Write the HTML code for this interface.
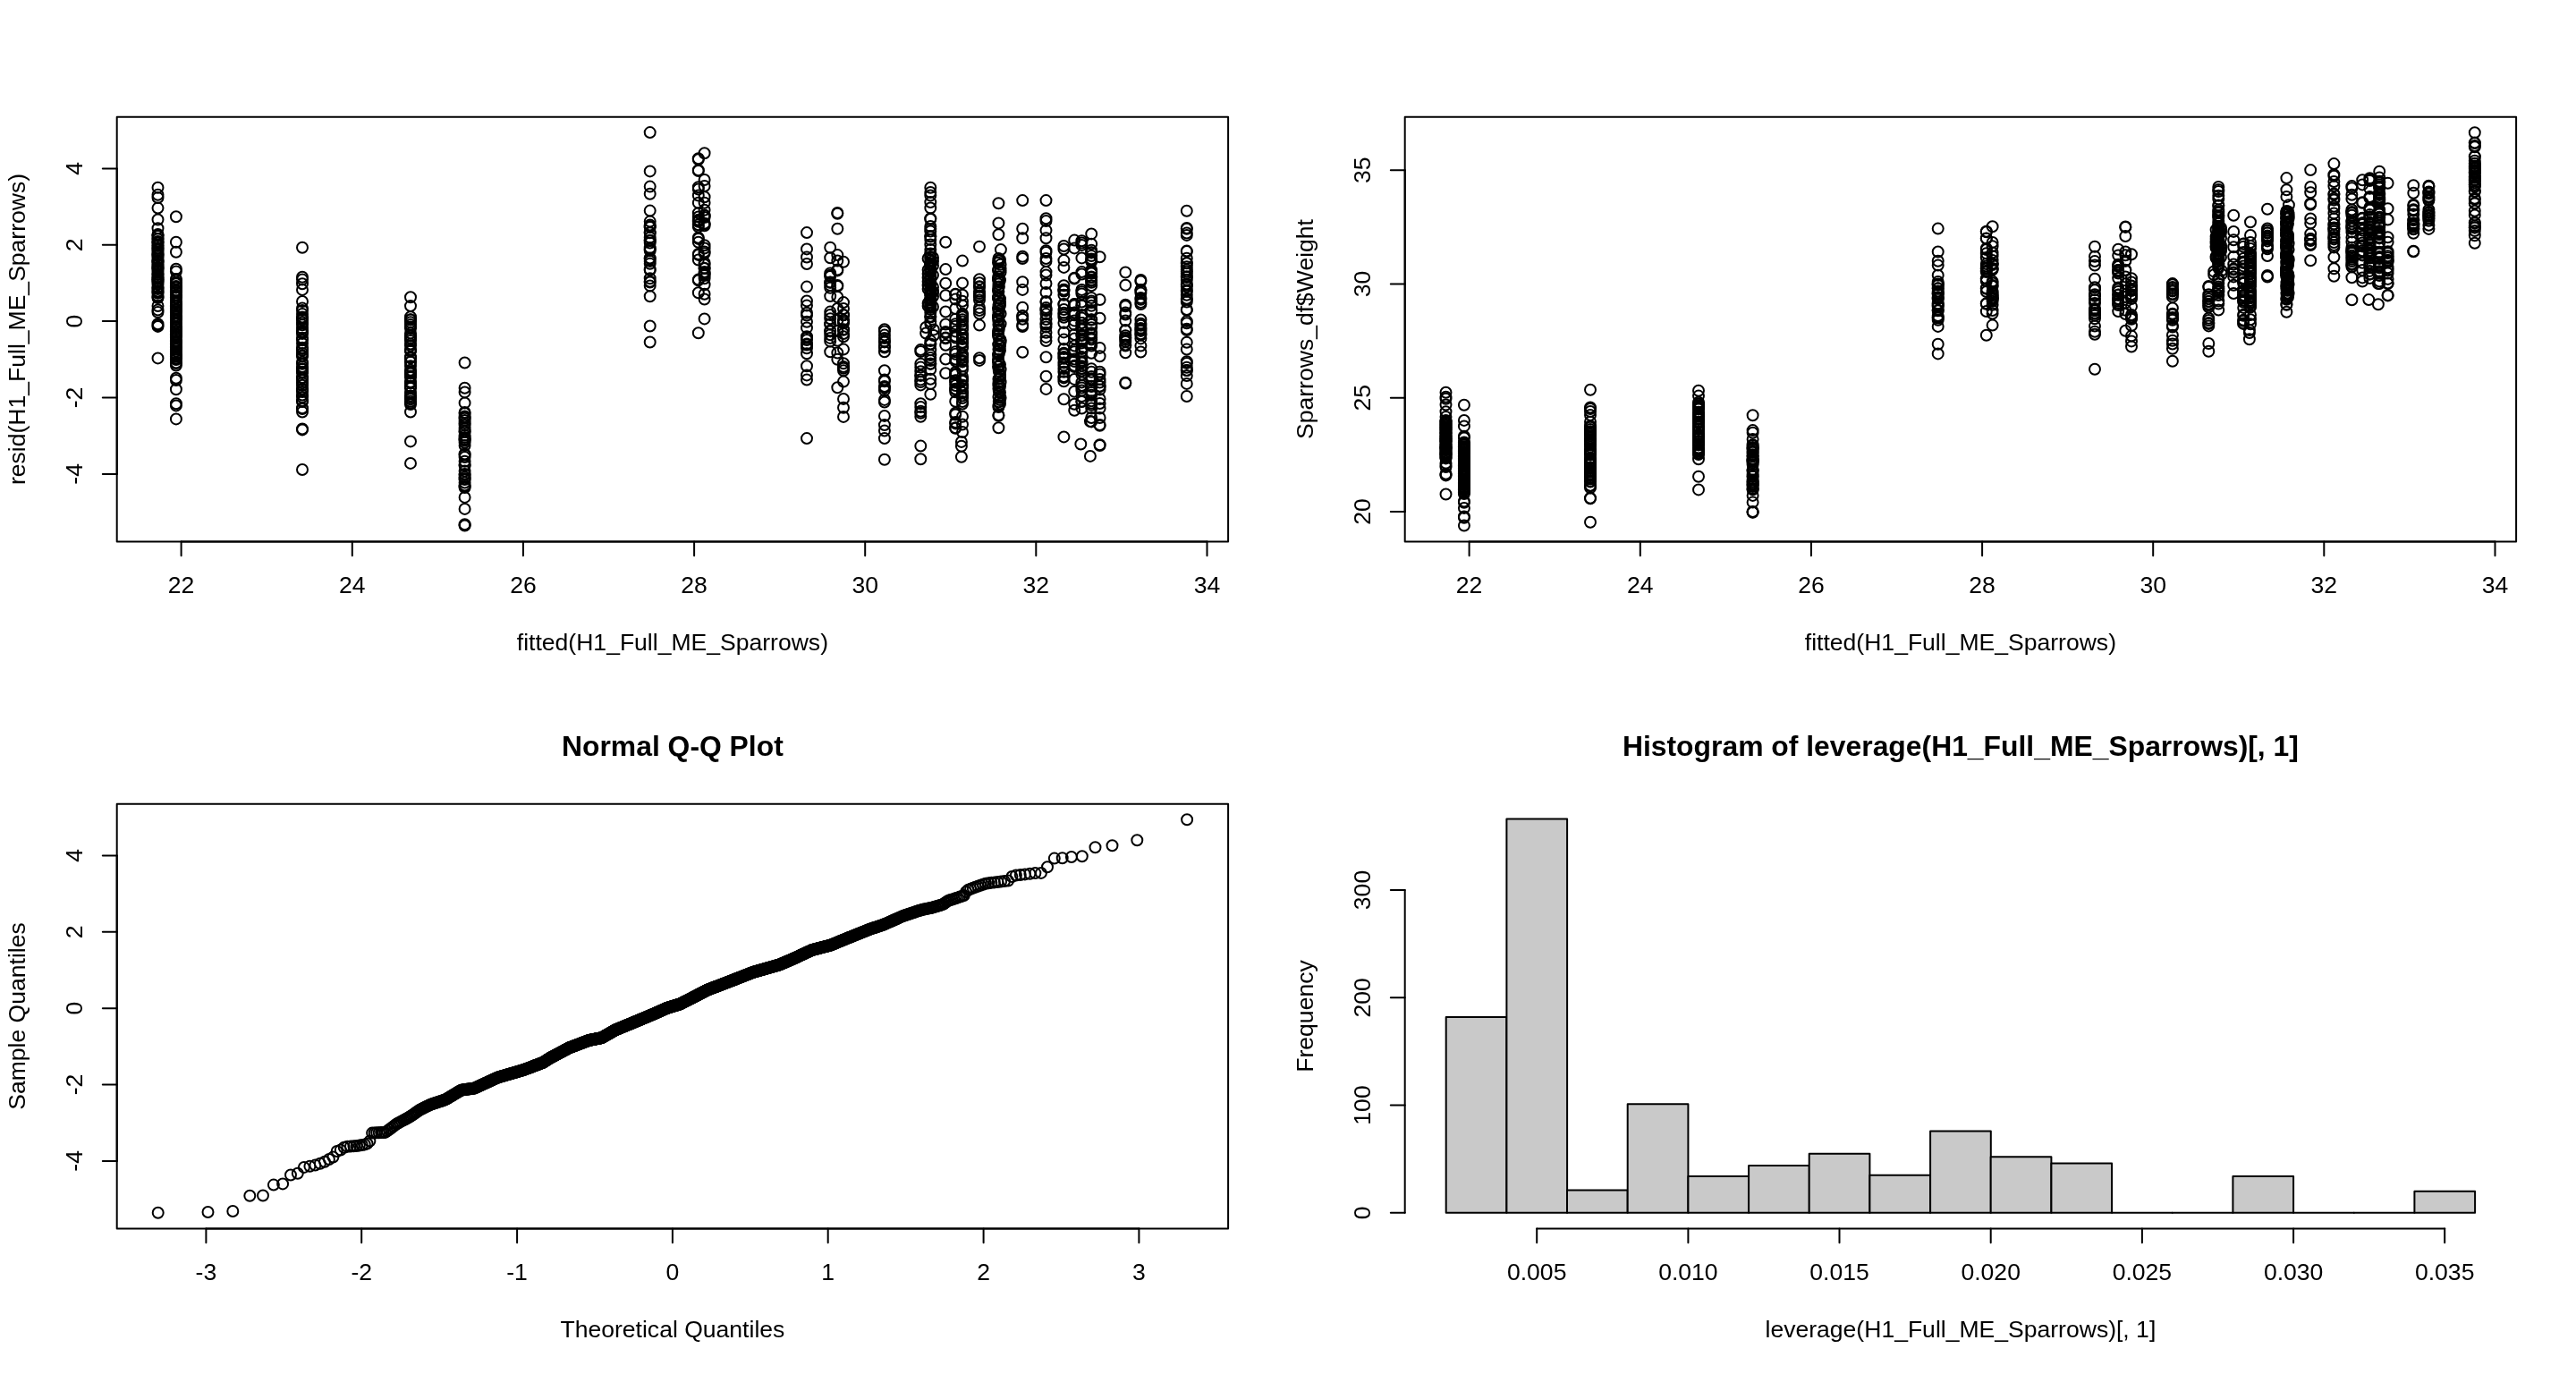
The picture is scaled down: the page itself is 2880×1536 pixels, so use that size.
<!DOCTYPE html>
<html><head><meta charset="utf-8"><title>plot</title>
<style>
html,body{margin:0;padding:0;background:#fff;}
body{width:2880px;height:1536px;overflow:hidden;}
svg{display:block;will-change:transform;}
.p{fill:none;stroke:#000;stroke-width:2.0;}
.l{fill:none;stroke:#000;stroke-width:2;stroke-linecap:round;stroke-linejoin:round;}
.b{fill:#C9C9C9;stroke:#000;stroke-width:2;stroke-linejoin:round;}
.t{font-family:"Liberation Sans",sans-serif;font-size:26.56px;fill:#000;text-anchor:middle;}
.h{font-family:"Liberation Sans",sans-serif;font-size:31.87px;font-weight:bold;fill:#000;text-anchor:middle;}
</style></head><body>

<svg width="2880" height="1536" viewBox="0 0 2880 1536">
<rect x="0" y="0" width="2880" height="1536" fill="#fff"/>
<g class="p">
<circle cx="176.5" cy="209.7" r="5.98"/><circle cx="176.5" cy="217.8" r="5.98"/><circle cx="176.5" cy="221.1" r="5.98"/><circle cx="176.5" cy="232.6" r="5.98"/><circle cx="176.5" cy="245.5" r="5.98"/><circle cx="176.5" cy="255.2" r="5.98"/><circle cx="176.5" cy="342" r="5.98"/><circle cx="176.5" cy="346.4" r="5.98"/><circle cx="176.5" cy="349.1" r="5.98"/><circle cx="176.5" cy="362.2" r="5.98"/><circle cx="176.5" cy="363.8" r="5.98"/><circle cx="176.5" cy="364.9" r="5.98"/><circle cx="176.5" cy="400.4" r="5.98"/><circle cx="176.5" cy="262" r="5.98"/><circle cx="176.5" cy="263" r="5.98"/><circle cx="176.5" cy="264.1" r="5.98"/><circle cx="176.5" cy="267" r="5.98"/><circle cx="176.5" cy="267.2" r="5.98"/><circle cx="176.5" cy="270" r="5.98"/><circle cx="176.5" cy="271.1" r="5.98"/><circle cx="176.5" cy="271.7" r="5.98"/><circle cx="176.5" cy="274.6" r="5.98"/><circle cx="176.5" cy="274.8" r="5.98"/><circle cx="176.5" cy="277.6" r="5.98"/><circle cx="176.5" cy="278.1" r="5.98"/><circle cx="176.5" cy="279.7" r="5.98"/><circle cx="176.5" cy="282.3" r="5.98"/><circle cx="176.5" cy="284.5" r="5.98"/><circle cx="176.5" cy="285.1" r="5.98"/><circle cx="176.5" cy="286.4" r="5.98"/><circle cx="176.5" cy="289.2" r="5.98"/><circle cx="176.5" cy="291.7" r="5.98"/><circle cx="176.5" cy="292.2" r="5.98"/><circle cx="176.5" cy="293.2" r="5.98"/><circle cx="176.5" cy="295.4" r="5.98"/><circle cx="176.5" cy="296.6" r="5.98"/><circle cx="176.5" cy="299.2" r="5.98"/><circle cx="176.5" cy="299.4" r="5.98"/><circle cx="176.5" cy="300.4" r="5.98"/><circle cx="176.5" cy="301.9" r="5.98"/><circle cx="176.5" cy="304" r="5.98"/><circle cx="176.5" cy="306.8" r="5.98"/><circle cx="176.5" cy="307.1" r="5.98"/><circle cx="176.5" cy="309.6" r="5.98"/><circle cx="176.5" cy="311.3" r="5.98"/><circle cx="176.5" cy="312.1" r="5.98"/><circle cx="176.5" cy="314.2" r="5.98"/><circle cx="176.5" cy="314.3" r="5.98"/><circle cx="176.5" cy="315.9" r="5.98"/><circle cx="176.5" cy="317.9" r="5.98"/><circle cx="176.5" cy="320.9" r="5.98"/><circle cx="176.5" cy="321.7" r="5.98"/><circle cx="176.5" cy="323" r="5.98"/><circle cx="176.5" cy="325.4" r="5.98"/><circle cx="176.5" cy="326.5" r="5.98"/><circle cx="176.5" cy="327.7" r="5.98"/><circle cx="176.5" cy="330.7" r="5.98"/><circle cx="176.5" cy="332" r="5.98"/><circle cx="176.5" cy="333" r="5.98"/><circle cx="196.9" cy="242.2" r="5.98"/><circle cx="196.9" cy="270.8" r="5.98"/><circle cx="196.9" cy="281.7" r="5.98"/><circle cx="196.9" cy="300.8" r="5.98"/><circle cx="196.9" cy="303.5" r="5.98"/><circle cx="196.9" cy="408.6" r="5.98"/><circle cx="196.9" cy="422.8" r="5.98"/><circle cx="196.9" cy="425" r="5.98"/><circle cx="196.9" cy="435.3" r="5.98"/><circle cx="196.9" cy="451.2" r="5.98"/><circle cx="196.9" cy="453.4" r="5.98"/><circle cx="196.9" cy="468.4" r="5.98"/><circle cx="196.9" cy="312" r="5.98"/><circle cx="196.9" cy="312.9" r="5.98"/><circle cx="196.9" cy="315.7" r="5.98"/><circle cx="196.9" cy="317.2" r="5.98"/><circle cx="196.9" cy="320.1" r="5.98"/><circle cx="196.9" cy="321.3" r="5.98"/><circle cx="196.9" cy="321.6" r="5.98"/><circle cx="196.9" cy="324.4" r="5.98"/><circle cx="196.9" cy="325.5" r="5.98"/><circle cx="196.9" cy="327.1" r="5.98"/><circle cx="196.9" cy="329.7" r="5.98"/><circle cx="196.9" cy="329.9" r="5.98"/><circle cx="196.9" cy="332.5" r="5.98"/><circle cx="196.9" cy="332.7" r="5.98"/><circle cx="196.9" cy="336.5" r="5.98"/><circle cx="196.9" cy="338.5" r="5.98"/><circle cx="196.9" cy="339.6" r="5.98"/><circle cx="196.9" cy="342.2" r="5.98"/><circle cx="196.9" cy="342.3" r="5.98"/><circle cx="196.9" cy="345.1" r="5.98"/><circle cx="196.9" cy="346.5" r="5.98"/><circle cx="196.9" cy="348.2" r="5.98"/><circle cx="196.9" cy="349.5" r="5.98"/><circle cx="196.9" cy="352.4" r="5.98"/><circle cx="196.9" cy="354.5" r="5.98"/><circle cx="196.9" cy="354.6" r="5.98"/><circle cx="196.9" cy="356.7" r="5.98"/><circle cx="196.9" cy="357" r="5.98"/><circle cx="196.9" cy="360.5" r="5.98"/><circle cx="196.9" cy="362" r="5.98"/><circle cx="196.9" cy="364.9" r="5.98"/><circle cx="196.9" cy="366" r="5.98"/><circle cx="196.9" cy="366" r="5.98"/><circle cx="196.9" cy="368" r="5.98"/><circle cx="196.9" cy="370.3" r="5.98"/><circle cx="196.9" cy="370.7" r="5.98"/><circle cx="196.9" cy="373.4" r="5.98"/><circle cx="196.9" cy="374.2" r="5.98"/><circle cx="196.9" cy="375.7" r="5.98"/><circle cx="196.9" cy="377.2" r="5.98"/><circle cx="196.9" cy="380.9" r="5.98"/><circle cx="196.9" cy="381.2" r="5.98"/><circle cx="196.9" cy="383" r="5.98"/><circle cx="196.9" cy="385.1" r="5.98"/><circle cx="196.9" cy="387.5" r="5.98"/><circle cx="196.9" cy="388.4" r="5.98"/><circle cx="196.9" cy="390.5" r="5.98"/><circle cx="196.9" cy="392.5" r="5.98"/><circle cx="196.9" cy="395.3" r="5.98"/><circle cx="196.9" cy="396.8" r="5.98"/><circle cx="196.9" cy="398.4" r="5.98"/><circle cx="196.9" cy="398.6" r="5.98"/><circle cx="196.9" cy="400.6" r="5.98"/><circle cx="196.9" cy="402.1" r="5.98"/><circle cx="196.9" cy="405.5" r="5.98"/><circle cx="196.9" cy="406" r="5.98"/><circle cx="338" cy="276.7" r="5.98"/><circle cx="338" cy="309.7" r="5.98"/><circle cx="338" cy="312.4" r="5.98"/><circle cx="338" cy="317.3" r="5.98"/><circle cx="338" cy="323.9" r="5.98"/><circle cx="338" cy="337" r="5.98"/><circle cx="338" cy="344.6" r="5.98"/><circle cx="338" cy="347" r="5.98"/><circle cx="338" cy="460.6" r="5.98"/><circle cx="338" cy="479.5" r="5.98"/><circle cx="338" cy="480.4" r="5.98"/><circle cx="338" cy="525" r="5.98"/><circle cx="338" cy="351" r="5.98"/><circle cx="338" cy="354.6" r="5.98"/><circle cx="338" cy="356.1" r="5.98"/><circle cx="338" cy="357.5" r="5.98"/><circle cx="338" cy="360.5" r="5.98"/><circle cx="338" cy="363.2" r="5.98"/><circle cx="338" cy="367.2" r="5.98"/><circle cx="338" cy="370.5" r="5.98"/><circle cx="338" cy="371.5" r="5.98"/><circle cx="338" cy="372.9" r="5.98"/><circle cx="338" cy="377.8" r="5.98"/><circle cx="338" cy="380.2" r="5.98"/><circle cx="338" cy="384" r="5.98"/><circle cx="338" cy="388.7" r="5.98"/><circle cx="338" cy="390" r="5.98"/><circle cx="338" cy="391.8" r="5.98"/><circle cx="338" cy="395.1" r="5.98"/><circle cx="338" cy="397.6" r="5.98"/><circle cx="338" cy="398.1" r="5.98"/><circle cx="338" cy="404.7" r="5.98"/><circle cx="338" cy="406.8" r="5.98"/><circle cx="338" cy="410" r="5.98"/><circle cx="338" cy="412.3" r="5.98"/><circle cx="338" cy="413" r="5.98"/><circle cx="338" cy="415.7" r="5.98"/><circle cx="338" cy="416.9" r="5.98"/><circle cx="338" cy="422.1" r="5.98"/><circle cx="338" cy="422.4" r="5.98"/><circle cx="338" cy="424.9" r="5.98"/><circle cx="338" cy="428.3" r="5.98"/><circle cx="338" cy="430.8" r="5.98"/><circle cx="338" cy="434.4" r="5.98"/><circle cx="338" cy="435.7" r="5.98"/><circle cx="338" cy="438.1" r="5.98"/><circle cx="338" cy="441.6" r="5.98"/><circle cx="338" cy="444.1" r="5.98"/><circle cx="338" cy="448.1" r="5.98"/><circle cx="338" cy="449.1" r="5.98"/><circle cx="338" cy="456.2" r="5.98"/><circle cx="338" cy="457" r="5.98"/><circle cx="459" cy="332.2" r="5.98"/><circle cx="459" cy="342.1" r="5.98"/><circle cx="459" cy="460.5" r="5.98"/><circle cx="459" cy="493.4" r="5.98"/><circle cx="459" cy="517.9" r="5.98"/><circle cx="459" cy="354.3" r="5.98"/><circle cx="459" cy="357.2" r="5.98"/><circle cx="459" cy="357.5" r="5.98"/><circle cx="459" cy="360.3" r="5.98"/><circle cx="459" cy="363.1" r="5.98"/><circle cx="459" cy="365.6" r="5.98"/><circle cx="459" cy="366.9" r="5.98"/><circle cx="459" cy="372.6" r="5.98"/><circle cx="459" cy="375.6" r="5.98"/><circle cx="459" cy="375.6" r="5.98"/><circle cx="459" cy="378.1" r="5.98"/><circle cx="459" cy="378.7" r="5.98"/><circle cx="459" cy="381.1" r="5.98"/><circle cx="459" cy="384.6" r="5.98"/><circle cx="459" cy="386.6" r="5.98"/><circle cx="459" cy="390.9" r="5.98"/><circle cx="459" cy="391.6" r="5.98"/><circle cx="459" cy="392.7" r="5.98"/><circle cx="459" cy="399.3" r="5.98"/><circle cx="459" cy="399.8" r="5.98"/><circle cx="459" cy="400.4" r="5.98"/><circle cx="459" cy="404.6" r="5.98"/><circle cx="459" cy="404.6" r="5.98"/><circle cx="459" cy="409.3" r="5.98"/><circle cx="459" cy="413.7" r="5.98"/><circle cx="459" cy="415.6" r="5.98"/><circle cx="459" cy="417.2" r="5.98"/><circle cx="459" cy="417.6" r="5.98"/><circle cx="459" cy="420.5" r="5.98"/><circle cx="459" cy="422" r="5.98"/><circle cx="459" cy="427.1" r="5.98"/><circle cx="459" cy="428.4" r="5.98"/><circle cx="459" cy="431.9" r="5.98"/><circle cx="459" cy="432.2" r="5.98"/><circle cx="459" cy="434.1" r="5.98"/><circle cx="459" cy="439.2" r="5.98"/><circle cx="459" cy="442.4" r="5.98"/><circle cx="459" cy="444.2" r="5.98"/><circle cx="459" cy="446.3" r="5.98"/><circle cx="459" cy="448.8" r="5.98"/><circle cx="459" cy="450.8" r="5.98"/><circle cx="459" cy="452.1" r="5.98"/><circle cx="519.6" cy="405.5" r="5.98"/><circle cx="519.6" cy="433.8" r="5.98"/><circle cx="519.6" cy="438.4" r="5.98"/><circle cx="519.6" cy="450.4" r="5.98"/><circle cx="519.6" cy="555.9" r="5.98"/><circle cx="519.6" cy="568.9" r="5.98"/><circle cx="519.6" cy="586.3" r="5.98"/><circle cx="519.6" cy="586.9" r="5.98"/><circle cx="519.6" cy="587.5" r="5.98"/><circle cx="519.6" cy="461" r="5.98"/><circle cx="519.6" cy="462" r="5.98"/><circle cx="519.6" cy="465.4" r="5.98"/><circle cx="519.6" cy="466.9" r="5.98"/><circle cx="519.6" cy="467.8" r="5.98"/><circle cx="519.6" cy="469.9" r="5.98"/><circle cx="519.6" cy="473.1" r="5.98"/><circle cx="519.6" cy="475.2" r="5.98"/><circle cx="519.6" cy="479.2" r="5.98"/><circle cx="519.6" cy="482.5" r="5.98"/><circle cx="519.6" cy="482.5" r="5.98"/><circle cx="519.6" cy="486.7" r="5.98"/><circle cx="519.6" cy="489.1" r="5.98"/><circle cx="519.6" cy="490.9" r="5.98"/><circle cx="519.6" cy="491.2" r="5.98"/><circle cx="519.6" cy="492.5" r="5.98"/><circle cx="519.6" cy="494.7" r="5.98"/><circle cx="519.6" cy="498" r="5.98"/><circle cx="519.6" cy="507.4" r="5.98"/><circle cx="519.6" cy="508.5" r="5.98"/><circle cx="519.6" cy="511.1" r="5.98"/><circle cx="519.6" cy="515.8" r="5.98"/><circle cx="519.6" cy="519.8" r="5.98"/><circle cx="519.6" cy="520.4" r="5.98"/><circle cx="519.6" cy="526.6" r="5.98"/><circle cx="519.6" cy="530" r="5.98"/><circle cx="519.6" cy="530.6" r="5.98"/><circle cx="519.6" cy="533.4" r="5.98"/><circle cx="519.6" cy="535.3" r="5.98"/><circle cx="519.6" cy="536" r="5.98"/><circle cx="519.6" cy="539.6" r="5.98"/><circle cx="519.6" cy="542.6" r="5.98"/><circle cx="519.6" cy="544.1" r="5.98"/><circle cx="519.6" cy="545.1" r="5.98"/><circle cx="726.7" cy="148.1" r="5.98"/><circle cx="726.7" cy="191.4" r="5.98"/><circle cx="726.7" cy="208.6" r="5.98"/><circle cx="726.7" cy="216.8" r="5.98"/><circle cx="726.7" cy="235.6" r="5.98"/><circle cx="726.7" cy="331.3" r="5.98"/><circle cx="726.7" cy="364.5" r="5.98"/><circle cx="726.7" cy="382.5" r="5.98"/><circle cx="726.7" cy="247.6" r="5.98"/><circle cx="726.7" cy="251.6" r="5.98"/><circle cx="726.7" cy="252.9" r="5.98"/><circle cx="726.7" cy="254.1" r="5.98"/><circle cx="726.7" cy="260" r="5.98"/><circle cx="726.7" cy="260.3" r="5.98"/><circle cx="726.7" cy="265.5" r="5.98"/><circle cx="726.7" cy="268.8" r="5.98"/><circle cx="726.7" cy="269.1" r="5.98"/><circle cx="726.7" cy="271.5" r="5.98"/><circle cx="726.7" cy="277.1" r="5.98"/><circle cx="726.7" cy="278.6" r="5.98"/><circle cx="726.7" cy="280.2" r="5.98"/><circle cx="726.7" cy="288.4" r="5.98"/><circle cx="726.7" cy="289.4" r="5.98"/><circle cx="726.7" cy="291.9" r="5.98"/><circle cx="726.7" cy="294.7" r="5.98"/><circle cx="726.7" cy="301.3" r="5.98"/><circle cx="726.7" cy="301.9" r="5.98"/><circle cx="726.7" cy="311.2" r="5.98"/><circle cx="726.7" cy="314.8" r="5.98"/><circle cx="726.7" cy="315.5" r="5.98"/><circle cx="726.7" cy="319.4" r="5.98"/><circle cx="780.8" cy="177.3" r="5.98"/><circle cx="780.8" cy="178.2" r="5.98"/><circle cx="780.8" cy="190.2" r="5.98"/><circle cx="780.8" cy="191" r="5.98"/><circle cx="780.8" cy="209.2" r="5.98"/><circle cx="780.8" cy="211.5" r="5.98"/><circle cx="780.8" cy="218.5" r="5.98"/><circle cx="780.8" cy="226.7" r="5.98"/><circle cx="780.8" cy="265.8" r="5.98"/><circle cx="780.8" cy="266.9" r="5.98"/><circle cx="780.8" cy="270.7" r="5.98"/><circle cx="780.8" cy="283.9" r="5.98"/><circle cx="780.8" cy="284.9" r="5.98"/><circle cx="780.8" cy="290.5" r="5.98"/><circle cx="780.8" cy="312.6" r="5.98"/><circle cx="780.8" cy="313.4" r="5.98"/><circle cx="780.8" cy="327.3" r="5.98"/><circle cx="780.8" cy="372.2" r="5.98"/><circle cx="780.8" cy="238.3" r="5.98"/><circle cx="780.8" cy="242.4" r="5.98"/><circle cx="780.8" cy="245.7" r="5.98"/><circle cx="780.8" cy="246.7" r="5.98"/><circle cx="780.8" cy="247.7" r="5.98"/><circle cx="780.8" cy="251.2" r="5.98"/><circle cx="780.8" cy="253.5" r="5.98"/><circle cx="787.6" cy="171.3" r="5.98"/><circle cx="787.6" cy="201" r="5.98"/><circle cx="787.6" cy="208" r="5.98"/><circle cx="787.6" cy="220.3" r="5.98"/><circle cx="787.6" cy="226.7" r="5.98"/><circle cx="787.6" cy="234.8" r="5.98"/><circle cx="787.6" cy="274.2" r="5.98"/><circle cx="787.6" cy="277.5" r="5.98"/><circle cx="787.6" cy="281.4" r="5.98"/><circle cx="787.6" cy="283.3" r="5.98"/><circle cx="787.6" cy="318.2" r="5.98"/><circle cx="787.6" cy="328.7" r="5.98"/><circle cx="787.6" cy="334.5" r="5.98"/><circle cx="787.6" cy="356.4" r="5.98"/><circle cx="787.6" cy="240.6" r="5.98"/><circle cx="787.6" cy="241.3" r="5.98"/><circle cx="787.6" cy="243.1" r="5.98"/><circle cx="787.6" cy="249.7" r="5.98"/><circle cx="787.6" cy="250.6" r="5.98"/><circle cx="787.6" cy="252.3" r="5.98"/><circle cx="787.6" cy="293.8" r="5.98"/><circle cx="787.6" cy="296.1" r="5.98"/><circle cx="787.6" cy="299.9" r="5.98"/><circle cx="787.6" cy="300.1" r="5.98"/><circle cx="787.6" cy="304" r="5.98"/><circle cx="787.6" cy="305.7" r="5.98"/><circle cx="787.6" cy="306" r="5.98"/><circle cx="787.6" cy="308" r="5.98"/><circle cx="787.6" cy="311.2" r="5.98"/><circle cx="902" cy="260.1" r="5.98"/><circle cx="902" cy="278.4" r="5.98"/><circle cx="902" cy="287.5" r="5.98"/><circle cx="902" cy="295" r="5.98"/><circle cx="902" cy="320.6" r="5.98"/><circle cx="902" cy="336.4" r="5.98"/><circle cx="902" cy="341.6" r="5.98"/><circle cx="902" cy="349.8" r="5.98"/><circle cx="902" cy="352.6" r="5.98"/><circle cx="902" cy="359.8" r="5.98"/><circle cx="902" cy="366.4" r="5.98"/><circle cx="902" cy="395.2" r="5.98"/><circle cx="902" cy="409.2" r="5.98"/><circle cx="902" cy="419.4" r="5.98"/><circle cx="902" cy="424.6" r="5.98"/><circle cx="902" cy="490.1" r="5.98"/><circle cx="902" cy="376.2" r="5.98"/><circle cx="902" cy="377.8" r="5.98"/><circle cx="902" cy="380.1" r="5.98"/><circle cx="902" cy="384.5" r="5.98"/><circle cx="902" cy="385.5" r="5.98"/><circle cx="902" cy="389.3" r="5.98"/><circle cx="928.2" cy="276.7" r="5.98"/><circle cx="928.2" cy="288.3" r="5.98"/><circle cx="928.2" cy="331.1" r="5.98"/><circle cx="928.2" cy="348.6" r="5.98"/><circle cx="928.2" cy="393.2" r="5.98"/><circle cx="928.2" cy="305.5" r="5.98"/><circle cx="928.2" cy="307.8" r="5.98"/><circle cx="928.2" cy="309" r="5.98"/><circle cx="928.2" cy="315.6" r="5.98"/><circle cx="928.2" cy="315.8" r="5.98"/><circle cx="928.2" cy="318.9" r="5.98"/><circle cx="928.2" cy="321.8" r="5.98"/><circle cx="928.2" cy="352" r="5.98"/><circle cx="928.2" cy="356.3" r="5.98"/><circle cx="928.2" cy="362.2" r="5.98"/><circle cx="928.2" cy="362.5" r="5.98"/><circle cx="928.2" cy="369.6" r="5.98"/><circle cx="928.2" cy="370.4" r="5.98"/><circle cx="928.2" cy="374.3" r="5.98"/><circle cx="928.2" cy="377.9" r="5.98"/><circle cx="928.2" cy="381.4" r="5.98"/><circle cx="936.3" cy="237.9" r="5.98"/><circle cx="936.3" cy="238.7" r="5.98"/><circle cx="936.3" cy="255.8" r="5.98"/><circle cx="936.3" cy="285.1" r="5.98"/><circle cx="936.3" cy="291.5" r="5.98"/><circle cx="936.3" cy="301.6" r="5.98"/><circle cx="936.3" cy="302.4" r="5.98"/><circle cx="936.3" cy="319.1" r="5.98"/><circle cx="936.3" cy="319.9" r="5.98"/><circle cx="936.3" cy="332" r="5.98"/><circle cx="936.3" cy="345" r="5.98"/><circle cx="936.3" cy="358" r="5.98"/><circle cx="936.3" cy="370" r="5.98"/><circle cx="936.3" cy="380.8" r="5.98"/><circle cx="936.3" cy="394.5" r="5.98"/><circle cx="936.3" cy="401.7" r="5.98"/><circle cx="936.3" cy="433.2" r="5.98"/><circle cx="943" cy="292.7" r="5.98"/><circle cx="943" cy="338.1" r="5.98"/><circle cx="943" cy="345" r="5.98"/><circle cx="943" cy="390.6" r="5.98"/><circle cx="943" cy="426.6" r="5.98"/><circle cx="943" cy="445.9" r="5.98"/><circle cx="943" cy="455.7" r="5.98"/><circle cx="943" cy="465.9" r="5.98"/><circle cx="943" cy="352" r="5.98"/><circle cx="943" cy="352.3" r="5.98"/><circle cx="943" cy="357.7" r="5.98"/><circle cx="943" cy="359.3" r="5.98"/><circle cx="943" cy="361.2" r="5.98"/><circle cx="943" cy="368.3" r="5.98"/><circle cx="943" cy="368.8" r="5.98"/><circle cx="943" cy="373" r="5.98"/><circle cx="943" cy="376.2" r="5.98"/><circle cx="943" cy="406.3" r="5.98"/><circle cx="943" cy="410.1" r="5.98"/><circle cx="943" cy="411.8" r="5.98"/><circle cx="943" cy="414.2" r="5.98"/><circle cx="988.9" cy="414.2" r="5.98"/><circle cx="988.9" cy="446.9" r="5.98"/><circle cx="988.9" cy="449.5" r="5.98"/><circle cx="988.9" cy="464.9" r="5.98"/><circle cx="988.9" cy="475.1" r="5.98"/><circle cx="988.9" cy="481.6" r="5.98"/><circle cx="988.9" cy="490.1" r="5.98"/><circle cx="988.9" cy="513.7" r="5.98"/><circle cx="988.9" cy="368.3" r="5.98"/><circle cx="988.9" cy="370.4" r="5.98"/><circle cx="988.9" cy="374.6" r="5.98"/><circle cx="988.9" cy="378" r="5.98"/><circle cx="988.9" cy="381.5" r="5.98"/><circle cx="988.9" cy="382.4" r="5.98"/><circle cx="988.9" cy="387.3" r="5.98"/><circle cx="988.9" cy="388.6" r="5.98"/><circle cx="988.9" cy="393.2" r="5.98"/><circle cx="988.9" cy="424.6" r="5.98"/><circle cx="988.9" cy="426.3" r="5.98"/><circle cx="988.9" cy="432" r="5.98"/><circle cx="988.9" cy="433.5" r="5.98"/><circle cx="988.9" cy="436.4" r="5.98"/><circle cx="1029.3" cy="391.1" r="5.98"/><circle cx="1029.3" cy="393" r="5.98"/><circle cx="1029.3" cy="498.6" r="5.98"/><circle cx="1029.3" cy="513.2" r="5.98"/><circle cx="1029.3" cy="406.8" r="5.98"/><circle cx="1029.3" cy="410.6" r="5.98"/><circle cx="1029.3" cy="415.2" r="5.98"/><circle cx="1029.3" cy="419.6" r="5.98"/><circle cx="1029.3" cy="419.9" r="5.98"/><circle cx="1029.3" cy="424.4" r="5.98"/><circle cx="1029.3" cy="427.1" r="5.98"/><circle cx="1029.3" cy="430.4" r="5.98"/><circle cx="1029.3" cy="451.3" r="5.98"/><circle cx="1029.3" cy="455" r="5.98"/><circle cx="1029.3" cy="459.8" r="5.98"/><circle cx="1029.3" cy="461.8" r="5.98"/><circle cx="1029.3" cy="465.7" r="5.98"/><circle cx="1040.3" cy="209.8" r="5.98"/><circle cx="1040.3" cy="215" r="5.98"/><circle cx="1040.3" cy="218.5" r="5.98"/><circle cx="1040.3" cy="226.1" r="5.98"/><circle cx="1040.3" cy="232.5" r="5.98"/><circle cx="1040.3" cy="244.3" r="5.98"/><circle cx="1040.3" cy="245.1" r="5.98"/><circle cx="1040.3" cy="423.8" r="5.98"/><circle cx="1040.3" cy="429" r="5.98"/><circle cx="1040.3" cy="440.8" r="5.98"/><circle cx="1040.3" cy="252.9" r="5.98"/><circle cx="1040.3" cy="256" r="5.98"/><circle cx="1040.3" cy="258.6" r="5.98"/><circle cx="1040.3" cy="264" r="5.98"/><circle cx="1040.3" cy="264.5" r="5.98"/><circle cx="1040.3" cy="268" r="5.98"/><circle cx="1040.3" cy="273.5" r="5.98"/><circle cx="1040.3" cy="278.9" r="5.98"/><circle cx="1040.3" cy="283.4" r="5.98"/><circle cx="1040.3" cy="284" r="5.98"/><circle cx="1040.3" cy="287" r="5.98"/><circle cx="1040.3" cy="288" r="5.98"/><circle cx="1040.3" cy="291" r="5.98"/><circle cx="1040.3" cy="294.3" r="5.98"/><circle cx="1040.3" cy="295.2" r="5.98"/><circle cx="1040.3" cy="295.8" r="5.98"/><circle cx="1040.3" cy="297" r="5.98"/><circle cx="1040.3" cy="300.1" r="5.98"/><circle cx="1040.3" cy="300.6" r="5.98"/><circle cx="1040.3" cy="303.1" r="5.98"/><circle cx="1040.3" cy="304.4" r="5.98"/><circle cx="1040.3" cy="308.5" r="5.98"/><circle cx="1040.3" cy="310.8" r="5.98"/><circle cx="1040.3" cy="312.3" r="5.98"/><circle cx="1040.3" cy="313.1" r="5.98"/><circle cx="1040.3" cy="316.2" r="5.98"/><circle cx="1040.3" cy="317.9" r="5.98"/><circle cx="1040.3" cy="318" r="5.98"/><circle cx="1040.3" cy="322.5" r="5.98"/><circle cx="1040.3" cy="323.9" r="5.98"/><circle cx="1040.3" cy="324.7" r="5.98"/><circle cx="1040.3" cy="328.4" r="5.98"/><circle cx="1040.3" cy="328.5" r="5.98"/><circle cx="1040.3" cy="330.6" r="5.98"/><circle cx="1040.3" cy="334.3" r="5.98"/><circle cx="1040.3" cy="335.1" r="5.98"/><circle cx="1040.3" cy="335.6" r="5.98"/><circle cx="1040.3" cy="338" r="5.98"/><circle cx="1040.3" cy="340.2" r="5.98"/><circle cx="1040.3" cy="342" r="5.98"/><circle cx="1040.3" cy="342" r="5.98"/><circle cx="1040.3" cy="344" r="5.98"/><circle cx="1040.3" cy="346.1" r="5.98"/><circle cx="1040.3" cy="349.6" r="5.98"/><circle cx="1040.3" cy="353.7" r="5.98"/><circle cx="1040.3" cy="354.6" r="5.98"/><circle cx="1040.3" cy="359.4" r="5.98"/><circle cx="1040.3" cy="362" r="5.98"/><circle cx="1040.3" cy="381" r="5.98"/><circle cx="1040.3" cy="384.4" r="5.98"/><circle cx="1040.3" cy="385.1" r="5.98"/><circle cx="1040.3" cy="391.2" r="5.98"/><circle cx="1040.3" cy="397.1" r="5.98"/><circle cx="1040.3" cy="400" r="5.98"/><circle cx="1040.3" cy="403" r="5.98"/><circle cx="1040.3" cy="406.4" r="5.98"/><circle cx="1040.3" cy="406.9" r="5.98"/><circle cx="1040.3" cy="413" r="5.98"/><circle cx="1035.2" cy="366" r="5.98"/><circle cx="1035.2" cy="372.5" r="5.98"/><circle cx="1043.8" cy="368.5" r="5.98"/><circle cx="1043.8" cy="375" r="5.98"/><circle cx="1037.6" cy="289" r="5.98"/><circle cx="1037.6" cy="301.7" r="5.98"/><circle cx="1037.6" cy="305.9" r="5.98"/><circle cx="1037.6" cy="310.5" r="5.98"/><circle cx="1037.6" cy="314.8" r="5.98"/><circle cx="1037.6" cy="319.2" r="5.98"/><circle cx="1037.6" cy="323" r="5.98"/><circle cx="1037.6" cy="338.9" r="5.98"/><circle cx="1037.6" cy="342" r="5.98"/><circle cx="1043" cy="288" r="5.98"/><circle cx="1043" cy="291.9" r="5.98"/><circle cx="1043" cy="296.9" r="5.98"/><circle cx="1043" cy="307.6" r="5.98"/><circle cx="1043" cy="320.9" r="5.98"/><circle cx="1043" cy="326.1" r="5.98"/><circle cx="1043" cy="326.5" r="5.98"/><circle cx="1043" cy="331.5" r="5.98"/><circle cx="1043" cy="343" r="5.98"/><circle cx="1057.2" cy="270.8" r="5.98"/><circle cx="1057.2" cy="301.1" r="5.98"/><circle cx="1057.2" cy="316.8" r="5.98"/><circle cx="1057.2" cy="330.2" r="5.98"/><circle cx="1057.2" cy="348.5" r="5.98"/><circle cx="1057.2" cy="401.5" r="5.98"/><circle cx="1057.2" cy="417.2" r="5.98"/><circle cx="1057.2" cy="362.5" r="5.98"/><circle cx="1057.2" cy="370.9" r="5.98"/><circle cx="1057.2" cy="372.4" r="5.98"/><circle cx="1057.2" cy="377.5" r="5.98"/><circle cx="1057.2" cy="378.3" r="5.98"/><circle cx="1057.2" cy="385.8" r="5.98"/><circle cx="1068.2" cy="345" r="5.98"/><circle cx="1068.2" cy="448.7" r="5.98"/><circle cx="1068.2" cy="472" r="5.98"/><circle cx="1068.2" cy="478.2" r="5.98"/><circle cx="1068.2" cy="328.7" r="5.98"/><circle cx="1068.2" cy="329.2" r="5.98"/><circle cx="1068.2" cy="334.5" r="5.98"/><circle cx="1068.2" cy="356.7" r="5.98"/><circle cx="1068.2" cy="362.2" r="5.98"/><circle cx="1068.2" cy="364.8" r="5.98"/><circle cx="1068.2" cy="370.6" r="5.98"/><circle cx="1068.2" cy="375.7" r="5.98"/><circle cx="1068.2" cy="377.6" r="5.98"/><circle cx="1068.2" cy="393.3" r="5.98"/><circle cx="1068.2" cy="395.8" r="5.98"/><circle cx="1068.2" cy="401.5" r="5.98"/><circle cx="1068.2" cy="403.6" r="5.98"/><circle cx="1068.2" cy="416.1" r="5.98"/><circle cx="1068.2" cy="418" r="5.98"/><circle cx="1068.2" cy="418.6" r="5.98"/><circle cx="1068.2" cy="419" r="5.98"/><circle cx="1068.2" cy="425.2" r="5.98"/><circle cx="1068.2" cy="425.7" r="5.98"/><circle cx="1068.2" cy="427.7" r="5.98"/><circle cx="1068.2" cy="431.1" r="5.98"/><circle cx="1068.2" cy="434.7" r="5.98"/><circle cx="1068.2" cy="435.3" r="5.98"/><circle cx="1068.2" cy="438.2" r="5.98"/><circle cx="1068.2" cy="461.8" r="5.98"/><circle cx="1068.2" cy="463.5" r="5.98"/><circle cx="1068.2" cy="473.4" r="5.98"/><circle cx="1068.2" cy="478.8" r="5.98"/><circle cx="1076" cy="291.6" r="5.98"/><circle cx="1076" cy="316.4" r="5.98"/><circle cx="1076" cy="329.8" r="5.98"/><circle cx="1076" cy="336.7" r="5.98"/><circle cx="1076" cy="341.4" r="5.98"/><circle cx="1076" cy="449" r="5.98"/><circle cx="1076" cy="451.5" r="5.98"/><circle cx="1076" cy="465.7" r="5.98"/><circle cx="1076" cy="474.5" r="5.98"/><circle cx="1076" cy="483" r="5.98"/><circle cx="1076" cy="350.8" r="5.98"/><circle cx="1076" cy="352.2" r="5.98"/><circle cx="1076" cy="354.2" r="5.98"/><circle cx="1076" cy="357.2" r="5.98"/><circle cx="1076" cy="359.4" r="5.98"/><circle cx="1076" cy="362.9" r="5.98"/><circle cx="1076" cy="366.2" r="5.98"/><circle cx="1076" cy="368.8" r="5.98"/><circle cx="1076" cy="373.9" r="5.98"/><circle cx="1076" cy="374.2" r="5.98"/><circle cx="1076" cy="378" r="5.98"/><circle cx="1076" cy="379.1" r="5.98"/><circle cx="1076" cy="382.7" r="5.98"/><circle cx="1076" cy="383.7" r="5.98"/><circle cx="1076" cy="387.6" r="5.98"/><circle cx="1076" cy="389.1" r="5.98"/><circle cx="1076" cy="395.6" r="5.98"/><circle cx="1076" cy="397.3" r="5.98"/><circle cx="1076" cy="399.8" r="5.98"/><circle cx="1076" cy="403" r="5.98"/><circle cx="1076" cy="404.4" r="5.98"/><circle cx="1076" cy="409.5" r="5.98"/><circle cx="1076" cy="413" r="5.98"/><circle cx="1076" cy="421" r="5.98"/><circle cx="1076" cy="424.3" r="5.98"/><circle cx="1076" cy="425.9" r="5.98"/><circle cx="1076" cy="430.6" r="5.98"/><circle cx="1076" cy="431.3" r="5.98"/><circle cx="1076" cy="434.3" r="5.98"/><circle cx="1076" cy="438.7" r="5.98"/><circle cx="1076" cy="439.1" r="5.98"/><circle cx="1076" cy="442.4" r="5.98"/><circle cx="1076" cy="445" r="5.98"/><circle cx="1074.9" cy="493.9" r="5.98"/><circle cx="1074.9" cy="498.8" r="5.98"/><circle cx="1074.9" cy="510.8" r="5.98"/><circle cx="1095" cy="275.8" r="5.98"/><circle cx="1095" cy="344" r="5.98"/><circle cx="1095" cy="347" r="5.98"/><circle cx="1095" cy="350.5" r="5.98"/><circle cx="1095" cy="363.6" r="5.98"/><circle cx="1095" cy="400.2" r="5.98"/><circle cx="1095" cy="402.9" r="5.98"/><circle cx="1095" cy="312.3" r="5.98"/><circle cx="1095" cy="316.3" r="5.98"/><circle cx="1095" cy="320.2" r="5.98"/><circle cx="1095" cy="320.8" r="5.98"/><circle cx="1095" cy="325.8" r="5.98"/><circle cx="1095" cy="328" r="5.98"/><circle cx="1095" cy="330.5" r="5.98"/><circle cx="1095" cy="332.2" r="5.98"/><circle cx="1095" cy="335.6" r="5.98"/><circle cx="1116.4" cy="227.3" r="5.98"/><circle cx="1116.4" cy="249.4" r="5.98"/><circle cx="1116.4" cy="262.2" r="5.98"/><circle cx="1116.4" cy="464" r="5.98"/><circle cx="1116.4" cy="464.8" r="5.98"/><circle cx="1116.4" cy="478.2" r="5.98"/><circle cx="1116.4" cy="289" r="5.98"/><circle cx="1118" cy="290.5" r="5.98"/><circle cx="1116.4" cy="291.4" r="5.98"/><circle cx="1116" cy="293.8" r="5.98"/><circle cx="1118.6" cy="295.7" r="5.98"/><circle cx="1118.6" cy="300.5" r="5.98"/><circle cx="1116.4" cy="300.6" r="5.98"/><circle cx="1116" cy="302.4" r="5.98"/><circle cx="1118.6" cy="304.2" r="5.98"/><circle cx="1116.4" cy="309.3" r="5.98"/><circle cx="1116" cy="311.5" r="5.98"/><circle cx="1116" cy="312.8" r="5.98"/><circle cx="1118" cy="313.3" r="5.98"/><circle cx="1116.8" cy="315.3" r="5.98"/><circle cx="1116.4" cy="317.6" r="5.98"/><circle cx="1116.8" cy="320.4" r="5.98"/><circle cx="1116.4" cy="321.3" r="5.98"/><circle cx="1116" cy="324.5" r="5.98"/><circle cx="1116.4" cy="325.9" r="5.98"/><circle cx="1116.4" cy="330.8" r="5.98"/><circle cx="1116" cy="332.9" r="5.98"/><circle cx="1116" cy="333.3" r="5.98"/><circle cx="1118" cy="334.2" r="5.98"/><circle cx="1118" cy="338.7" r="5.98"/><circle cx="1118" cy="339.2" r="5.98"/><circle cx="1116.4" cy="341" r="5.98"/><circle cx="1118" cy="341.6" r="5.98"/><circle cx="1116" cy="345.3" r="5.98"/><circle cx="1116.8" cy="347.7" r="5.98"/><circle cx="1116.4" cy="349.9" r="5.98"/><circle cx="1118.6" cy="350.8" r="5.98"/><circle cx="1116" cy="354.2" r="5.98"/><circle cx="1116" cy="354.3" r="5.98"/><circle cx="1116.4" cy="357.4" r="5.98"/><circle cx="1116.4" cy="358.8" r="5.98"/><circle cx="1118.6" cy="362.1" r="5.98"/><circle cx="1116.4" cy="362.8" r="5.98"/><circle cx="1116.8" cy="364.8" r="5.98"/><circle cx="1116.8" cy="368.1" r="5.98"/><circle cx="1116" cy="369.9" r="5.98"/><circle cx="1116" cy="373.4" r="5.98"/><circle cx="1116" cy="375.3" r="5.98"/><circle cx="1116.8" cy="378.3" r="5.98"/><circle cx="1118.6" cy="380" r="5.98"/><circle cx="1118.6" cy="382.3" r="5.98"/><circle cx="1116.4" cy="385.1" r="5.98"/><circle cx="1116.4" cy="385.2" r="5.98"/><circle cx="1118" cy="387.1" r="5.98"/><circle cx="1116.4" cy="390.6" r="5.98"/><circle cx="1118" cy="391.8" r="5.98"/><circle cx="1116.8" cy="395" r="5.98"/><circle cx="1116" cy="396.4" r="5.98"/><circle cx="1116.4" cy="396.7" r="5.98"/><circle cx="1116" cy="401.7" r="5.98"/><circle cx="1116.4" cy="404" r="5.98"/><circle cx="1116" cy="405.1" r="5.98"/><circle cx="1118" cy="407.6" r="5.98"/><circle cx="1116.8" cy="409.4" r="5.98"/><circle cx="1116" cy="410" r="5.98"/><circle cx="1118.6" cy="413.1" r="5.98"/><circle cx="1116.8" cy="415.1" r="5.98"/><circle cx="1118" cy="418.5" r="5.98"/><circle cx="1118" cy="420.5" r="5.98"/><circle cx="1118" cy="422.7" r="5.98"/><circle cx="1116.4" cy="423.8" r="5.98"/><circle cx="1118.6" cy="427.2" r="5.98"/><circle cx="1116.4" cy="428.4" r="5.98"/><circle cx="1116.8" cy="430.6" r="5.98"/><circle cx="1116.4" cy="430.8" r="5.98"/><circle cx="1118" cy="432.1" r="5.98"/><circle cx="1116.4" cy="434.6" r="5.98"/><circle cx="1116.8" cy="437.6" r="5.98"/><circle cx="1118" cy="438.7" r="5.98"/><circle cx="1116.4" cy="443.7" r="5.98"/><circle cx="1118.6" cy="444.7" r="5.98"/><circle cx="1118" cy="447.1" r="5.98"/><circle cx="1116.8" cy="449.2" r="5.98"/><circle cx="1118" cy="451.5" r="5.98"/><circle cx="1116.4" cy="452.9" r="5.98"/><circle cx="1116.4" cy="455" r="5.98"/><circle cx="1118.9" cy="279.1" r="5.98"/><circle cx="1143.2" cy="224.1" r="5.98"/><circle cx="1143.2" cy="255.8" r="5.98"/><circle cx="1143.2" cy="266.3" r="5.98"/><circle cx="1143.2" cy="286.7" r="5.98"/><circle cx="1143.2" cy="289" r="5.98"/><circle cx="1143.2" cy="315.2" r="5.98"/><circle cx="1143.2" cy="323.9" r="5.98"/><circle cx="1143.2" cy="343.7" r="5.98"/><circle cx="1143.2" cy="393.7" r="5.98"/><circle cx="1143.2" cy="353" r="5.98"/><circle cx="1143.2" cy="353.6" r="5.98"/><circle cx="1143.2" cy="356.7" r="5.98"/><circle cx="1143.2" cy="363.4" r="5.98"/><circle cx="1143.2" cy="365" r="5.98"/><circle cx="1169.5" cy="224.1" r="5.98"/><circle cx="1169.5" cy="244.2" r="5.98"/><circle cx="1169.5" cy="247.1" r="5.98"/><circle cx="1169.5" cy="257.6" r="5.98"/><circle cx="1169.5" cy="266.3" r="5.98"/><circle cx="1169.5" cy="280.3" r="5.98"/><circle cx="1169.5" cy="282" r="5.98"/><circle cx="1169.5" cy="289" r="5.98"/><circle cx="1169.5" cy="292" r="5.98"/><circle cx="1169.5" cy="304.1" r="5.98"/><circle cx="1169.5" cy="307.6" r="5.98"/><circle cx="1169.5" cy="317" r="5.98"/><circle cx="1169.5" cy="326.9" r="5.98"/><circle cx="1169.5" cy="337" r="5.98"/><circle cx="1169.5" cy="337.8" r="5.98"/><circle cx="1169.5" cy="347.2" r="5.98"/><circle cx="1169.5" cy="399.2" r="5.98"/><circle cx="1169.5" cy="420.7" r="5.98"/><circle cx="1169.5" cy="434.9" r="5.98"/><circle cx="1169.5" cy="344" r="5.98"/><circle cx="1169.5" cy="346.3" r="5.98"/><circle cx="1169.5" cy="351.1" r="5.98"/><circle cx="1169.5" cy="357.1" r="5.98"/><circle cx="1169.5" cy="361.5" r="5.98"/><circle cx="1169.5" cy="362.8" r="5.98"/><circle cx="1169.5" cy="365.6" r="5.98"/><circle cx="1169.5" cy="371.7" r="5.98"/><circle cx="1169.5" cy="376.9" r="5.98"/><circle cx="1169.5" cy="381" r="5.98"/><circle cx="1189.4" cy="275" r="5.98"/><circle cx="1189.4" cy="278.5" r="5.98"/><circle cx="1189.4" cy="291.1" r="5.98"/><circle cx="1189.4" cy="298.9" r="5.98"/><circle cx="1189.4" cy="340.2" r="5.98"/><circle cx="1189.4" cy="346" r="5.98"/><circle cx="1189.4" cy="371.4" r="5.98"/><circle cx="1189.4" cy="379.6" r="5.98"/><circle cx="1189.4" cy="446.2" r="5.98"/><circle cx="1189.4" cy="488.4" r="5.98"/><circle cx="1189.4" cy="319.3" r="5.98"/><circle cx="1189.4" cy="323.8" r="5.98"/><circle cx="1189.4" cy="324" r="5.98"/><circle cx="1189.4" cy="325.5" r="5.98"/><circle cx="1189.4" cy="329.8" r="5.98"/><circle cx="1189.4" cy="340" r="5.98"/><circle cx="1189.4" cy="349.7" r="5.98"/><circle cx="1189.4" cy="352.3" r="5.98"/><circle cx="1189.4" cy="354.8" r="5.98"/><circle cx="1189.4" cy="361" r="5.98"/><circle cx="1189.4" cy="390" r="5.98"/><circle cx="1189.4" cy="394.7" r="5.98"/><circle cx="1189.4" cy="396.1" r="5.98"/><circle cx="1189.4" cy="399.1" r="5.98"/><circle cx="1189.4" cy="400.8" r="5.98"/><circle cx="1189.4" cy="405.4" r="5.98"/><circle cx="1189.4" cy="408.6" r="5.98"/><circle cx="1189.4" cy="412" r="5.98"/><circle cx="1189.4" cy="415.7" r="5.98"/><circle cx="1189.4" cy="421" r="5.98"/><circle cx="1189.4" cy="422.4" r="5.98"/><circle cx="1189.4" cy="426.2" r="5.98"/><circle cx="1201.2" cy="268.6" r="5.98"/><circle cx="1201.2" cy="277.4" r="5.98"/><circle cx="1201.2" cy="310.7" r="5.98"/><circle cx="1201.2" cy="311.5" r="5.98"/><circle cx="1201.2" cy="341.4" r="5.98"/><circle cx="1201.2" cy="374" r="5.98"/><circle cx="1201.2" cy="378.5" r="5.98"/><circle cx="1201.2" cy="423.9" r="5.98"/><circle cx="1201.2" cy="437.8" r="5.98"/><circle cx="1201.2" cy="451.8" r="5.98"/><circle cx="1201.2" cy="458.8" r="5.98"/><circle cx="1201.2" cy="340" r="5.98"/><circle cx="1201.2" cy="340.3" r="5.98"/><circle cx="1201.2" cy="349.4" r="5.98"/><circle cx="1201.2" cy="349.7" r="5.98"/><circle cx="1201.2" cy="352.2" r="5.98"/><circle cx="1201.2" cy="358.4" r="5.98"/><circle cx="1201.2" cy="363" r="5.98"/><circle cx="1201.2" cy="386.6" r="5.98"/><circle cx="1201.2" cy="391.3" r="5.98"/><circle cx="1201.2" cy="393.2" r="5.98"/><circle cx="1201.2" cy="401.5" r="5.98"/><circle cx="1201.2" cy="404.1" r="5.98"/><circle cx="1201.2" cy="408.7" r="5.98"/><circle cx="1201.2" cy="410" r="5.98"/><circle cx="1209.4" cy="269.2" r="5.98"/><circle cx="1209.4" cy="271.5" r="5.98"/><circle cx="1209.4" cy="273.9" r="5.98"/><circle cx="1209.4" cy="288.4" r="5.98"/><circle cx="1209.4" cy="304.1" r="5.98"/><circle cx="1209.4" cy="306.5" r="5.98"/><circle cx="1209.4" cy="323.9" r="5.98"/><circle cx="1209.4" cy="326.3" r="5.98"/><circle cx="1209.4" cy="328.6" r="5.98"/><circle cx="1209.4" cy="337.5" r="5.98"/><circle cx="1209.4" cy="341.4" r="5.98"/><circle cx="1209.4" cy="341.8" r="5.98"/><circle cx="1209.4" cy="352.3" r="5.98"/><circle cx="1209.4" cy="352.3" r="5.98"/><circle cx="1209.4" cy="355.4" r="5.98"/><circle cx="1209.4" cy="361" r="5.98"/><circle cx="1209.4" cy="361" r="5.98"/><circle cx="1209.4" cy="364.7" r="5.98"/><circle cx="1209.4" cy="367.2" r="5.98"/><circle cx="1209.4" cy="368" r="5.98"/><circle cx="1209.4" cy="368.5" r="5.98"/><circle cx="1209.4" cy="374.4" r="5.98"/><circle cx="1209.4" cy="375.1" r="5.98"/><circle cx="1209.4" cy="379.7" r="5.98"/><circle cx="1209.4" cy="380.7" r="5.98"/><circle cx="1209.4" cy="381.5" r="5.98"/><circle cx="1209.4" cy="383.4" r="5.98"/><circle cx="1209.4" cy="389.7" r="5.98"/><circle cx="1209.4" cy="389.7" r="5.98"/><circle cx="1209.4" cy="393.1" r="5.98"/><circle cx="1209.4" cy="393.3" r="5.98"/><circle cx="1209.4" cy="399.1" r="5.98"/><circle cx="1209.4" cy="399.8" r="5.98"/><circle cx="1209.4" cy="404.2" r="5.98"/><circle cx="1209.4" cy="404.9" r="5.98"/><circle cx="1209.4" cy="405.6" r="5.98"/><circle cx="1209.4" cy="409.2" r="5.98"/><circle cx="1209.4" cy="412" r="5.98"/><circle cx="1209.4" cy="412" r="5.98"/><circle cx="1209.4" cy="414.6" r="5.98"/><circle cx="1209.4" cy="418.8" r="5.98"/><circle cx="1209.4" cy="427.4" r="5.98"/><circle cx="1209.4" cy="431.1" r="5.98"/><circle cx="1209.4" cy="433.5" r="5.98"/><circle cx="1209.4" cy="436.5" r="5.98"/><circle cx="1209.4" cy="443" r="5.98"/><circle cx="1209.4" cy="448.8" r="5.98"/><circle cx="1209.4" cy="449" r="5.98"/><circle cx="1209.4" cy="456.5" r="5.98"/><circle cx="1208.3" cy="496.5" r="5.98"/><circle cx="1220.2" cy="261.4" r="5.98"/><circle cx="1220.2" cy="272.7" r="5.98"/><circle cx="1220.2" cy="394.7" r="5.98"/><circle cx="1220.2" cy="467" r="5.98"/><circle cx="1220.2" cy="471.4" r="5.98"/><circle cx="1220.2" cy="279.7" r="5.98"/><circle cx="1220.2" cy="282.2" r="5.98"/><circle cx="1220.2" cy="282.4" r="5.98"/><circle cx="1220.2" cy="286.1" r="5.98"/><circle cx="1220.2" cy="289.5" r="5.98"/><circle cx="1220.2" cy="290.6" r="5.98"/><circle cx="1220.2" cy="292.5" r="5.98"/><circle cx="1220.2" cy="301.8" r="5.98"/><circle cx="1220.2" cy="303.8" r="5.98"/><circle cx="1220.2" cy="305.5" r="5.98"/><circle cx="1220.2" cy="309.4" r="5.98"/><circle cx="1220.2" cy="310.2" r="5.98"/><circle cx="1220.2" cy="312.9" r="5.98"/><circle cx="1220.2" cy="313.9" r="5.98"/><circle cx="1220.2" cy="315.8" r="5.98"/><circle cx="1220.2" cy="319.3" r="5.98"/><circle cx="1220.2" cy="333" r="5.98"/><circle cx="1220.2" cy="336.5" r="5.98"/><circle cx="1220.2" cy="338.2" r="5.98"/><circle cx="1220.2" cy="341.7" r="5.98"/><circle cx="1220.2" cy="347" r="5.98"/><circle cx="1220.2" cy="347.5" r="5.98"/><circle cx="1220.2" cy="349" r="5.98"/><circle cx="1220.2" cy="357.3" r="5.98"/><circle cx="1220.2" cy="357.5" r="5.98"/><circle cx="1220.2" cy="362.8" r="5.98"/><circle cx="1220.2" cy="362.8" r="5.98"/><circle cx="1220.2" cy="366.3" r="5.98"/><circle cx="1220.2" cy="372.3" r="5.98"/><circle cx="1220.2" cy="374" r="5.98"/><circle cx="1220.2" cy="377.6" r="5.98"/><circle cx="1220.2" cy="379.5" r="5.98"/><circle cx="1220.2" cy="384.6" r="5.98"/><circle cx="1220.2" cy="386.6" r="5.98"/><circle cx="1220.2" cy="412.2" r="5.98"/><circle cx="1220.2" cy="415.8" r="5.98"/><circle cx="1220.2" cy="420.9" r="5.98"/><circle cx="1220.2" cy="423.2" r="5.98"/><circle cx="1220.2" cy="424.7" r="5.98"/><circle cx="1220.2" cy="431.8" r="5.98"/><circle cx="1220.2" cy="431.9" r="5.98"/><circle cx="1220.2" cy="437" r="5.98"/><circle cx="1220.2" cy="439" r="5.98"/><circle cx="1220.2" cy="441.7" r="5.98"/><circle cx="1220.2" cy="448.3" r="5.98"/><circle cx="1220.2" cy="450.7" r="5.98"/><circle cx="1220.2" cy="452.7" r="5.98"/><circle cx="1220.2" cy="456.5" r="5.98"/><circle cx="1218.9" cy="509.9" r="5.98"/><circle cx="1218.9" cy="471.1" r="5.98"/><circle cx="1229.6" cy="287.2" r="5.98"/><circle cx="1229.6" cy="335" r="5.98"/><circle cx="1229.6" cy="355.7" r="5.98"/><circle cx="1229.6" cy="388.9" r="5.98"/><circle cx="1229.6" cy="398.2" r="5.98"/><circle cx="1229.6" cy="446" r="5.98"/><circle cx="1229.6" cy="451" r="5.98"/><circle cx="1229.6" cy="456.5" r="5.98"/><circle cx="1229.6" cy="467" r="5.98"/><circle cx="1229.6" cy="474.9" r="5.98"/><circle cx="1229.6" cy="475.7" r="5.98"/><circle cx="1229.6" cy="497.3" r="5.98"/><circle cx="1229.6" cy="498.1" r="5.98"/><circle cx="1229.6" cy="415.7" r="5.98"/><circle cx="1229.6" cy="418.5" r="5.98"/><circle cx="1229.6" cy="424" r="5.98"/><circle cx="1229.6" cy="427.5" r="5.98"/><circle cx="1229.6" cy="431.8" r="5.98"/><circle cx="1229.6" cy="432.1" r="5.98"/><circle cx="1229.6" cy="435.5" r="5.98"/><circle cx="1258.3" cy="304.5" r="5.98"/><circle cx="1258.3" cy="318.7" r="5.98"/><circle cx="1258.3" cy="340.8" r="5.98"/><circle cx="1258.3" cy="349.6" r="5.98"/><circle cx="1258.3" cy="342.3" r="5.98"/><circle cx="1258.3" cy="351.6" r="5.98"/><circle cx="1258.3" cy="358.6" r="5.98"/><circle cx="1258.3" cy="394.2" r="5.98"/><circle cx="1258.3" cy="427.8" r="5.98"/><circle cx="1258.3" cy="428.6" r="5.98"/><circle cx="1258.3" cy="369.1" r="5.98"/><circle cx="1258.3" cy="369.5" r="5.98"/><circle cx="1258.3" cy="375.3" r="5.98"/><circle cx="1258.3" cy="377.4" r="5.98"/><circle cx="1258.3" cy="378" r="5.98"/><circle cx="1258.3" cy="379.9" r="5.98"/><circle cx="1258.3" cy="382" r="5.98"/><circle cx="1258.3" cy="385.6" r="5.98"/><circle cx="1258.3" cy="386.6" r="5.98"/><circle cx="1275.4" cy="312.9" r="5.98"/><circle cx="1275.4" cy="314.6" r="5.98"/><circle cx="1275.4" cy="340" r="5.98"/><circle cx="1275.4" cy="386.6" r="5.98"/><circle cx="1275.4" cy="393.6" r="5.98"/><circle cx="1275.4" cy="323.9" r="5.98"/><circle cx="1275.4" cy="325.2" r="5.98"/><circle cx="1275.4" cy="327.6" r="5.98"/><circle cx="1275.4" cy="333" r="5.98"/><circle cx="1275.4" cy="334.8" r="5.98"/><circle cx="1275.4" cy="337.9" r="5.98"/><circle cx="1275.4" cy="357.5" r="5.98"/><circle cx="1275.4" cy="361.7" r="5.98"/><circle cx="1275.4" cy="363.7" r="5.98"/><circle cx="1275.4" cy="367.1" r="5.98"/><circle cx="1275.4" cy="368.5" r="5.98"/><circle cx="1275.4" cy="369.9" r="5.98"/><circle cx="1275.4" cy="373.3" r="5.98"/><circle cx="1275.4" cy="374.5" r="5.98"/><circle cx="1275.4" cy="378.4" r="5.98"/><circle cx="1326.8" cy="235.8" r="5.98"/><circle cx="1326.8" cy="346" r="5.98"/><circle cx="1326.8" cy="346.8" r="5.98"/><circle cx="1326.8" cy="382.7" r="5.98"/><circle cx="1326.8" cy="390.6" r="5.98"/><circle cx="1326.8" cy="428.9" r="5.98"/><circle cx="1326.8" cy="443" r="5.98"/><circle cx="1326.8" cy="255" r="5.98"/><circle cx="1326.8" cy="255.8" r="5.98"/><circle cx="1326.8" cy="260.6" r="5.98"/><circle cx="1326.8" cy="262.9" r="5.98"/><circle cx="1326.8" cy="280.6" r="5.98"/><circle cx="1326.8" cy="281" r="5.98"/><circle cx="1326.8" cy="288.8" r="5.98"/><circle cx="1326.8" cy="293.9" r="5.98"/><circle cx="1326.8" cy="294.3" r="5.98"/><circle cx="1326.8" cy="298.2" r="5.98"/><circle cx="1326.8" cy="301.4" r="5.98"/><circle cx="1326.8" cy="303.6" r="5.98"/><circle cx="1326.8" cy="305.7" r="5.98"/><circle cx="1326.8" cy="309.3" r="5.98"/><circle cx="1326.8" cy="310" r="5.98"/><circle cx="1326.8" cy="312.9" r="5.98"/><circle cx="1326.8" cy="317.6" r="5.98"/><circle cx="1326.8" cy="318.7" r="5.98"/><circle cx="1326.8" cy="320.6" r="5.98"/><circle cx="1326.8" cy="324.5" r="5.98"/><circle cx="1326.8" cy="325.8" r="5.98"/><circle cx="1326.8" cy="329.8" r="5.98"/><circle cx="1326.8" cy="333.8" r="5.98"/><circle cx="1326.8" cy="334.7" r="5.98"/><circle cx="1326.8" cy="337.5" r="5.98"/><circle cx="1326.8" cy="359.1" r="5.98"/><circle cx="1326.8" cy="361.2" r="5.98"/><circle cx="1326.8" cy="367.8" r="5.98"/><circle cx="1326.8" cy="369" r="5.98"/><circle cx="1326.8" cy="404.3" r="5.98"/><circle cx="1326.8" cy="405.9" r="5.98"/><circle cx="1326.8" cy="410.7" r="5.98"/><circle cx="1326.8" cy="414" r="5.98"/><circle cx="1326.8" cy="414.1" r="5.98"/><circle cx="1326.8" cy="420" r="5.98"/>
</g>
<rect class="l" x="130.7" y="130.7" width="1242.4" height="474.7"/>
<path class="l" d="M202.6 605.4L1349.5 605.4"/>
<path class="l" d="M202.6 605.4L202.6 621.3"/>
<text class="t" x="202.6" y="662.7">22</text>
<path class="l" d="M393.8 605.4L393.8 621.3"/>
<text class="t" x="393.8" y="662.7">24</text>
<path class="l" d="M584.9 605.4L584.9 621.3"/>
<text class="t" x="584.9" y="662.7">26</text>
<path class="l" d="M776.1 605.4L776.1 621.3"/>
<text class="t" x="776.1" y="662.7">28</text>
<path class="l" d="M967.2 605.4L967.2 621.3"/>
<text class="t" x="967.2" y="662.7">30</text>
<path class="l" d="M1158.3 605.4L1158.3 621.3"/>
<text class="t" x="1158.3" y="662.7">32</text>
<path class="l" d="M1349.5 605.4L1349.5 621.3"/>
<text class="t" x="1349.5" y="662.7">34</text>
<path class="l" d="M130.7 529.9L130.7 188.4"/>
<path class="l" d="M130.7 529.9L114.8 529.9"/>
<text class="t" transform="translate(92 529.9) rotate(-90)">-4</text>
<path class="l" d="M130.7 444.5L114.8 444.5"/>
<text class="t" transform="translate(92 444.5) rotate(-90)">-2</text>
<path class="l" d="M130.7 359.1L114.8 359.1"/>
<text class="t" transform="translate(92 359.1) rotate(-90)">0</text>
<path class="l" d="M130.7 273.8L114.8 273.8"/>
<text class="t" transform="translate(92 273.8) rotate(-90)">2</text>
<path class="l" d="M130.7 188.4L114.8 188.4"/>
<text class="t" transform="translate(92 188.4) rotate(-90)">4</text>
<text class="t" x="751.9" y="726.6">fitted(H1_Full_ME_Sparrows)</text>
<text class="t" transform="translate(28.4 368) rotate(-90)">resid(H1_Full_ME_Sparrows)</text>
<g class="p">
<circle cx="1616.5" cy="438.8" r="5.98"/><circle cx="1616.5" cy="443.7" r="5.98"/><circle cx="1616.5" cy="445.7" r="5.98"/><circle cx="1616.5" cy="452.5" r="5.98"/><circle cx="1616.5" cy="460.2" r="5.98"/><circle cx="1616.5" cy="466" r="5.98"/><circle cx="1616.5" cy="517.7" r="5.98"/><circle cx="1616.5" cy="520.4" r="5.98"/><circle cx="1616.5" cy="522" r="5.98"/><circle cx="1616.5" cy="529.8" r="5.98"/><circle cx="1616.5" cy="530.7" r="5.98"/><circle cx="1616.5" cy="531.4" r="5.98"/><circle cx="1616.5" cy="552.5" r="5.98"/><circle cx="1616.5" cy="470" r="5.98"/><circle cx="1616.5" cy="470.7" r="5.98"/><circle cx="1616.5" cy="471.3" r="5.98"/><circle cx="1616.5" cy="473" r="5.98"/><circle cx="1616.5" cy="473.1" r="5.98"/><circle cx="1616.5" cy="474.8" r="5.98"/><circle cx="1616.5" cy="475.4" r="5.98"/><circle cx="1616.5" cy="475.8" r="5.98"/><circle cx="1616.5" cy="477.6" r="5.98"/><circle cx="1616.5" cy="477.7" r="5.98"/><circle cx="1616.5" cy="479.3" r="5.98"/><circle cx="1616.5" cy="479.6" r="5.98"/><circle cx="1616.5" cy="480.6" r="5.98"/><circle cx="1616.5" cy="482.1" r="5.98"/><circle cx="1616.5" cy="483.5" r="5.98"/><circle cx="1616.5" cy="483.8" r="5.98"/><circle cx="1616.5" cy="484.6" r="5.98"/><circle cx="1616.5" cy="486.3" r="5.98"/><circle cx="1616.5" cy="487.8" r="5.98"/><circle cx="1616.5" cy="488.1" r="5.98"/><circle cx="1616.5" cy="488.7" r="5.98"/><circle cx="1616.5" cy="489.9" r="5.98"/><circle cx="1616.5" cy="490.6" r="5.98"/><circle cx="1616.5" cy="492.2" r="5.98"/><circle cx="1616.5" cy="492.3" r="5.98"/><circle cx="1616.5" cy="492.9" r="5.98"/><circle cx="1616.5" cy="493.8" r="5.98"/><circle cx="1616.5" cy="495.1" r="5.98"/><circle cx="1616.5" cy="496.7" r="5.98"/><circle cx="1616.5" cy="496.9" r="5.98"/><circle cx="1616.5" cy="498.4" r="5.98"/><circle cx="1616.5" cy="499.4" r="5.98"/><circle cx="1616.5" cy="499.9" r="5.98"/><circle cx="1616.5" cy="501.2" r="5.98"/><circle cx="1616.5" cy="501.2" r="5.98"/><circle cx="1616.5" cy="502.2" r="5.98"/><circle cx="1616.5" cy="503.4" r="5.98"/><circle cx="1616.5" cy="505.2" r="5.98"/><circle cx="1616.5" cy="505.7" r="5.98"/><circle cx="1616.5" cy="506.4" r="5.98"/><circle cx="1616.5" cy="507.8" r="5.98"/><circle cx="1616.5" cy="508.5" r="5.98"/><circle cx="1616.5" cy="509.2" r="5.98"/><circle cx="1616.5" cy="511" r="5.98"/><circle cx="1616.5" cy="511.8" r="5.98"/><circle cx="1616.5" cy="512.4" r="5.98"/><circle cx="1636.9" cy="452.8" r="5.98"/><circle cx="1636.9" cy="469.9" r="5.98"/><circle cx="1636.9" cy="476.4" r="5.98"/><circle cx="1636.9" cy="487.7" r="5.98"/><circle cx="1636.9" cy="489.4" r="5.98"/><circle cx="1636.9" cy="552" r="5.98"/><circle cx="1636.9" cy="560.5" r="5.98"/><circle cx="1636.9" cy="561.8" r="5.98"/><circle cx="1636.9" cy="567.9" r="5.98"/><circle cx="1636.9" cy="577.4" r="5.98"/><circle cx="1636.9" cy="578.7" r="5.98"/><circle cx="1636.9" cy="587.6" r="5.98"/><circle cx="1636.9" cy="494.4" r="5.98"/><circle cx="1636.9" cy="494.9" r="5.98"/><circle cx="1636.9" cy="496.6" r="5.98"/><circle cx="1636.9" cy="497.5" r="5.98"/><circle cx="1636.9" cy="499.2" r="5.98"/><circle cx="1636.9" cy="500" r="5.98"/><circle cx="1636.9" cy="500.1" r="5.98"/><circle cx="1636.9" cy="501.8" r="5.98"/><circle cx="1636.9" cy="502.5" r="5.98"/><circle cx="1636.9" cy="503.4" r="5.98"/><circle cx="1636.9" cy="505" r="5.98"/><circle cx="1636.9" cy="505.1" r="5.98"/><circle cx="1636.9" cy="506.6" r="5.98"/><circle cx="1636.9" cy="506.8" r="5.98"/><circle cx="1636.9" cy="509" r="5.98"/><circle cx="1636.9" cy="510.2" r="5.98"/><circle cx="1636.9" cy="510.9" r="5.98"/><circle cx="1636.9" cy="512.4" r="5.98"/><circle cx="1636.9" cy="512.5" r="5.98"/><circle cx="1636.9" cy="514.2" r="5.98"/><circle cx="1636.9" cy="515" r="5.98"/><circle cx="1636.9" cy="516" r="5.98"/><circle cx="1636.9" cy="516.7" r="5.98"/><circle cx="1636.9" cy="518.5" r="5.98"/><circle cx="1636.9" cy="519.7" r="5.98"/><circle cx="1636.9" cy="519.8" r="5.98"/><circle cx="1636.9" cy="521.1" r="5.98"/><circle cx="1636.9" cy="521.2" r="5.98"/><circle cx="1636.9" cy="523.3" r="5.98"/><circle cx="1636.9" cy="524.2" r="5.98"/><circle cx="1636.9" cy="525.9" r="5.98"/><circle cx="1636.9" cy="526.6" r="5.98"/><circle cx="1636.9" cy="526.6" r="5.98"/><circle cx="1636.9" cy="527.8" r="5.98"/><circle cx="1636.9" cy="529.2" r="5.98"/><circle cx="1636.9" cy="529.4" r="5.98"/><circle cx="1636.9" cy="531" r="5.98"/><circle cx="1636.9" cy="531.5" r="5.98"/><circle cx="1636.9" cy="532.4" r="5.98"/><circle cx="1636.9" cy="533.3" r="5.98"/><circle cx="1636.9" cy="535.5" r="5.98"/><circle cx="1636.9" cy="535.7" r="5.98"/><circle cx="1636.9" cy="536.7" r="5.98"/><circle cx="1636.9" cy="538" r="5.98"/><circle cx="1636.9" cy="539.5" r="5.98"/><circle cx="1636.9" cy="540" r="5.98"/><circle cx="1636.9" cy="541.2" r="5.98"/><circle cx="1636.9" cy="542.4" r="5.98"/><circle cx="1636.9" cy="544.1" r="5.98"/><circle cx="1636.9" cy="545" r="5.98"/><circle cx="1636.9" cy="545.9" r="5.98"/><circle cx="1636.9" cy="546.1" r="5.98"/><circle cx="1636.9" cy="547.2" r="5.98"/><circle cx="1636.9" cy="548.1" r="5.98"/><circle cx="1636.9" cy="550.2" r="5.98"/><circle cx="1636.9" cy="550.5" r="5.98"/><circle cx="1778" cy="435.8" r="5.98"/><circle cx="1778" cy="455.5" r="5.98"/><circle cx="1778" cy="457.1" r="5.98"/><circle cx="1778" cy="460" r="5.98"/><circle cx="1778" cy="463.9" r="5.98"/><circle cx="1778" cy="471.8" r="5.98"/><circle cx="1778" cy="476.3" r="5.98"/><circle cx="1778" cy="477.7" r="5.98"/><circle cx="1778" cy="545.4" r="5.98"/><circle cx="1778" cy="556.7" r="5.98"/><circle cx="1778" cy="557.2" r="5.98"/><circle cx="1778" cy="583.8" r="5.98"/><circle cx="1778" cy="480.1" r="5.98"/><circle cx="1778" cy="482.3" r="5.98"/><circle cx="1778" cy="483.1" r="5.98"/><circle cx="1778" cy="484" r="5.98"/><circle cx="1778" cy="485.8" r="5.98"/><circle cx="1778" cy="487.4" r="5.98"/><circle cx="1778" cy="489.8" r="5.98"/><circle cx="1778" cy="491.7" r="5.98"/><circle cx="1778" cy="492.3" r="5.98"/><circle cx="1778" cy="493.2" r="5.98"/><circle cx="1778" cy="496" r="5.98"/><circle cx="1778" cy="497.5" r="5.98"/><circle cx="1778" cy="499.7" r="5.98"/><circle cx="1778" cy="502.6" r="5.98"/><circle cx="1778" cy="503.4" r="5.98"/><circle cx="1778" cy="504.4" r="5.98"/><circle cx="1778" cy="506.4" r="5.98"/><circle cx="1778" cy="507.9" r="5.98"/><circle cx="1778" cy="508.2" r="5.98"/><circle cx="1778" cy="512.1" r="5.98"/><circle cx="1778" cy="513.4" r="5.98"/><circle cx="1778" cy="515.3" r="5.98"/><circle cx="1778" cy="516.7" r="5.98"/><circle cx="1778" cy="517" r="5.98"/><circle cx="1778" cy="518.7" r="5.98"/><circle cx="1778" cy="519.4" r="5.98"/><circle cx="1778" cy="522.5" r="5.98"/><circle cx="1778" cy="522.6" r="5.98"/><circle cx="1778" cy="524.1" r="5.98"/><circle cx="1778" cy="526.2" r="5.98"/><circle cx="1778" cy="527.7" r="5.98"/><circle cx="1778" cy="529.8" r="5.98"/><circle cx="1778" cy="530.6" r="5.98"/><circle cx="1778" cy="532" r="5.98"/><circle cx="1778" cy="534.1" r="5.98"/><circle cx="1778" cy="535.6" r="5.98"/><circle cx="1778" cy="538" r="5.98"/><circle cx="1778" cy="538.6" r="5.98"/><circle cx="1778" cy="542.8" r="5.98"/><circle cx="1778" cy="543.3" r="5.98"/><circle cx="1899" cy="436.7" r="5.98"/><circle cx="1899" cy="442.6" r="5.98"/><circle cx="1899" cy="513.2" r="5.98"/><circle cx="1899" cy="532.8" r="5.98"/><circle cx="1899" cy="547.4" r="5.98"/><circle cx="1899" cy="449.8" r="5.98"/><circle cx="1899" cy="451.6" r="5.98"/><circle cx="1899" cy="451.7" r="5.98"/><circle cx="1899" cy="453.4" r="5.98"/><circle cx="1899" cy="455.1" r="5.98"/><circle cx="1899" cy="456.6" r="5.98"/><circle cx="1899" cy="457.4" r="5.98"/><circle cx="1899" cy="460.7" r="5.98"/><circle cx="1899" cy="462.6" r="5.98"/><circle cx="1899" cy="462.6" r="5.98"/><circle cx="1899" cy="464" r="5.98"/><circle cx="1899" cy="464.4" r="5.98"/><circle cx="1899" cy="465.8" r="5.98"/><circle cx="1899" cy="467.9" r="5.98"/><circle cx="1899" cy="469.1" r="5.98"/><circle cx="1899" cy="471.7" r="5.98"/><circle cx="1899" cy="472.1" r="5.98"/><circle cx="1899" cy="472.7" r="5.98"/><circle cx="1899" cy="476.7" r="5.98"/><circle cx="1899" cy="476.9" r="5.98"/><circle cx="1899" cy="477.3" r="5.98"/><circle cx="1899" cy="479.8" r="5.98"/><circle cx="1899" cy="479.9" r="5.98"/><circle cx="1899" cy="482.6" r="5.98"/><circle cx="1899" cy="485.3" r="5.98"/><circle cx="1899" cy="486.4" r="5.98"/><circle cx="1899" cy="487.3" r="5.98"/><circle cx="1899" cy="487.6" r="5.98"/><circle cx="1899" cy="489.3" r="5.98"/><circle cx="1899" cy="490.2" r="5.98"/><circle cx="1899" cy="493.2" r="5.98"/><circle cx="1899" cy="494" r="5.98"/><circle cx="1899" cy="496.1" r="5.98"/><circle cx="1899" cy="496.3" r="5.98"/><circle cx="1899" cy="497.4" r="5.98"/><circle cx="1899" cy="500.5" r="5.98"/><circle cx="1899" cy="502.3" r="5.98"/><circle cx="1899" cy="503.4" r="5.98"/><circle cx="1899" cy="504.7" r="5.98"/><circle cx="1899" cy="506.2" r="5.98"/><circle cx="1899" cy="507.4" r="5.98"/><circle cx="1899" cy="508.1" r="5.98"/><circle cx="1959.6" cy="464.2" r="5.98"/><circle cx="1959.6" cy="481.1" r="5.98"/><circle cx="1959.6" cy="483.8" r="5.98"/><circle cx="1959.6" cy="491" r="5.98"/><circle cx="1959.6" cy="553.9" r="5.98"/><circle cx="1959.6" cy="561.6" r="5.98"/><circle cx="1959.6" cy="572" r="5.98"/><circle cx="1959.6" cy="572.4" r="5.98"/><circle cx="1959.6" cy="572.7" r="5.98"/><circle cx="1959.6" cy="497.3" r="5.98"/><circle cx="1959.6" cy="497.9" r="5.98"/><circle cx="1959.6" cy="500" r="5.98"/><circle cx="1959.6" cy="500.9" r="5.98"/><circle cx="1959.6" cy="501.3" r="5.98"/><circle cx="1959.6" cy="502.6" r="5.98"/><circle cx="1959.6" cy="504.6" r="5.98"/><circle cx="1959.6" cy="505.8" r="5.98"/><circle cx="1959.6" cy="508.2" r="5.98"/><circle cx="1959.6" cy="510.1" r="5.98"/><circle cx="1959.6" cy="510.2" r="5.98"/><circle cx="1959.6" cy="512.7" r="5.98"/><circle cx="1959.6" cy="514.1" r="5.98"/><circle cx="1959.6" cy="515.1" r="5.98"/><circle cx="1959.6" cy="515.3" r="5.98"/><circle cx="1959.6" cy="516.1" r="5.98"/><circle cx="1959.6" cy="517.4" r="5.98"/><circle cx="1959.6" cy="519.4" r="5.98"/><circle cx="1959.6" cy="525" r="5.98"/><circle cx="1959.6" cy="525.6" r="5.98"/><circle cx="1959.6" cy="527.2" r="5.98"/><circle cx="1959.6" cy="530" r="5.98"/><circle cx="1959.6" cy="532.4" r="5.98"/><circle cx="1959.6" cy="532.7" r="5.98"/><circle cx="1959.6" cy="536.4" r="5.98"/><circle cx="1959.6" cy="538.4" r="5.98"/><circle cx="1959.6" cy="538.8" r="5.98"/><circle cx="1959.6" cy="540.5" r="5.98"/><circle cx="1959.6" cy="541.6" r="5.98"/><circle cx="1959.6" cy="542" r="5.98"/><circle cx="1959.6" cy="544.1" r="5.98"/><circle cx="1959.6" cy="546" r="5.98"/><circle cx="1959.6" cy="546.9" r="5.98"/><circle cx="1959.6" cy="547.4" r="5.98"/><circle cx="2166.7" cy="255.6" r="5.98"/><circle cx="2166.7" cy="281.5" r="5.98"/><circle cx="2166.7" cy="291.7" r="5.98"/><circle cx="2166.7" cy="296.6" r="5.98"/><circle cx="2166.7" cy="307.8" r="5.98"/><circle cx="2166.7" cy="364.9" r="5.98"/><circle cx="2166.7" cy="384.7" r="5.98"/><circle cx="2166.7" cy="395.4" r="5.98"/><circle cx="2166.7" cy="315" r="5.98"/><circle cx="2166.7" cy="317.4" r="5.98"/><circle cx="2166.7" cy="318.1" r="5.98"/><circle cx="2166.7" cy="318.8" r="5.98"/><circle cx="2166.7" cy="322.3" r="5.98"/><circle cx="2166.7" cy="322.6" r="5.98"/><circle cx="2166.7" cy="325.6" r="5.98"/><circle cx="2166.7" cy="327.6" r="5.98"/><circle cx="2166.7" cy="327.8" r="5.98"/><circle cx="2166.7" cy="329.2" r="5.98"/><circle cx="2166.7" cy="332.5" r="5.98"/><circle cx="2166.7" cy="333.5" r="5.98"/><circle cx="2166.7" cy="334.4" r="5.98"/><circle cx="2166.7" cy="339.3" r="5.98"/><circle cx="2166.7" cy="339.9" r="5.98"/><circle cx="2166.7" cy="341.4" r="5.98"/><circle cx="2166.7" cy="343.1" r="5.98"/><circle cx="2166.7" cy="347" r="5.98"/><circle cx="2166.7" cy="347.3" r="5.98"/><circle cx="2166.7" cy="352.9" r="5.98"/><circle cx="2166.7" cy="355" r="5.98"/><circle cx="2166.7" cy="355.5" r="5.98"/><circle cx="2166.7" cy="357.8" r="5.98"/><circle cx="2220.8" cy="258.7" r="5.98"/><circle cx="2220.8" cy="259.2" r="5.98"/><circle cx="2220.8" cy="266.4" r="5.98"/><circle cx="2220.8" cy="266.8" r="5.98"/><circle cx="2220.8" cy="277.7" r="5.98"/><circle cx="2220.8" cy="279" r="5.98"/><circle cx="2220.8" cy="283.2" r="5.98"/><circle cx="2220.8" cy="288.1" r="5.98"/><circle cx="2220.8" cy="311.4" r="5.98"/><circle cx="2220.8" cy="312.1" r="5.98"/><circle cx="2220.8" cy="314.3" r="5.98"/><circle cx="2220.8" cy="322.2" r="5.98"/><circle cx="2220.8" cy="322.8" r="5.98"/><circle cx="2220.8" cy="326.1" r="5.98"/><circle cx="2220.8" cy="339.3" r="5.98"/><circle cx="2220.8" cy="339.8" r="5.98"/><circle cx="2220.8" cy="348.1" r="5.98"/><circle cx="2220.8" cy="374.8" r="5.98"/><circle cx="2220.8" cy="295" r="5.98"/><circle cx="2220.8" cy="297.5" r="5.98"/><circle cx="2220.8" cy="299.4" r="5.98"/><circle cx="2220.8" cy="300" r="5.98"/><circle cx="2220.8" cy="300.6" r="5.98"/><circle cx="2220.8" cy="302.7" r="5.98"/><circle cx="2220.8" cy="304.1" r="5.98"/><circle cx="2227.6" cy="253.3" r="5.98"/><circle cx="2227.6" cy="271" r="5.98"/><circle cx="2227.6" cy="275.2" r="5.98"/><circle cx="2227.6" cy="282.5" r="5.98"/><circle cx="2227.6" cy="286.3" r="5.98"/><circle cx="2227.6" cy="291.1" r="5.98"/><circle cx="2227.6" cy="314.6" r="5.98"/><circle cx="2227.6" cy="316.6" r="5.98"/><circle cx="2227.6" cy="318.9" r="5.98"/><circle cx="2227.6" cy="320" r="5.98"/><circle cx="2227.6" cy="340.8" r="5.98"/><circle cx="2227.6" cy="347.1" r="5.98"/><circle cx="2227.6" cy="350.6" r="5.98"/><circle cx="2227.6" cy="363.6" r="5.98"/><circle cx="2227.6" cy="294.6" r="5.98"/><circle cx="2227.6" cy="295" r="5.98"/><circle cx="2227.6" cy="296.1" r="5.98"/><circle cx="2227.6" cy="300" r="5.98"/><circle cx="2227.6" cy="300.6" r="5.98"/><circle cx="2227.6" cy="301.6" r="5.98"/><circle cx="2227.6" cy="326.3" r="5.98"/><circle cx="2227.6" cy="327.7" r="5.98"/><circle cx="2227.6" cy="330" r="5.98"/><circle cx="2227.6" cy="330" r="5.98"/><circle cx="2227.6" cy="332.4" r="5.98"/><circle cx="2227.6" cy="333.4" r="5.98"/><circle cx="2227.6" cy="333.6" r="5.98"/><circle cx="2227.6" cy="334.8" r="5.98"/><circle cx="2227.6" cy="336.7" r="5.98"/><circle cx="2342" cy="275.7" r="5.98"/><circle cx="2342" cy="286.7" r="5.98"/><circle cx="2342" cy="292.1" r="5.98"/><circle cx="2342" cy="296.6" r="5.98"/><circle cx="2342" cy="311.8" r="5.98"/><circle cx="2342" cy="321.2" r="5.98"/><circle cx="2342" cy="324.3" r="5.98"/><circle cx="2342" cy="329.2" r="5.98"/><circle cx="2342" cy="330.9" r="5.98"/><circle cx="2342" cy="335.2" r="5.98"/><circle cx="2342" cy="339.1" r="5.98"/><circle cx="2342" cy="356.3" r="5.98"/><circle cx="2342" cy="364.6" r="5.98"/><circle cx="2342" cy="370.7" r="5.98"/><circle cx="2342" cy="373.8" r="5.98"/><circle cx="2342" cy="412.8" r="5.98"/><circle cx="2342" cy="345" r="5.98"/><circle cx="2342" cy="345.9" r="5.98"/><circle cx="2342" cy="347.3" r="5.98"/><circle cx="2342" cy="349.9" r="5.98"/><circle cx="2342" cy="350.5" r="5.98"/><circle cx="2342" cy="352.8" r="5.98"/><circle cx="2368.2" cy="278.7" r="5.98"/><circle cx="2368.2" cy="285.6" r="5.98"/><circle cx="2368.2" cy="311.1" r="5.98"/><circle cx="2368.2" cy="321.5" r="5.98"/><circle cx="2368.2" cy="348.1" r="5.98"/><circle cx="2368.2" cy="295.8" r="5.98"/><circle cx="2368.2" cy="297.2" r="5.98"/><circle cx="2368.2" cy="297.9" r="5.98"/><circle cx="2368.2" cy="301.9" r="5.98"/><circle cx="2368.2" cy="302" r="5.98"/><circle cx="2368.2" cy="303.8" r="5.98"/><circle cx="2368.2" cy="305.5" r="5.98"/><circle cx="2368.2" cy="323.6" r="5.98"/><circle cx="2368.2" cy="326.1" r="5.98"/><circle cx="2368.2" cy="329.6" r="5.98"/><circle cx="2368.2" cy="329.8" r="5.98"/><circle cx="2368.2" cy="334.1" r="5.98"/><circle cx="2368.2" cy="334.5" r="5.98"/><circle cx="2368.2" cy="336.8" r="5.98"/><circle cx="2368.2" cy="339" r="5.98"/><circle cx="2368.2" cy="341.1" r="5.98"/><circle cx="2376.3" cy="253.4" r="5.98"/><circle cx="2376.3" cy="253.9" r="5.98"/><circle cx="2376.3" cy="264.1" r="5.98"/><circle cx="2376.3" cy="281.5" r="5.98"/><circle cx="2376.3" cy="285.3" r="5.98"/><circle cx="2376.3" cy="291.4" r="5.98"/><circle cx="2376.3" cy="291.8" r="5.98"/><circle cx="2376.3" cy="301.8" r="5.98"/><circle cx="2376.3" cy="302.3" r="5.98"/><circle cx="2376.3" cy="309.5" r="5.98"/><circle cx="2376.3" cy="317.2" r="5.98"/><circle cx="2376.3" cy="325" r="5.98"/><circle cx="2376.3" cy="332.1" r="5.98"/><circle cx="2376.3" cy="338.6" r="5.98"/><circle cx="2376.3" cy="346.7" r="5.98"/><circle cx="2376.3" cy="351" r="5.98"/><circle cx="2376.3" cy="369.8" r="5.98"/><circle cx="2383" cy="284.3" r="5.98"/><circle cx="2383" cy="311.3" r="5.98"/><circle cx="2383" cy="315.4" r="5.98"/><circle cx="2383" cy="342.6" r="5.98"/><circle cx="2383" cy="364.1" r="5.98"/><circle cx="2383" cy="375.6" r="5.98"/><circle cx="2383" cy="381.4" r="5.98"/><circle cx="2383" cy="387.5" r="5.98"/><circle cx="2383" cy="319.6" r="5.98"/><circle cx="2383" cy="319.8" r="5.98"/><circle cx="2383" cy="323" r="5.98"/><circle cx="2383" cy="323.9" r="5.98"/><circle cx="2383" cy="325.1" r="5.98"/><circle cx="2383" cy="329.3" r="5.98"/><circle cx="2383" cy="329.7" r="5.98"/><circle cx="2383" cy="332.1" r="5.98"/><circle cx="2383" cy="334" r="5.98"/><circle cx="2383" cy="352" r="5.98"/><circle cx="2383" cy="354.2" r="5.98"/><circle cx="2383" cy="355.3" r="5.98"/><circle cx="2383" cy="356.7" r="5.98"/><circle cx="2428.9" cy="344.5" r="5.98"/><circle cx="2428.9" cy="364" r="5.98"/><circle cx="2428.9" cy="365.5" r="5.98"/><circle cx="2428.9" cy="374.7" r="5.98"/><circle cx="2428.9" cy="380.8" r="5.98"/><circle cx="2428.9" cy="384.6" r="5.98"/><circle cx="2428.9" cy="389.7" r="5.98"/><circle cx="2428.9" cy="403.8" r="5.98"/><circle cx="2428.9" cy="317.1" r="5.98"/><circle cx="2428.9" cy="318.3" r="5.98"/><circle cx="2428.9" cy="320.9" r="5.98"/><circle cx="2428.9" cy="322.9" r="5.98"/><circle cx="2428.9" cy="325" r="5.98"/><circle cx="2428.9" cy="325.5" r="5.98"/><circle cx="2428.9" cy="328.5" r="5.98"/><circle cx="2428.9" cy="329.2" r="5.98"/><circle cx="2428.9" cy="331.9" r="5.98"/><circle cx="2428.9" cy="350.7" r="5.98"/><circle cx="2428.9" cy="351.7" r="5.98"/><circle cx="2428.9" cy="355.1" r="5.98"/><circle cx="2428.9" cy="356" r="5.98"/><circle cx="2428.9" cy="357.7" r="5.98"/><circle cx="2469.3" cy="319.9" r="5.98"/><circle cx="2469.3" cy="321.1" r="5.98"/><circle cx="2469.3" cy="384" r="5.98"/><circle cx="2469.3" cy="392.7" r="5.98"/><circle cx="2469.3" cy="329.3" r="5.98"/><circle cx="2469.3" cy="331.5" r="5.98"/><circle cx="2469.3" cy="334.3" r="5.98"/><circle cx="2469.3" cy="336.9" r="5.98"/><circle cx="2469.3" cy="337.1" r="5.98"/><circle cx="2469.3" cy="339.8" r="5.98"/><circle cx="2469.3" cy="341.4" r="5.98"/><circle cx="2469.3" cy="343.4" r="5.98"/><circle cx="2469.3" cy="355.8" r="5.98"/><circle cx="2469.3" cy="358" r="5.98"/><circle cx="2469.3" cy="360.9" r="5.98"/><circle cx="2469.3" cy="362.1" r="5.98"/><circle cx="2469.3" cy="364.4" r="5.98"/><circle cx="2480.3" cy="208.9" r="5.98"/><circle cx="2480.3" cy="212" r="5.98"/><circle cx="2480.3" cy="214.1" r="5.98"/><circle cx="2480.3" cy="218.7" r="5.98"/><circle cx="2480.3" cy="222.5" r="5.98"/><circle cx="2480.3" cy="229.5" r="5.98"/><circle cx="2480.3" cy="230" r="5.98"/><circle cx="2480.3" cy="336.5" r="5.98"/><circle cx="2480.3" cy="339.6" r="5.98"/><circle cx="2480.3" cy="346.6" r="5.98"/><circle cx="2480.3" cy="234.6" r="5.98"/><circle cx="2480.3" cy="236.5" r="5.98"/><circle cx="2480.3" cy="238" r="5.98"/><circle cx="2480.3" cy="241.3" r="5.98"/><circle cx="2480.3" cy="241.5" r="5.98"/><circle cx="2480.3" cy="243.6" r="5.98"/><circle cx="2480.3" cy="246.9" r="5.98"/><circle cx="2480.3" cy="250.1" r="5.98"/><circle cx="2480.3" cy="252.8" r="5.98"/><circle cx="2480.3" cy="253.2" r="5.98"/><circle cx="2480.3" cy="255" r="5.98"/><circle cx="2480.3" cy="255.6" r="5.98"/><circle cx="2480.3" cy="257.3" r="5.98"/><circle cx="2480.3" cy="259.3" r="5.98"/><circle cx="2480.3" cy="259.8" r="5.98"/><circle cx="2480.3" cy="260.2" r="5.98"/><circle cx="2480.3" cy="260.9" r="5.98"/><circle cx="2480.3" cy="262.7" r="5.98"/><circle cx="2480.3" cy="263.1" r="5.98"/><circle cx="2480.3" cy="264.6" r="5.98"/><circle cx="2480.3" cy="265.3" r="5.98"/><circle cx="2480.3" cy="267.8" r="5.98"/><circle cx="2480.3" cy="269.1" r="5.98"/><circle cx="2480.3" cy="270" r="5.98"/><circle cx="2480.3" cy="270.5" r="5.98"/><circle cx="2480.3" cy="272.4" r="5.98"/><circle cx="2480.3" cy="273.4" r="5.98"/><circle cx="2480.3" cy="273.4" r="5.98"/><circle cx="2480.3" cy="276.1" r="5.98"/><circle cx="2480.3" cy="277" r="5.98"/><circle cx="2480.3" cy="277.4" r="5.98"/><circle cx="2480.3" cy="279.6" r="5.98"/><circle cx="2480.3" cy="279.7" r="5.98"/><circle cx="2480.3" cy="280.9" r="5.98"/><circle cx="2480.3" cy="283.1" r="5.98"/><circle cx="2480.3" cy="283.6" r="5.98"/><circle cx="2480.3" cy="283.9" r="5.98"/><circle cx="2480.3" cy="285.3" r="5.98"/><circle cx="2480.3" cy="286.6" r="5.98"/><circle cx="2480.3" cy="287.7" r="5.98"/><circle cx="2480.3" cy="287.7" r="5.98"/><circle cx="2480.3" cy="288.9" r="5.98"/><circle cx="2480.3" cy="290.2" r="5.98"/><circle cx="2480.3" cy="292.3" r="5.98"/><circle cx="2480.3" cy="294.7" r="5.98"/><circle cx="2480.3" cy="295.3" r="5.98"/><circle cx="2480.3" cy="298.1" r="5.98"/><circle cx="2480.3" cy="299.7" r="5.98"/><circle cx="2480.3" cy="311" r="5.98"/><circle cx="2480.3" cy="313" r="5.98"/><circle cx="2480.3" cy="313.4" r="5.98"/><circle cx="2480.3" cy="317.1" r="5.98"/><circle cx="2480.3" cy="320.6" r="5.98"/><circle cx="2480.3" cy="322.3" r="5.98"/><circle cx="2480.3" cy="324.1" r="5.98"/><circle cx="2480.3" cy="326.1" r="5.98"/><circle cx="2480.3" cy="326.4" r="5.98"/><circle cx="2480.3" cy="330.1" r="5.98"/><circle cx="2475.2" cy="303.4" r="5.98"/><circle cx="2475.2" cy="307.3" r="5.98"/><circle cx="2483.8" cy="302.6" r="5.98"/><circle cx="2483.8" cy="306.5" r="5.98"/><circle cx="2477.6" cy="256.9" r="5.98"/><circle cx="2477.6" cy="264.5" r="5.98"/><circle cx="2477.6" cy="266.9" r="5.98"/><circle cx="2477.6" cy="269.7" r="5.98"/><circle cx="2477.6" cy="272.3" r="5.98"/><circle cx="2477.6" cy="274.9" r="5.98"/><circle cx="2477.6" cy="277.1" r="5.98"/><circle cx="2477.6" cy="286.6" r="5.98"/><circle cx="2477.6" cy="288.5" r="5.98"/><circle cx="2483" cy="254.8" r="5.98"/><circle cx="2483" cy="257.1" r="5.98"/><circle cx="2483" cy="260.1" r="5.98"/><circle cx="2483" cy="266.5" r="5.98"/><circle cx="2483" cy="274.4" r="5.98"/><circle cx="2483" cy="277.5" r="5.98"/><circle cx="2483" cy="277.8" r="5.98"/><circle cx="2483" cy="280.8" r="5.98"/><circle cx="2483" cy="287.6" r="5.98"/><circle cx="2497.2" cy="240.8" r="5.98"/><circle cx="2497.2" cy="258.9" r="5.98"/><circle cx="2497.2" cy="268.2" r="5.98"/><circle cx="2497.2" cy="276.2" r="5.98"/><circle cx="2497.2" cy="287.1" r="5.98"/><circle cx="2497.2" cy="318.7" r="5.98"/><circle cx="2497.2" cy="328.1" r="5.98"/><circle cx="2497.2" cy="295.5" r="5.98"/><circle cx="2497.2" cy="300.5" r="5.98"/><circle cx="2497.2" cy="301.4" r="5.98"/><circle cx="2497.2" cy="304.4" r="5.98"/><circle cx="2497.2" cy="304.9" r="5.98"/><circle cx="2497.2" cy="309.4" r="5.98"/><circle cx="2508.2" cy="282.1" r="5.98"/><circle cx="2508.2" cy="343.9" r="5.98"/><circle cx="2508.2" cy="357.8" r="5.98"/><circle cx="2508.2" cy="361.5" r="5.98"/><circle cx="2508.2" cy="272.4" r="5.98"/><circle cx="2508.2" cy="272.7" r="5.98"/><circle cx="2508.2" cy="275.8" r="5.98"/><circle cx="2508.2" cy="289.1" r="5.98"/><circle cx="2508.2" cy="292.4" r="5.98"/><circle cx="2508.2" cy="293.9" r="5.98"/><circle cx="2508.2" cy="297.4" r="5.98"/><circle cx="2508.2" cy="300.4" r="5.98"/><circle cx="2508.2" cy="301.6" r="5.98"/><circle cx="2508.2" cy="310.9" r="5.98"/><circle cx="2508.2" cy="312.4" r="5.98"/><circle cx="2508.2" cy="315.8" r="5.98"/><circle cx="2508.2" cy="317" r="5.98"/><circle cx="2508.2" cy="324.5" r="5.98"/><circle cx="2508.2" cy="325.6" r="5.98"/><circle cx="2508.2" cy="326" r="5.98"/><circle cx="2508.2" cy="326.2" r="5.98"/><circle cx="2508.2" cy="329.9" r="5.98"/><circle cx="2508.2" cy="330.2" r="5.98"/><circle cx="2508.2" cy="331.4" r="5.98"/><circle cx="2508.2" cy="333.4" r="5.98"/><circle cx="2508.2" cy="335.6" r="5.98"/><circle cx="2508.2" cy="335.9" r="5.98"/><circle cx="2508.2" cy="337.7" r="5.98"/><circle cx="2508.2" cy="351.7" r="5.98"/><circle cx="2508.2" cy="352.7" r="5.98"/><circle cx="2508.2" cy="358.7" r="5.98"/><circle cx="2508.2" cy="361.9" r="5.98"/><circle cx="2516" cy="248.2" r="5.98"/><circle cx="2516" cy="263" r="5.98"/><circle cx="2516" cy="271" r="5.98"/><circle cx="2516" cy="275.1" r="5.98"/><circle cx="2516" cy="277.9" r="5.98"/><circle cx="2516" cy="342" r="5.98"/><circle cx="2516" cy="343.5" r="5.98"/><circle cx="2516" cy="352" r="5.98"/><circle cx="2516" cy="357.2" r="5.98"/><circle cx="2516" cy="362.3" r="5.98"/><circle cx="2516" cy="283.5" r="5.98"/><circle cx="2516" cy="284.3" r="5.98"/><circle cx="2516" cy="285.5" r="5.98"/><circle cx="2516" cy="287.3" r="5.98"/><circle cx="2516" cy="288.6" r="5.98"/><circle cx="2516" cy="290.7" r="5.98"/><circle cx="2516" cy="292.6" r="5.98"/><circle cx="2516" cy="294.2" r="5.98"/><circle cx="2516" cy="297.3" r="5.98"/><circle cx="2516" cy="297.4" r="5.98"/><circle cx="2516" cy="299.7" r="5.98"/><circle cx="2516" cy="300.3" r="5.98"/><circle cx="2516" cy="302.5" r="5.98"/><circle cx="2516" cy="303.1" r="5.98"/><circle cx="2516" cy="305.4" r="5.98"/><circle cx="2516" cy="306.3" r="5.98"/><circle cx="2516" cy="310.2" r="5.98"/><circle cx="2516" cy="311.2" r="5.98"/><circle cx="2516" cy="312.7" r="5.98"/><circle cx="2516" cy="314.6" r="5.98"/><circle cx="2516" cy="315.4" r="5.98"/><circle cx="2516" cy="318.5" r="5.98"/><circle cx="2516" cy="320.6" r="5.98"/><circle cx="2516" cy="325.3" r="5.98"/><circle cx="2516" cy="327.3" r="5.98"/><circle cx="2516" cy="328.2" r="5.98"/><circle cx="2516" cy="331.1" r="5.98"/><circle cx="2516" cy="331.5" r="5.98"/><circle cx="2516" cy="333.3" r="5.98"/><circle cx="2516" cy="335.9" r="5.98"/><circle cx="2516" cy="336.1" r="5.98"/><circle cx="2516" cy="338.1" r="5.98"/><circle cx="2516" cy="339.6" r="5.98"/><circle cx="2514.9" cy="369.1" r="5.98"/><circle cx="2514.9" cy="372" r="5.98"/><circle cx="2514.9" cy="379.2" r="5.98"/><circle cx="2535" cy="233.7" r="5.98"/><circle cx="2535" cy="274.4" r="5.98"/><circle cx="2535" cy="276.2" r="5.98"/><circle cx="2535" cy="278.2" r="5.98"/><circle cx="2535" cy="286.1" r="5.98"/><circle cx="2535" cy="307.9" r="5.98"/><circle cx="2535" cy="309.5" r="5.98"/><circle cx="2535" cy="255.5" r="5.98"/><circle cx="2535" cy="257.8" r="5.98"/><circle cx="2535" cy="260.2" r="5.98"/><circle cx="2535" cy="260.5" r="5.98"/><circle cx="2535" cy="263.5" r="5.98"/><circle cx="2535" cy="264.8" r="5.98"/><circle cx="2535" cy="266.3" r="5.98"/><circle cx="2535" cy="267.3" r="5.98"/><circle cx="2535" cy="269.4" r="5.98"/><circle cx="2556.4" cy="199.1" r="5.98"/><circle cx="2556.4" cy="212.3" r="5.98"/><circle cx="2556.4" cy="219.9" r="5.98"/><circle cx="2556.4" cy="340.2" r="5.98"/><circle cx="2556.4" cy="340.7" r="5.98"/><circle cx="2556.4" cy="348.7" r="5.98"/><circle cx="2556.4" cy="235.9" r="5.98"/><circle cx="2558" cy="236.4" r="5.98"/><circle cx="2556.4" cy="237.3" r="5.98"/><circle cx="2556" cy="238.9" r="5.98"/><circle cx="2558.6" cy="239.3" r="5.98"/><circle cx="2558.6" cy="242.1" r="5.98"/><circle cx="2556.4" cy="242.8" r="5.98"/><circle cx="2556" cy="244" r="5.98"/><circle cx="2558.6" cy="244.3" r="5.98"/><circle cx="2556.4" cy="248" r="5.98"/><circle cx="2556" cy="249.4" r="5.98"/><circle cx="2556" cy="250.2" r="5.98"/><circle cx="2558" cy="250" r="5.98"/><circle cx="2556.8" cy="251.5" r="5.98"/><circle cx="2556.4" cy="252.9" r="5.98"/><circle cx="2556.8" cy="254.5" r="5.98"/><circle cx="2556.4" cy="255.1" r="5.98"/><circle cx="2556" cy="257.2" r="5.98"/><circle cx="2556.4" cy="257.9" r="5.98"/><circle cx="2556.4" cy="260.8" r="5.98"/><circle cx="2556" cy="262.2" r="5.98"/><circle cx="2556" cy="262.4" r="5.98"/><circle cx="2558" cy="262.4" r="5.98"/><circle cx="2558" cy="265.1" r="5.98"/><circle cx="2558" cy="265.4" r="5.98"/><circle cx="2556.4" cy="266.9" r="5.98"/><circle cx="2558" cy="266.8" r="5.98"/><circle cx="2556" cy="269.5" r="5.98"/><circle cx="2556.8" cy="270.8" r="5.98"/><circle cx="2556.4" cy="272.2" r="5.98"/><circle cx="2558.6" cy="272.2" r="5.98"/><circle cx="2556" cy="274.8" r="5.98"/><circle cx="2556" cy="274.9" r="5.98"/><circle cx="2556.4" cy="276.7" r="5.98"/><circle cx="2556.4" cy="277.5" r="5.98"/><circle cx="2558.6" cy="278.9" r="5.98"/><circle cx="2556.4" cy="279.9" r="5.98"/><circle cx="2556.8" cy="281" r="5.98"/><circle cx="2556.8" cy="282.9" r="5.98"/><circle cx="2556" cy="284.2" r="5.98"/><circle cx="2556" cy="286.3" r="5.98"/><circle cx="2556" cy="287.4" r="5.98"/><circle cx="2556.8" cy="289" r="5.98"/><circle cx="2558.6" cy="289.5" r="5.98"/><circle cx="2558.6" cy="290.9" r="5.98"/><circle cx="2556.4" cy="293.2" r="5.98"/><circle cx="2556.4" cy="293.2" r="5.98"/><circle cx="2558" cy="293.9" r="5.98"/><circle cx="2556.4" cy="296.4" r="5.98"/><circle cx="2558" cy="296.7" r="5.98"/><circle cx="2556.8" cy="298.9" r="5.98"/><circle cx="2556" cy="300" r="5.98"/><circle cx="2556.4" cy="300.1" r="5.98"/><circle cx="2556" cy="303.2" r="5.98"/><circle cx="2556.4" cy="304.5" r="5.98"/><circle cx="2556" cy="305.2" r="5.98"/><circle cx="2558" cy="306.2" r="5.98"/><circle cx="2556.8" cy="307.6" r="5.98"/><circle cx="2556" cy="308.1" r="5.98"/><circle cx="2558.6" cy="309.3" r="5.98"/><circle cx="2556.8" cy="310.9" r="5.98"/><circle cx="2558" cy="312.7" r="5.98"/><circle cx="2558" cy="313.8" r="5.98"/><circle cx="2558" cy="315.2" r="5.98"/><circle cx="2556.4" cy="316.3" r="5.98"/><circle cx="2558.6" cy="317.7" r="5.98"/><circle cx="2556.4" cy="319" r="5.98"/><circle cx="2556.8" cy="320.2" r="5.98"/><circle cx="2556.4" cy="320.4" r="5.98"/><circle cx="2558" cy="320.8" r="5.98"/><circle cx="2556.4" cy="322.7" r="5.98"/><circle cx="2556.8" cy="324.4" r="5.98"/><circle cx="2558" cy="324.7" r="5.98"/><circle cx="2556.4" cy="328.1" r="5.98"/><circle cx="2558.6" cy="328.1" r="5.98"/><circle cx="2558" cy="329.7" r="5.98"/><circle cx="2556.8" cy="331.3" r="5.98"/><circle cx="2558" cy="332.3" r="5.98"/><circle cx="2556.4" cy="333.6" r="5.98"/><circle cx="2556.4" cy="334.8" r="5.98"/><circle cx="2558.9" cy="229.3" r="5.98"/><circle cx="2583.2" cy="190.1" r="5.98"/><circle cx="2583.2" cy="209" r="5.98"/><circle cx="2583.2" cy="215.2" r="5.98"/><circle cx="2583.2" cy="227.4" r="5.98"/><circle cx="2583.2" cy="228.8" r="5.98"/><circle cx="2583.2" cy="244.4" r="5.98"/><circle cx="2583.2" cy="249.6" r="5.98"/><circle cx="2583.2" cy="261.4" r="5.98"/><circle cx="2583.2" cy="291.2" r="5.98"/><circle cx="2583.2" cy="266.9" r="5.98"/><circle cx="2583.2" cy="267.2" r="5.98"/><circle cx="2583.2" cy="269.1" r="5.98"/><circle cx="2583.2" cy="273.1" r="5.98"/><circle cx="2583.2" cy="274.1" r="5.98"/><circle cx="2609.4" cy="183.1" r="5.98"/><circle cx="2609.4" cy="195.1" r="5.98"/><circle cx="2609.4" cy="196.8" r="5.98"/><circle cx="2609.4" cy="203" r="5.98"/><circle cx="2609.4" cy="208.2" r="5.98"/><circle cx="2609.4" cy="216.6" r="5.98"/><circle cx="2609.4" cy="217.6" r="5.98"/><circle cx="2609.4" cy="221.8" r="5.98"/><circle cx="2609.4" cy="223.6" r="5.98"/><circle cx="2609.4" cy="230.8" r="5.98"/><circle cx="2609.4" cy="232.9" r="5.98"/><circle cx="2609.4" cy="238.5" r="5.98"/><circle cx="2609.4" cy="244.4" r="5.98"/><circle cx="2609.4" cy="250.4" r="5.98"/><circle cx="2609.4" cy="250.9" r="5.98"/><circle cx="2609.4" cy="256.5" r="5.98"/><circle cx="2609.4" cy="287.5" r="5.98"/><circle cx="2609.4" cy="300.3" r="5.98"/><circle cx="2609.4" cy="308.7" r="5.98"/><circle cx="2609.4" cy="254.5" r="5.98"/><circle cx="2609.4" cy="255.9" r="5.98"/><circle cx="2609.4" cy="258.8" r="5.98"/><circle cx="2609.4" cy="262.4" r="5.98"/><circle cx="2609.4" cy="265" r="5.98"/><circle cx="2609.4" cy="265.8" r="5.98"/><circle cx="2609.4" cy="267.4" r="5.98"/><circle cx="2609.4" cy="271.1" r="5.98"/><circle cx="2609.4" cy="274.1" r="5.98"/><circle cx="2609.4" cy="276.6" r="5.98"/><circle cx="2629.4" cy="208.1" r="5.98"/><circle cx="2629.4" cy="210.2" r="5.98"/><circle cx="2629.4" cy="217.7" r="5.98"/><circle cx="2629.4" cy="222.4" r="5.98"/><circle cx="2629.4" cy="247" r="5.98"/><circle cx="2629.4" cy="250.4" r="5.98"/><circle cx="2629.4" cy="265.6" r="5.98"/><circle cx="2629.4" cy="270.5" r="5.98"/><circle cx="2629.4" cy="310.2" r="5.98"/><circle cx="2629.4" cy="335.3" r="5.98"/><circle cx="2629.4" cy="234.5" r="5.98"/><circle cx="2629.4" cy="237.2" r="5.98"/><circle cx="2629.4" cy="237.3" r="5.98"/><circle cx="2629.4" cy="238.2" r="5.98"/><circle cx="2629.4" cy="240.8" r="5.98"/><circle cx="2629.4" cy="246.9" r="5.98"/><circle cx="2629.4" cy="252.7" r="5.98"/><circle cx="2629.4" cy="254.2" r="5.98"/><circle cx="2629.4" cy="255.7" r="5.98"/><circle cx="2629.4" cy="259.4" r="5.98"/><circle cx="2629.4" cy="276.7" r="5.98"/><circle cx="2629.4" cy="279.5" r="5.98"/><circle cx="2629.4" cy="280.3" r="5.98"/><circle cx="2629.4" cy="282.1" r="5.98"/><circle cx="2629.4" cy="283.1" r="5.98"/><circle cx="2629.4" cy="285.8" r="5.98"/><circle cx="2629.4" cy="287.8" r="5.98"/><circle cx="2629.4" cy="289.8" r="5.98"/><circle cx="2629.4" cy="292" r="5.98"/><circle cx="2629.4" cy="295.1" r="5.98"/><circle cx="2629.4" cy="296" r="5.98"/><circle cx="2629.4" cy="298.2" r="5.98"/><circle cx="2641.2" cy="201.2" r="5.98"/><circle cx="2641.2" cy="206.4" r="5.98"/><circle cx="2641.2" cy="226.2" r="5.98"/><circle cx="2641.2" cy="226.7" r="5.98"/><circle cx="2641.2" cy="244.5" r="5.98"/><circle cx="2641.2" cy="264" r="5.98"/><circle cx="2641.2" cy="266.7" r="5.98"/><circle cx="2641.2" cy="293.7" r="5.98"/><circle cx="2641.2" cy="302" r="5.98"/><circle cx="2641.2" cy="310.4" r="5.98"/><circle cx="2641.2" cy="314.5" r="5.98"/><circle cx="2641.2" cy="243.7" r="5.98"/><circle cx="2641.2" cy="243.9" r="5.98"/><circle cx="2641.2" cy="249.3" r="5.98"/><circle cx="2641.2" cy="249.5" r="5.98"/><circle cx="2641.2" cy="251" r="5.98"/><circle cx="2641.2" cy="254.7" r="5.98"/><circle cx="2641.2" cy="257.4" r="5.98"/><circle cx="2641.2" cy="271.5" r="5.98"/><circle cx="2641.2" cy="274.3" r="5.98"/><circle cx="2641.2" cy="275.4" r="5.98"/><circle cx="2641.2" cy="280.3" r="5.98"/><circle cx="2641.2" cy="281.9" r="5.98"/><circle cx="2641.2" cy="284.7" r="5.98"/><circle cx="2641.2" cy="285.4" r="5.98"/><circle cx="2649.4" cy="199.3" r="5.98"/><circle cx="2649.4" cy="200.7" r="5.98"/><circle cx="2649.4" cy="202.1" r="5.98"/><circle cx="2649.4" cy="210.8" r="5.98"/><circle cx="2649.4" cy="220.1" r="5.98"/><circle cx="2649.4" cy="221.6" r="5.98"/><circle cx="2649.4" cy="231.9" r="5.98"/><circle cx="2649.4" cy="233.4" r="5.98"/><circle cx="2649.4" cy="234.8" r="5.98"/><circle cx="2649.4" cy="240.1" r="5.98"/><circle cx="2649.4" cy="242.4" r="5.98"/><circle cx="2649.4" cy="242.6" r="5.98"/><circle cx="2649.4" cy="248.8" r="5.98"/><circle cx="2649.4" cy="248.9" r="5.98"/><circle cx="2649.4" cy="250.7" r="5.98"/><circle cx="2649.4" cy="254" r="5.98"/><circle cx="2649.4" cy="254" r="5.98"/><circle cx="2649.4" cy="256.2" r="5.98"/><circle cx="2649.4" cy="257.7" r="5.98"/><circle cx="2649.4" cy="258.2" r="5.98"/><circle cx="2649.4" cy="258.5" r="5.98"/><circle cx="2649.4" cy="262" r="5.98"/><circle cx="2649.4" cy="262.5" r="5.98"/><circle cx="2649.4" cy="265.2" r="5.98"/><circle cx="2649.4" cy="265.8" r="5.98"/><circle cx="2649.4" cy="266.3" r="5.98"/><circle cx="2649.4" cy="267.4" r="5.98"/><circle cx="2649.4" cy="271.2" r="5.98"/><circle cx="2649.4" cy="271.2" r="5.98"/><circle cx="2649.4" cy="273.2" r="5.98"/><circle cx="2649.4" cy="273.3" r="5.98"/><circle cx="2649.4" cy="276.8" r="5.98"/><circle cx="2649.4" cy="277.2" r="5.98"/><circle cx="2649.4" cy="279.8" r="5.98"/><circle cx="2649.4" cy="280.2" r="5.98"/><circle cx="2649.4" cy="280.6" r="5.98"/><circle cx="2649.4" cy="282.8" r="5.98"/><circle cx="2649.4" cy="284.4" r="5.98"/><circle cx="2649.4" cy="284.4" r="5.98"/><circle cx="2649.4" cy="286" r="5.98"/><circle cx="2649.4" cy="288.5" r="5.98"/><circle cx="2649.4" cy="293.6" r="5.98"/><circle cx="2649.4" cy="295.8" r="5.98"/><circle cx="2649.4" cy="297.2" r="5.98"/><circle cx="2649.4" cy="299" r="5.98"/><circle cx="2649.4" cy="302.9" r="5.98"/><circle cx="2649.4" cy="306.4" r="5.98"/><circle cx="2649.4" cy="306.5" r="5.98"/><circle cx="2649.4" cy="311" r="5.98"/><circle cx="2648.3" cy="335.1" r="5.98"/><circle cx="2660.2" cy="191.8" r="5.98"/><circle cx="2660.2" cy="198.5" r="5.98"/><circle cx="2660.2" cy="271.3" r="5.98"/><circle cx="2660.2" cy="314.4" r="5.98"/><circle cx="2660.2" cy="317" r="5.98"/><circle cx="2660.2" cy="202.7" r="5.98"/><circle cx="2660.2" cy="204.2" r="5.98"/><circle cx="2660.2" cy="204.3" r="5.98"/><circle cx="2660.2" cy="206.5" r="5.98"/><circle cx="2660.2" cy="208.5" r="5.98"/><circle cx="2660.2" cy="209.2" r="5.98"/><circle cx="2660.2" cy="210.3" r="5.98"/><circle cx="2660.2" cy="215.9" r="5.98"/><circle cx="2660.2" cy="217.1" r="5.98"/><circle cx="2660.2" cy="218.1" r="5.98"/><circle cx="2660.2" cy="220.4" r="5.98"/><circle cx="2660.2" cy="220.9" r="5.98"/><circle cx="2660.2" cy="222.5" r="5.98"/><circle cx="2660.2" cy="223.1" r="5.98"/><circle cx="2660.2" cy="224.2" r="5.98"/><circle cx="2660.2" cy="226.3" r="5.98"/><circle cx="2660.2" cy="234.5" r="5.98"/><circle cx="2660.2" cy="236.6" r="5.98"/><circle cx="2660.2" cy="237.6" r="5.98"/><circle cx="2660.2" cy="239.6" r="5.98"/><circle cx="2660.2" cy="242.8" r="5.98"/><circle cx="2660.2" cy="243.1" r="5.98"/><circle cx="2660.2" cy="244" r="5.98"/><circle cx="2660.2" cy="249" r="5.98"/><circle cx="2660.2" cy="249.1" r="5.98"/><circle cx="2660.2" cy="252.2" r="5.98"/><circle cx="2660.2" cy="252.3" r="5.98"/><circle cx="2660.2" cy="254.3" r="5.98"/><circle cx="2660.2" cy="257.9" r="5.98"/><circle cx="2660.2" cy="258.9" r="5.98"/><circle cx="2660.2" cy="261.1" r="5.98"/><circle cx="2660.2" cy="262.2" r="5.98"/><circle cx="2660.2" cy="265.2" r="5.98"/><circle cx="2660.2" cy="266.4" r="5.98"/><circle cx="2660.2" cy="281.7" r="5.98"/><circle cx="2660.2" cy="283.8" r="5.98"/><circle cx="2660.2" cy="286.9" r="5.98"/><circle cx="2660.2" cy="288.2" r="5.98"/><circle cx="2660.2" cy="289.1" r="5.98"/><circle cx="2660.2" cy="293.4" r="5.98"/><circle cx="2660.2" cy="293.4" r="5.98"/><circle cx="2660.2" cy="296.5" r="5.98"/><circle cx="2660.2" cy="297.7" r="5.98"/><circle cx="2660.2" cy="299.2" r="5.98"/><circle cx="2660.2" cy="303.2" r="5.98"/><circle cx="2660.2" cy="304.6" r="5.98"/><circle cx="2660.2" cy="305.8" r="5.98"/><circle cx="2660.2" cy="308.1" r="5.98"/><circle cx="2658.9" cy="340.3" r="5.98"/><circle cx="2658.9" cy="317.1" r="5.98"/><circle cx="2669.6" cy="204.7" r="5.98"/><circle cx="2669.6" cy="233.2" r="5.98"/><circle cx="2669.6" cy="245.5" r="5.98"/><circle cx="2669.6" cy="265.3" r="5.98"/><circle cx="2669.6" cy="270.8" r="5.98"/><circle cx="2669.6" cy="299.3" r="5.98"/><circle cx="2669.6" cy="302.3" r="5.98"/><circle cx="2669.6" cy="305.6" r="5.98"/><circle cx="2669.6" cy="311.9" r="5.98"/><circle cx="2669.6" cy="316.6" r="5.98"/><circle cx="2669.6" cy="317" r="5.98"/><circle cx="2669.6" cy="329.9" r="5.98"/><circle cx="2669.6" cy="330.4" r="5.98"/><circle cx="2669.6" cy="281.3" r="5.98"/><circle cx="2669.6" cy="283" r="5.98"/><circle cx="2669.6" cy="286.2" r="5.98"/><circle cx="2669.6" cy="288.3" r="5.98"/><circle cx="2669.6" cy="290.9" r="5.98"/><circle cx="2669.6" cy="291.1" r="5.98"/><circle cx="2669.6" cy="293.1" r="5.98"/><circle cx="2698.3" cy="207.3" r="5.98"/><circle cx="2698.3" cy="215.8" r="5.98"/><circle cx="2698.3" cy="229" r="5.98"/><circle cx="2698.3" cy="234.2" r="5.98"/><circle cx="2698.3" cy="229.9" r="5.98"/><circle cx="2698.3" cy="235.4" r="5.98"/><circle cx="2698.3" cy="239.6" r="5.98"/><circle cx="2698.3" cy="260.8" r="5.98"/><circle cx="2698.3" cy="280.8" r="5.98"/><circle cx="2698.3" cy="281.3" r="5.98"/><circle cx="2698.3" cy="245.9" r="5.98"/><circle cx="2698.3" cy="246.1" r="5.98"/><circle cx="2698.3" cy="249.5" r="5.98"/><circle cx="2698.3" cy="250.8" r="5.98"/><circle cx="2698.3" cy="251.1" r="5.98"/><circle cx="2698.3" cy="252.3" r="5.98"/><circle cx="2698.3" cy="253.6" r="5.98"/><circle cx="2698.3" cy="255.7" r="5.98"/><circle cx="2698.3" cy="256.3" r="5.98"/><circle cx="2715.4" cy="207.8" r="5.98"/><circle cx="2715.4" cy="208.8" r="5.98"/><circle cx="2715.4" cy="224" r="5.98"/><circle cx="2715.4" cy="251.7" r="5.98"/><circle cx="2715.4" cy="255.9" r="5.98"/><circle cx="2715.4" cy="214.4" r="5.98"/><circle cx="2715.4" cy="215.2" r="5.98"/><circle cx="2715.4" cy="216.6" r="5.98"/><circle cx="2715.4" cy="219.8" r="5.98"/><circle cx="2715.4" cy="220.9" r="5.98"/><circle cx="2715.4" cy="222.7" r="5.98"/><circle cx="2715.4" cy="234.4" r="5.98"/><circle cx="2715.4" cy="236.9" r="5.98"/><circle cx="2715.4" cy="238.1" r="5.98"/><circle cx="2715.4" cy="240.1" r="5.98"/><circle cx="2715.4" cy="240.9" r="5.98"/><circle cx="2715.4" cy="241.8" r="5.98"/><circle cx="2715.4" cy="243.8" r="5.98"/><circle cx="2715.4" cy="244.6" r="5.98"/><circle cx="2715.4" cy="246.8" r="5.98"/><circle cx="2766.8" cy="148.2" r="5.98"/><circle cx="2766.8" cy="213.8" r="5.98"/><circle cx="2766.8" cy="214.3" r="5.98"/><circle cx="2766.8" cy="235.7" r="5.98"/><circle cx="2766.8" cy="240.4" r="5.98"/><circle cx="2766.8" cy="263.3" r="5.98"/><circle cx="2766.8" cy="271.7" r="5.98"/><circle cx="2766.8" cy="159.6" r="5.98"/><circle cx="2766.8" cy="160.1" r="5.98"/><circle cx="2766.8" cy="162.9" r="5.98"/><circle cx="2766.8" cy="164.3" r="5.98"/><circle cx="2766.8" cy="174.9" r="5.98"/><circle cx="2766.8" cy="175.1" r="5.98"/><circle cx="2766.8" cy="179.8" r="5.98"/><circle cx="2766.8" cy="182.8" r="5.98"/><circle cx="2766.8" cy="183" r="5.98"/><circle cx="2766.8" cy="185.4" r="5.98"/><circle cx="2766.8" cy="187.3" r="5.98"/><circle cx="2766.8" cy="188.6" r="5.98"/><circle cx="2766.8" cy="189.9" r="5.98"/><circle cx="2766.8" cy="192" r="5.98"/><circle cx="2766.8" cy="192.4" r="5.98"/><circle cx="2766.8" cy="194.1" r="5.98"/><circle cx="2766.8" cy="196.9" r="5.98"/><circle cx="2766.8" cy="197.6" r="5.98"/><circle cx="2766.8" cy="198.7" r="5.98"/><circle cx="2766.8" cy="201.1" r="5.98"/><circle cx="2766.8" cy="201.8" r="5.98"/><circle cx="2766.8" cy="204.2" r="5.98"/><circle cx="2766.8" cy="206.6" r="5.98"/><circle cx="2766.8" cy="207.1" r="5.98"/><circle cx="2766.8" cy="208.8" r="5.98"/><circle cx="2766.8" cy="221.7" r="5.98"/><circle cx="2766.8" cy="222.9" r="5.98"/><circle cx="2766.8" cy="226.9" r="5.98"/><circle cx="2766.8" cy="227.6" r="5.98"/><circle cx="2766.8" cy="248.6" r="5.98"/><circle cx="2766.8" cy="249.6" r="5.98"/><circle cx="2766.8" cy="252.4" r="5.98"/><circle cx="2766.8" cy="254.4" r="5.98"/><circle cx="2766.8" cy="254.4" r="5.98"/><circle cx="2766.8" cy="258" r="5.98"/>
</g>
<rect class="l" x="1570.7" y="130.7" width="1242.4" height="474.7"/>
<path class="l" d="M1642.6 605.4L2789.5 605.4"/>
<path class="l" d="M1642.6 605.4L1642.6 621.3"/>
<text class="t" x="1642.6" y="662.7">22</text>
<path class="l" d="M1833.8 605.4L1833.8 621.3"/>
<text class="t" x="1833.8" y="662.7">24</text>
<path class="l" d="M2024.9 605.4L2024.9 621.3"/>
<text class="t" x="2024.9" y="662.7">26</text>
<path class="l" d="M2216.1 605.4L2216.1 621.3"/>
<text class="t" x="2216.1" y="662.7">28</text>
<path class="l" d="M2407.2 605.4L2407.2 621.3"/>
<text class="t" x="2407.2" y="662.7">30</text>
<path class="l" d="M2598.3 605.4L2598.3 621.3"/>
<text class="t" x="2598.3" y="662.7">32</text>
<path class="l" d="M2789.5 605.4L2789.5 621.3"/>
<text class="t" x="2789.5" y="662.7">34</text>
<path class="l" d="M1570.7 571.9L1570.7 190.2"/>
<path class="l" d="M1570.7 571.9L1554.8 571.9"/>
<text class="t" transform="translate(1532 571.9) rotate(-90)">20</text>
<path class="l" d="M1570.7 444.7L1554.8 444.7"/>
<text class="t" transform="translate(1532 444.7) rotate(-90)">25</text>
<path class="l" d="M1570.7 317.4L1554.8 317.4"/>
<text class="t" transform="translate(1532 317.4) rotate(-90)">30</text>
<path class="l" d="M1570.7 190.2L1554.8 190.2"/>
<text class="t" transform="translate(1532 190.2) rotate(-90)">35</text>
<text class="t" x="2191.9" y="726.6">fitted(H1_Full_ME_Sparrows)</text>
<text class="t" transform="translate(1468.4 368) rotate(-90)">Sparrows_df$Weight</text>
<g class="p">
<circle cx="176.7" cy="1355.7" r="5.98"/><circle cx="232.5" cy="1355" r="5.98"/><circle cx="260.3" cy="1354" r="5.98"/><circle cx="279.3" cy="1336.8" r="5.98"/><circle cx="294" cy="1336.5" r="5.98"/><circle cx="305.9" cy="1324.6" r="5.98"/><circle cx="316.1" cy="1323.4" r="5.98"/><circle cx="325" cy="1313.5" r="5.98"/><circle cx="332.8" cy="1311.7" r="5.98"/><circle cx="339.9" cy="1304.9" r="5.98"/><circle cx="346.4" cy="1303.7" r="5.98"/><circle cx="352.4" cy="1302.6" r="5.98"/><circle cx="357.9" cy="1300.8" r="5.98"/><circle cx="363" cy="1298.7" r="5.98"/><circle cx="367.9" cy="1296" r="5.98"/><circle cx="372.4" cy="1293.6" r="5.98"/><circle cx="376.7" cy="1287" r="5.98"/><circle cx="380.8" cy="1285.6" r="5.98"/><circle cx="384.7" cy="1282.8" r="5.98"/><circle cx="388.4" cy="1281.8" r="5.98"/><circle cx="392" cy="1281.6" r="5.98"/><circle cx="395.4" cy="1281.3" r="5.98"/><circle cx="398.6" cy="1281.1" r="5.98"/><circle cx="401.8" cy="1280.6" r="5.98"/><circle cx="404.8" cy="1280" r="5.98"/><circle cx="407.8" cy="1279.4" r="5.98"/><circle cx="410.6" cy="1278.4" r="5.98"/><circle cx="413.4" cy="1275.6" r="5.98"/><circle cx="416.1" cy="1266.6" r="5.98"/><circle cx="418.7" cy="1266.5" r="5.98"/><circle cx="421.2" cy="1266.3" r="5.98"/><circle cx="423.7" cy="1266.2" r="5.98"/><circle cx="426.1" cy="1266.1" r="5.98"/><circle cx="428.4" cy="1266" r="5.98"/><circle cx="430.7" cy="1265.9" r="5.98"/><circle cx="432.9" cy="1264.4" r="5.98"/><circle cx="435.1" cy="1262.7" r="5.98"/><circle cx="437.2" cy="1261.2" r="5.98"/><circle cx="439.3" cy="1259.6" r="5.98"/><circle cx="441.3" cy="1258.1" r="5.98"/><circle cx="443.3" cy="1256.6" r="5.98"/><circle cx="445.2" cy="1255.5" r="5.98"/><circle cx="447.2" cy="1254.4" r="5.98"/><circle cx="449" cy="1253.4" r="5.98"/><circle cx="450.9" cy="1252.4" r="5.98"/><circle cx="452.7" cy="1251.5" r="5.98"/><circle cx="454.5" cy="1250.5" r="5.98"/><circle cx="456.2" cy="1249.6" r="5.98"/><circle cx="457.9" cy="1248.6" r="5.98"/><circle cx="459.6" cy="1247.5" r="5.98"/><circle cx="461.3" cy="1246.4" r="5.98"/><circle cx="462.9" cy="1245.2" r="5.98"/><circle cx="464.5" cy="1244.1" r="5.98"/><circle cx="466.1" cy="1243" r="5.98"/><circle cx="467.7" cy="1241.9" r="5.98"/><circle cx="469.2" cy="1240.8" r="5.98"/><circle cx="470.8" cy="1240.1" r="5.98"/><circle cx="472.3" cy="1239.3" r="5.98"/><circle cx="473.7" cy="1238.6" r="5.98"/><circle cx="475.2" cy="1237.8" r="5.98"/><circle cx="476.6" cy="1237.1" r="5.98"/><circle cx="478.1" cy="1236.4" r="5.98"/><circle cx="479.5" cy="1235.7" r="5.98"/><circle cx="480.8" cy="1235" r="5.98"/><circle cx="482.2" cy="1234.5" r="5.98"/><circle cx="483.6" cy="1234.1" r="5.98"/><circle cx="484.9" cy="1233.6" r="5.98"/><circle cx="486.2" cy="1233.2" r="5.98"/><circle cx="487.5" cy="1232.8" r="5.98"/><circle cx="488.8" cy="1232.3" r="5.98"/><circle cx="490.1" cy="1231.9" r="5.98"/><circle cx="491.3" cy="1231.5" r="5.98"/><circle cx="492.6" cy="1231.1" r="5.98"/><circle cx="493.8" cy="1230.7" r="5.98"/><circle cx="495" cy="1230.3" r="5.98"/><circle cx="496.3" cy="1229.8" r="5.98"/><circle cx="497.5" cy="1229.4" r="5.98"/><circle cx="498.6" cy="1228.9" r="5.98"/><circle cx="499.8" cy="1228.2" r="5.98"/><circle cx="501" cy="1227.5" r="5.98"/><circle cx="502.1" cy="1226.8" r="5.98"/><circle cx="503.3" cy="1226.1" r="5.98"/><circle cx="504.4" cy="1225.4" r="5.98"/><circle cx="505.5" cy="1224.8" r="5.98"/><circle cx="506.6" cy="1224.1" r="5.98"/><circle cx="507.7" cy="1223.4" r="5.98"/><circle cx="508.8" cy="1222.8" r="5.98"/><circle cx="509.9" cy="1222.1" r="5.98"/><circle cx="511" cy="1221.5" r="5.98"/><circle cx="512" cy="1220.8" r="5.98"/><circle cx="513.1" cy="1220.2" r="5.98"/><circle cx="514.1" cy="1219.6" r="5.98"/><circle cx="515.2" cy="1218.9" r="5.98"/><circle cx="516.2" cy="1218.5" r="5.98"/><circle cx="517.2" cy="1218.4" r="5.98"/><circle cx="518.2" cy="1218.3" r="5.98"/><circle cx="519.2" cy="1218.1" r="5.98"/><circle cx="520.2" cy="1218" r="5.98"/><circle cx="521.2" cy="1217.8" r="5.98"/><circle cx="522.2" cy="1217.7" r="5.98"/><circle cx="523.2" cy="1217.6" r="5.98"/><circle cx="524.1" cy="1217.4" r="5.98"/><circle cx="525.1" cy="1217.3" r="5.98"/><circle cx="526" cy="1217.2" r="5.98"/><circle cx="527" cy="1217.1" r="5.98"/><circle cx="527.9" cy="1216.9" r="5.98"/><circle cx="528.8" cy="1216.8" r="5.98"/><circle cx="529.8" cy="1216.7" r="5.98"/><circle cx="530.7" cy="1216.4" r="5.98"/><circle cx="531.6" cy="1216" r="5.98"/><circle cx="532.5" cy="1215.6" r="5.98"/><circle cx="533.4" cy="1215.2" r="5.98"/><circle cx="534.3" cy="1214.7" r="5.98"/><circle cx="535.2" cy="1214.3" r="5.98"/><circle cx="536.1" cy="1213.9" r="5.98"/><circle cx="537" cy="1213.5" r="5.98"/><circle cx="537.8" cy="1213.1" r="5.98"/><circle cx="538.7" cy="1212.7" r="5.98"/><circle cx="539.6" cy="1212.3" r="5.98"/><circle cx="540.4" cy="1211.9" r="5.98"/><circle cx="541.3" cy="1211.5" r="5.98"/><circle cx="542.1" cy="1211.1" r="5.98"/><circle cx="543" cy="1210.7" r="5.98"/><circle cx="543.8" cy="1210.4" r="5.98"/><circle cx="544.6" cy="1210" r="5.98"/><circle cx="545.5" cy="1209.6" r="5.98"/><circle cx="546.3" cy="1209.2" r="5.98"/><circle cx="547.1" cy="1208.8" r="5.98"/><circle cx="547.9" cy="1208.5" r="5.98"/><circle cx="548.7" cy="1208.1" r="5.98"/><circle cx="549.5" cy="1207.7" r="5.98"/><circle cx="550.3" cy="1207.3" r="5.98"/><circle cx="551.1" cy="1207" r="5.98"/><circle cx="551.9" cy="1206.6" r="5.98"/><circle cx="552.7" cy="1206.2" r="5.98"/><circle cx="553.5" cy="1205.9" r="5.98"/><circle cx="554.3" cy="1205.5" r="5.98"/><circle cx="555.1" cy="1205.2" r="5.98"/><circle cx="555.8" cy="1204.8" r="5.98"/><circle cx="556.6" cy="1204.5" r="5.98"/><circle cx="557.4" cy="1204.2" r="5.98"/><circle cx="558.1" cy="1204" r="5.98"/><circle cx="558.9" cy="1203.8" r="5.98"/><circle cx="559.6" cy="1203.6" r="5.98"/><circle cx="560.4" cy="1203.4" r="5.98"/><circle cx="561.1" cy="1203.1" r="5.98"/><circle cx="561.9" cy="1202.9" r="5.98"/><circle cx="562.6" cy="1202.7" r="5.98"/><circle cx="563.4" cy="1202.5" r="5.98"/><circle cx="564.1" cy="1202.3" r="5.98"/><circle cx="564.8" cy="1202.1" r="5.98"/><circle cx="565.5" cy="1201.9" r="5.98"/><circle cx="566.3" cy="1201.6" r="5.98"/><circle cx="567" cy="1201.4" r="5.98"/><circle cx="567.7" cy="1201.2" r="5.98"/><circle cx="568.4" cy="1201" r="5.98"/><circle cx="569.1" cy="1200.8" r="5.98"/><circle cx="569.8" cy="1200.6" r="5.98"/><circle cx="570.5" cy="1200.4" r="5.98"/><circle cx="571.2" cy="1200.2" r="5.98"/><circle cx="571.9" cy="1200" r="5.98"/><circle cx="572.6" cy="1199.8" r="5.98"/><circle cx="573.3" cy="1199.6" r="5.98"/><circle cx="574" cy="1199.4" r="5.98"/><circle cx="574.7" cy="1199.2" r="5.98"/><circle cx="575.4" cy="1199" r="5.98"/><circle cx="576.1" cy="1198.8" r="5.98"/><circle cx="576.8" cy="1198.6" r="5.98"/><circle cx="577.4" cy="1198.4" r="5.98"/><circle cx="578.1" cy="1198.2" r="5.98"/><circle cx="578.8" cy="1198" r="5.98"/><circle cx="579.4" cy="1197.8" r="5.98"/><circle cx="580.1" cy="1197.6" r="5.98"/><circle cx="580.8" cy="1197.4" r="5.98"/><circle cx="581.4" cy="1197.2" r="5.98"/><circle cx="582.1" cy="1197" r="5.98"/><circle cx="582.8" cy="1196.8" r="5.98"/><circle cx="583.4" cy="1196.6" r="5.98"/><circle cx="584.1" cy="1196.5" r="5.98"/><circle cx="584.7" cy="1196.3" r="5.98"/><circle cx="585.4" cy="1196.1" r="5.98"/><circle cx="586" cy="1195.8" r="5.98"/><circle cx="586.6" cy="1195.6" r="5.98"/><circle cx="587.3" cy="1195.4" r="5.98"/><circle cx="587.9" cy="1195.1" r="5.98"/><circle cx="588.6" cy="1194.9" r="5.98"/><circle cx="589.2" cy="1194.6" r="5.98"/><circle cx="589.8" cy="1194.4" r="5.98"/><circle cx="590.4" cy="1194.2" r="5.98"/><circle cx="591.1" cy="1193.9" r="5.98"/><circle cx="591.7" cy="1193.7" r="5.98"/><circle cx="592.3" cy="1193.4" r="5.98"/><circle cx="592.9" cy="1193.2" r="5.98"/><circle cx="593.6" cy="1193" r="5.98"/><circle cx="594.2" cy="1192.7" r="5.98"/><circle cx="594.8" cy="1192.5" r="5.98"/><circle cx="595.4" cy="1192.3" r="5.98"/><circle cx="596" cy="1192" r="5.98"/><circle cx="596.6" cy="1191.8" r="5.98"/><circle cx="597.2" cy="1191.6" r="5.98"/><circle cx="597.8" cy="1191.3" r="5.98"/><circle cx="598.4" cy="1191.1" r="5.98"/><circle cx="599" cy="1190.9" r="5.98"/><circle cx="599.6" cy="1190.7" r="5.98"/><circle cx="600.2" cy="1190.4" r="5.98"/><circle cx="600.8" cy="1190.2" r="5.98"/><circle cx="601.4" cy="1190" r="5.98"/><circle cx="602" cy="1189.7" r="5.98"/><circle cx="602.6" cy="1189.5" r="5.98"/><circle cx="603.2" cy="1189.3" r="5.98"/><circle cx="603.8" cy="1189.1" r="5.98"/><circle cx="604.4" cy="1188.9" r="5.98"/><circle cx="605" cy="1188.6" r="5.98"/><circle cx="605.5" cy="1188.4" r="5.98"/><circle cx="606.1" cy="1188.2" r="5.98"/><circle cx="606.7" cy="1188" r="5.98"/><circle cx="607.3" cy="1187.7" r="5.98"/><circle cx="607.9" cy="1187.4" r="5.98"/><circle cx="608.4" cy="1187" r="5.98"/><circle cx="609" cy="1186.6" r="5.98"/><circle cx="609.6" cy="1186.3" r="5.98"/><circle cx="610.1" cy="1185.9" r="5.98"/><circle cx="610.7" cy="1185.5" r="5.98"/><circle cx="611.3" cy="1185.1" r="5.98"/><circle cx="611.8" cy="1184.8" r="5.98"/><circle cx="612.4" cy="1184.4" r="5.98"/><circle cx="613" cy="1184" r="5.98"/><circle cx="613.5" cy="1183.7" r="5.98"/><circle cx="614.1" cy="1183.3" r="5.98"/><circle cx="614.6" cy="1182.9" r="5.98"/><circle cx="615.2" cy="1182.6" r="5.98"/><circle cx="615.8" cy="1182.3" r="5.98"/><circle cx="616.3" cy="1182" r="5.98"/><circle cx="616.9" cy="1181.7" r="5.98"/><circle cx="617.4" cy="1181.5" r="5.98"/><circle cx="618" cy="1181.2" r="5.98"/><circle cx="618.5" cy="1180.9" r="5.98"/><circle cx="619.1" cy="1180.6" r="5.98"/><circle cx="619.6" cy="1180.3" r="5.98"/><circle cx="620.2" cy="1180" r="5.98"/><circle cx="620.7" cy="1179.7" r="5.98"/><circle cx="621.2" cy="1179.4" r="5.98"/><circle cx="621.8" cy="1179.1" r="5.98"/><circle cx="622.3" cy="1178.8" r="5.98"/><circle cx="622.9" cy="1178.6" r="5.98"/><circle cx="623.4" cy="1178.3" r="5.98"/><circle cx="623.9" cy="1178" r="5.98"/><circle cx="624.5" cy="1177.7" r="5.98"/><circle cx="625" cy="1177.4" r="5.98"/><circle cx="625.5" cy="1177.1" r="5.98"/><circle cx="626.1" cy="1176.9" r="5.98"/><circle cx="626.6" cy="1176.6" r="5.98"/><circle cx="627.1" cy="1176.3" r="5.98"/><circle cx="627.6" cy="1176" r="5.98"/><circle cx="628.2" cy="1175.7" r="5.98"/><circle cx="628.7" cy="1175.5" r="5.98"/><circle cx="629.2" cy="1175.2" r="5.98"/><circle cx="629.7" cy="1174.9" r="5.98"/><circle cx="630.3" cy="1174.6" r="5.98"/><circle cx="630.8" cy="1174.3" r="5.98"/><circle cx="631.3" cy="1174.1" r="5.98"/><circle cx="631.8" cy="1173.8" r="5.98"/><circle cx="632.3" cy="1173.5" r="5.98"/><circle cx="632.9" cy="1173.2" r="5.98"/><circle cx="633.4" cy="1173" r="5.98"/><circle cx="633.9" cy="1172.7" r="5.98"/><circle cx="634.4" cy="1172.4" r="5.98"/><circle cx="634.9" cy="1172.1" r="5.98"/><circle cx="635.4" cy="1171.9" r="5.98"/><circle cx="635.9" cy="1171.6" r="5.98"/><circle cx="636.4" cy="1171.3" r="5.98"/><circle cx="636.9" cy="1171.1" r="5.98"/><circle cx="637.5" cy="1170.9" r="5.98"/><circle cx="638" cy="1170.7" r="5.98"/><circle cx="638.5" cy="1170.6" r="5.98"/><circle cx="639" cy="1170.4" r="5.98"/><circle cx="639.5" cy="1170.2" r="5.98"/><circle cx="640" cy="1170" r="5.98"/><circle cx="640.5" cy="1169.8" r="5.98"/><circle cx="641" cy="1169.6" r="5.98"/><circle cx="641.5" cy="1169.4" r="5.98"/><circle cx="642" cy="1169.2" r="5.98"/><circle cx="642.5" cy="1169" r="5.98"/><circle cx="643" cy="1168.8" r="5.98"/><circle cx="643.5" cy="1168.7" r="5.98"/><circle cx="644" cy="1168.5" r="5.98"/><circle cx="644.5" cy="1168.3" r="5.98"/><circle cx="645" cy="1168.1" r="5.98"/><circle cx="645.4" cy="1167.9" r="5.98"/><circle cx="645.9" cy="1167.7" r="5.98"/><circle cx="646.4" cy="1167.5" r="5.98"/><circle cx="646.9" cy="1167.4" r="5.98"/><circle cx="647.4" cy="1167.2" r="5.98"/><circle cx="647.9" cy="1167" r="5.98"/><circle cx="648.4" cy="1166.8" r="5.98"/><circle cx="648.9" cy="1166.6" r="5.98"/><circle cx="649.4" cy="1166.4" r="5.98"/><circle cx="649.8" cy="1166.2" r="5.98"/><circle cx="650.3" cy="1166.1" r="5.98"/><circle cx="650.8" cy="1165.9" r="5.98"/><circle cx="651.3" cy="1165.7" r="5.98"/><circle cx="651.8" cy="1165.5" r="5.98"/><circle cx="652.3" cy="1165.3" r="5.98"/><circle cx="652.7" cy="1165.1" r="5.98"/><circle cx="653.2" cy="1165" r="5.98"/><circle cx="653.7" cy="1164.8" r="5.98"/><circle cx="654.2" cy="1164.6" r="5.98"/><circle cx="654.6" cy="1164.4" r="5.98"/><circle cx="655.1" cy="1164.2" r="5.98"/><circle cx="655.6" cy="1164.1" r="5.98"/><circle cx="656.1" cy="1163.9" r="5.98"/><circle cx="656.6" cy="1163.7" r="5.98"/><circle cx="657" cy="1163.5" r="5.98"/><circle cx="657.5" cy="1163.3" r="5.98"/><circle cx="658" cy="1163.2" r="5.98"/><circle cx="658.4" cy="1163" r="5.98"/><circle cx="658.9" cy="1162.9" r="5.98"/><circle cx="659.4" cy="1162.8" r="5.98"/><circle cx="659.9" cy="1162.7" r="5.98"/><circle cx="660.3" cy="1162.6" r="5.98"/><circle cx="660.8" cy="1162.5" r="5.98"/><circle cx="661.3" cy="1162.4" r="5.98"/><circle cx="661.7" cy="1162.3" r="5.98"/><circle cx="662.2" cy="1162.2" r="5.98"/><circle cx="662.7" cy="1162.1" r="5.98"/><circle cx="663.1" cy="1162.1" r="5.98"/><circle cx="663.6" cy="1162" r="5.98"/><circle cx="664.1" cy="1161.9" r="5.98"/><circle cx="664.5" cy="1161.8" r="5.98"/><circle cx="665" cy="1161.7" r="5.98"/><circle cx="665.4" cy="1161.6" r="5.98"/><circle cx="665.9" cy="1161.5" r="5.98"/><circle cx="666.4" cy="1161.4" r="5.98"/><circle cx="666.8" cy="1161.3" r="5.98"/><circle cx="667.3" cy="1161.2" r="5.98"/><circle cx="667.7" cy="1161.1" r="5.98"/><circle cx="668.2" cy="1161" r="5.98"/><circle cx="668.7" cy="1160.9" r="5.98"/><circle cx="669.1" cy="1160.9" r="5.98"/><circle cx="669.6" cy="1160.8" r="5.98"/><circle cx="670" cy="1160.7" r="5.98"/><circle cx="670.5" cy="1160.6" r="5.98"/><circle cx="670.9" cy="1160.5" r="5.98"/><circle cx="671.4" cy="1160.4" r="5.98"/><circle cx="671.8" cy="1160.3" r="5.98"/><circle cx="672.3" cy="1160.2" r="5.98"/><circle cx="672.8" cy="1160.1" r="5.98"/><circle cx="673.2" cy="1159.9" r="5.98"/><circle cx="673.7" cy="1159.7" r="5.98"/><circle cx="674.1" cy="1159.4" r="5.98"/><circle cx="674.6" cy="1159.1" r="5.98"/><circle cx="675" cy="1158.9" r="5.98"/><circle cx="675.5" cy="1158.6" r="5.98"/><circle cx="675.9" cy="1158.3" r="5.98"/><circle cx="676.4" cy="1158.1" r="5.98"/><circle cx="676.8" cy="1157.8" r="5.98"/><circle cx="677.3" cy="1157.6" r="5.98"/><circle cx="677.7" cy="1157.3" r="5.98"/><circle cx="678.1" cy="1157" r="5.98"/><circle cx="678.6" cy="1156.8" r="5.98"/><circle cx="679" cy="1156.5" r="5.98"/><circle cx="679.5" cy="1156.3" r="5.98"/><circle cx="679.9" cy="1156" r="5.98"/><circle cx="680.4" cy="1155.8" r="5.98"/><circle cx="680.8" cy="1155.5" r="5.98"/><circle cx="681.3" cy="1155.2" r="5.98"/><circle cx="681.7" cy="1155" r="5.98"/><circle cx="682.1" cy="1154.7" r="5.98"/><circle cx="682.6" cy="1154.5" r="5.98"/><circle cx="683" cy="1154.2" r="5.98"/><circle cx="683.5" cy="1153.9" r="5.98"/><circle cx="683.9" cy="1153.7" r="5.98"/><circle cx="684.3" cy="1153.4" r="5.98"/><circle cx="684.8" cy="1153.2" r="5.98"/><circle cx="685.2" cy="1152.9" r="5.98"/><circle cx="685.7" cy="1152.7" r="5.98"/><circle cx="686.1" cy="1152.4" r="5.98"/><circle cx="686.5" cy="1152.2" r="5.98"/><circle cx="687" cy="1151.9" r="5.98"/><circle cx="687.4" cy="1151.6" r="5.98"/><circle cx="687.9" cy="1151.5" r="5.98"/><circle cx="688.3" cy="1151.3" r="5.98"/><circle cx="688.7" cy="1151.1" r="5.98"/><circle cx="689.2" cy="1150.9" r="5.98"/><circle cx="689.6" cy="1150.7" r="5.98"/><circle cx="690" cy="1150.6" r="5.98"/><circle cx="690.5" cy="1150.4" r="5.98"/><circle cx="690.9" cy="1150.2" r="5.98"/><circle cx="691.3" cy="1150" r="5.98"/><circle cx="691.8" cy="1149.8" r="5.98"/><circle cx="692.2" cy="1149.7" r="5.98"/><circle cx="692.6" cy="1149.5" r="5.98"/><circle cx="693.1" cy="1149.3" r="5.98"/><circle cx="693.5" cy="1149.1" r="5.98"/><circle cx="693.9" cy="1148.9" r="5.98"/><circle cx="694.4" cy="1148.8" r="5.98"/><circle cx="694.8" cy="1148.6" r="5.98"/><circle cx="695.2" cy="1148.4" r="5.98"/><circle cx="695.7" cy="1148.2" r="5.98"/><circle cx="696.1" cy="1148.1" r="5.98"/><circle cx="696.5" cy="1147.9" r="5.98"/><circle cx="696.9" cy="1147.7" r="5.98"/><circle cx="697.4" cy="1147.5" r="5.98"/><circle cx="697.8" cy="1147.3" r="5.98"/><circle cx="698.2" cy="1147.2" r="5.98"/><circle cx="698.7" cy="1147" r="5.98"/><circle cx="699.1" cy="1146.8" r="5.98"/><circle cx="699.5" cy="1146.6" r="5.98"/><circle cx="699.9" cy="1146.5" r="5.98"/><circle cx="700.4" cy="1146.3" r="5.98"/><circle cx="700.8" cy="1146.1" r="5.98"/><circle cx="701.2" cy="1145.9" r="5.98"/><circle cx="701.6" cy="1145.8" r="5.98"/><circle cx="702.1" cy="1145.6" r="5.98"/><circle cx="702.5" cy="1145.4" r="5.98"/><circle cx="702.9" cy="1145.2" r="5.98"/><circle cx="703.3" cy="1145.1" r="5.98"/><circle cx="703.8" cy="1144.9" r="5.98"/><circle cx="704.2" cy="1144.7" r="5.98"/><circle cx="704.6" cy="1144.5" r="5.98"/><circle cx="705" cy="1144.4" r="5.98"/><circle cx="705.5" cy="1144.2" r="5.98"/><circle cx="705.9" cy="1144" r="5.98"/><circle cx="706.3" cy="1143.8" r="5.98"/><circle cx="706.7" cy="1143.7" r="5.98"/><circle cx="707.1" cy="1143.5" r="5.98"/><circle cx="707.6" cy="1143.3" r="5.98"/><circle cx="708" cy="1143.1" r="5.98"/><circle cx="708.4" cy="1143" r="5.98"/><circle cx="708.8" cy="1142.8" r="5.98"/><circle cx="709.2" cy="1142.6" r="5.98"/><circle cx="709.7" cy="1142.4" r="5.98"/><circle cx="710.1" cy="1142.3" r="5.98"/><circle cx="710.5" cy="1142.1" r="5.98"/><circle cx="710.9" cy="1141.9" r="5.98"/><circle cx="711.3" cy="1141.7" r="5.98"/><circle cx="711.8" cy="1141.6" r="5.98"/><circle cx="712.2" cy="1141.4" r="5.98"/><circle cx="712.6" cy="1141.2" r="5.98"/><circle cx="713" cy="1141" r="5.98"/><circle cx="713.4" cy="1140.9" r="5.98"/><circle cx="713.9" cy="1140.7" r="5.98"/><circle cx="714.3" cy="1140.5" r="5.98"/><circle cx="714.7" cy="1140.3" r="5.98"/><circle cx="715.1" cy="1140.2" r="5.98"/><circle cx="715.5" cy="1140" r="5.98"/><circle cx="715.9" cy="1139.8" r="5.98"/><circle cx="716.4" cy="1139.6" r="5.98"/><circle cx="716.8" cy="1139.5" r="5.98"/><circle cx="717.2" cy="1139.3" r="5.98"/><circle cx="717.6" cy="1139.1" r="5.98"/><circle cx="718" cy="1138.9" r="5.98"/><circle cx="718.4" cy="1138.8" r="5.98"/><circle cx="718.9" cy="1138.6" r="5.98"/><circle cx="719.3" cy="1138.4" r="5.98"/><circle cx="719.7" cy="1138.2" r="5.98"/><circle cx="720.1" cy="1138.1" r="5.98"/><circle cx="720.5" cy="1137.9" r="5.98"/><circle cx="720.9" cy="1137.7" r="5.98"/><circle cx="721.3" cy="1137.5" r="5.98"/><circle cx="721.8" cy="1137.4" r="5.98"/><circle cx="722.2" cy="1137.2" r="5.98"/><circle cx="722.6" cy="1137" r="5.98"/><circle cx="723" cy="1136.8" r="5.98"/><circle cx="723.4" cy="1136.7" r="5.98"/><circle cx="723.8" cy="1136.5" r="5.98"/><circle cx="724.2" cy="1136.3" r="5.98"/><circle cx="724.7" cy="1136.1" r="5.98"/><circle cx="725.1" cy="1136" r="5.98"/><circle cx="725.5" cy="1135.8" r="5.98"/><circle cx="725.9" cy="1135.6" r="5.98"/><circle cx="726.3" cy="1135.5" r="5.98"/><circle cx="726.7" cy="1135.3" r="5.98"/><circle cx="727.1" cy="1135.1" r="5.98"/><circle cx="727.5" cy="1134.9" r="5.98"/><circle cx="728" cy="1134.8" r="5.98"/><circle cx="728.4" cy="1134.6" r="5.98"/><circle cx="728.8" cy="1134.4" r="5.98"/><circle cx="729.2" cy="1134.2" r="5.98"/><circle cx="729.6" cy="1134.1" r="5.98"/><circle cx="730" cy="1133.9" r="5.98"/><circle cx="730.4" cy="1133.7" r="5.98"/><circle cx="730.8" cy="1133.6" r="5.98"/><circle cx="731.2" cy="1133.4" r="5.98"/><circle cx="731.7" cy="1133.2" r="5.98"/><circle cx="732.1" cy="1133" r="5.98"/><circle cx="732.5" cy="1132.8" r="5.98"/><circle cx="732.9" cy="1132.6" r="5.98"/><circle cx="733.3" cy="1132.5" r="5.98"/><circle cx="733.7" cy="1132.3" r="5.98"/><circle cx="734.1" cy="1132.1" r="5.98"/><circle cx="734.5" cy="1131.9" r="5.98"/><circle cx="734.9" cy="1131.7" r="5.98"/><circle cx="735.4" cy="1131.5" r="5.98"/><circle cx="735.8" cy="1131.4" r="5.98"/><circle cx="736.2" cy="1131.2" r="5.98"/><circle cx="736.6" cy="1131" r="5.98"/><circle cx="737" cy="1130.8" r="5.98"/><circle cx="737.4" cy="1130.6" r="5.98"/><circle cx="737.8" cy="1130.4" r="5.98"/><circle cx="738.2" cy="1130.3" r="5.98"/><circle cx="738.6" cy="1130.1" r="5.98"/><circle cx="739" cy="1129.9" r="5.98"/><circle cx="739.4" cy="1129.7" r="5.98"/><circle cx="739.9" cy="1129.5" r="5.98"/><circle cx="740.3" cy="1129.3" r="5.98"/><circle cx="740.7" cy="1129.2" r="5.98"/><circle cx="741.1" cy="1129" r="5.98"/><circle cx="741.5" cy="1128.8" r="5.98"/><circle cx="741.9" cy="1128.6" r="5.98"/><circle cx="742.3" cy="1128.4" r="5.98"/><circle cx="742.7" cy="1128.2" r="5.98"/><circle cx="743.1" cy="1128.1" r="5.98"/><circle cx="743.5" cy="1127.9" r="5.98"/><circle cx="743.9" cy="1127.7" r="5.98"/><circle cx="744.3" cy="1127.5" r="5.98"/><circle cx="744.8" cy="1127.3" r="5.98"/><circle cx="745.2" cy="1127.1" r="5.98"/><circle cx="745.6" cy="1127" r="5.98"/><circle cx="746" cy="1126.8" r="5.98"/><circle cx="746.4" cy="1126.7" r="5.98"/><circle cx="746.8" cy="1126.6" r="5.98"/><circle cx="747.2" cy="1126.4" r="5.98"/><circle cx="747.6" cy="1126.3" r="5.98"/><circle cx="748" cy="1126.2" r="5.98"/><circle cx="748.4" cy="1126.1" r="5.98"/><circle cx="748.8" cy="1125.9" r="5.98"/><circle cx="749.2" cy="1125.8" r="5.98"/><circle cx="749.7" cy="1125.7" r="5.98"/><circle cx="750.1" cy="1125.6" r="5.98"/><circle cx="750.5" cy="1125.4" r="5.98"/><circle cx="750.9" cy="1125.3" r="5.98"/><circle cx="751.3" cy="1125.2" r="5.98"/><circle cx="751.7" cy="1125.1" r="5.98"/><circle cx="752.1" cy="1124.9" r="5.98"/><circle cx="752.5" cy="1124.8" r="5.98"/><circle cx="752.9" cy="1124.7" r="5.98"/><circle cx="753.3" cy="1124.6" r="5.98"/><circle cx="753.7" cy="1124.4" r="5.98"/><circle cx="754.1" cy="1124.3" r="5.98"/><circle cx="754.6" cy="1124.2" r="5.98"/><circle cx="755" cy="1124.1" r="5.98"/><circle cx="755.4" cy="1123.9" r="5.98"/><circle cx="755.8" cy="1123.8" r="5.98"/><circle cx="756.2" cy="1123.7" r="5.98"/><circle cx="756.6" cy="1123.5" r="5.98"/><circle cx="757" cy="1123.4" r="5.98"/><circle cx="757.4" cy="1123.3" r="5.98"/><circle cx="757.8" cy="1123.2" r="5.98"/><circle cx="758.2" cy="1123" r="5.98"/><circle cx="758.6" cy="1122.9" r="5.98"/><circle cx="759" cy="1122.8" r="5.98"/><circle cx="759.5" cy="1122.7" r="5.98"/><circle cx="759.9" cy="1122.5" r="5.98"/><circle cx="760.3" cy="1122.4" r="5.98"/><circle cx="760.7" cy="1122.2" r="5.98"/><circle cx="761.1" cy="1122" r="5.98"/><circle cx="761.5" cy="1121.8" r="5.98"/><circle cx="761.9" cy="1121.6" r="5.98"/><circle cx="762.3" cy="1121.4" r="5.98"/><circle cx="762.7" cy="1121.2" r="5.98"/><circle cx="763.1" cy="1121" r="5.98"/><circle cx="763.5" cy="1120.8" r="5.98"/><circle cx="763.9" cy="1120.5" r="5.98"/><circle cx="764.4" cy="1120.3" r="5.98"/><circle cx="764.8" cy="1120.1" r="5.98"/><circle cx="765.2" cy="1119.9" r="5.98"/><circle cx="765.6" cy="1119.7" r="5.98"/><circle cx="766" cy="1119.5" r="5.98"/><circle cx="766.4" cy="1119.3" r="5.98"/><circle cx="766.8" cy="1119.1" r="5.98"/><circle cx="767.2" cy="1118.9" r="5.98"/><circle cx="767.6" cy="1118.7" r="5.98"/><circle cx="768" cy="1118.5" r="5.98"/><circle cx="768.4" cy="1118.3" r="5.98"/><circle cx="768.9" cy="1118.1" r="5.98"/><circle cx="769.3" cy="1117.9" r="5.98"/><circle cx="769.7" cy="1117.7" r="5.98"/><circle cx="770.1" cy="1117.5" r="5.98"/><circle cx="770.5" cy="1117.3" r="5.98"/><circle cx="770.9" cy="1117.1" r="5.98"/><circle cx="771.3" cy="1116.8" r="5.98"/><circle cx="771.7" cy="1116.6" r="5.98"/><circle cx="772.1" cy="1116.4" r="5.98"/><circle cx="772.6" cy="1116.2" r="5.98"/><circle cx="773" cy="1116" r="5.98"/><circle cx="773.4" cy="1115.8" r="5.98"/><circle cx="773.8" cy="1115.6" r="5.98"/><circle cx="774.2" cy="1115.3" r="5.98"/><circle cx="774.6" cy="1115.1" r="5.98"/><circle cx="775" cy="1114.9" r="5.98"/><circle cx="775.4" cy="1114.7" r="5.98"/><circle cx="775.8" cy="1114.5" r="5.98"/><circle cx="776.3" cy="1114.3" r="5.98"/><circle cx="776.7" cy="1114.1" r="5.98"/><circle cx="777.1" cy="1113.8" r="5.98"/><circle cx="777.5" cy="1113.6" r="5.98"/><circle cx="777.9" cy="1113.4" r="5.98"/><circle cx="778.3" cy="1113.2" r="5.98"/><circle cx="778.7" cy="1113" r="5.98"/><circle cx="779.1" cy="1112.8" r="5.98"/><circle cx="779.6" cy="1112.6" r="5.98"/><circle cx="780" cy="1112.3" r="5.98"/><circle cx="780.4" cy="1112.1" r="5.98"/><circle cx="780.8" cy="1111.9" r="5.98"/><circle cx="781.2" cy="1111.7" r="5.98"/><circle cx="781.6" cy="1111.5" r="5.98"/><circle cx="782" cy="1111.3" r="5.98"/><circle cx="782.5" cy="1111" r="5.98"/><circle cx="782.9" cy="1110.8" r="5.98"/><circle cx="783.3" cy="1110.6" r="5.98"/><circle cx="783.7" cy="1110.4" r="5.98"/><circle cx="784.1" cy="1110.2" r="5.98"/><circle cx="784.5" cy="1110" r="5.98"/><circle cx="784.9" cy="1109.8" r="5.98"/><circle cx="785.4" cy="1109.5" r="5.98"/><circle cx="785.8" cy="1109.3" r="5.98"/><circle cx="786.2" cy="1109.1" r="5.98"/><circle cx="786.6" cy="1108.9" r="5.98"/><circle cx="787" cy="1108.7" r="5.98"/><circle cx="787.4" cy="1108.5" r="5.98"/><circle cx="787.9" cy="1108.2" r="5.98"/><circle cx="788.3" cy="1108" r="5.98"/><circle cx="788.7" cy="1107.8" r="5.98"/><circle cx="789.1" cy="1107.6" r="5.98"/><circle cx="789.5" cy="1107.4" r="5.98"/><circle cx="789.9" cy="1107.2" r="5.98"/><circle cx="790.4" cy="1106.9" r="5.98"/><circle cx="790.8" cy="1106.7" r="5.98"/><circle cx="791.2" cy="1106.5" r="5.98"/><circle cx="791.6" cy="1106.4" r="5.98"/><circle cx="792" cy="1106.2" r="5.98"/><circle cx="792.5" cy="1106" r="5.98"/><circle cx="792.9" cy="1105.9" r="5.98"/><circle cx="793.3" cy="1105.7" r="5.98"/><circle cx="793.7" cy="1105.6" r="5.98"/><circle cx="794.1" cy="1105.4" r="5.98"/><circle cx="794.6" cy="1105.2" r="5.98"/><circle cx="795" cy="1105.1" r="5.98"/><circle cx="795.4" cy="1104.9" r="5.98"/><circle cx="795.8" cy="1104.8" r="5.98"/><circle cx="796.2" cy="1104.6" r="5.98"/><circle cx="796.7" cy="1104.4" r="5.98"/><circle cx="797.1" cy="1104.3" r="5.98"/><circle cx="797.5" cy="1104.1" r="5.98"/><circle cx="797.9" cy="1104" r="5.98"/><circle cx="798.3" cy="1103.8" r="5.98"/><circle cx="798.8" cy="1103.6" r="5.98"/><circle cx="799.2" cy="1103.5" r="5.98"/><circle cx="799.6" cy="1103.3" r="5.98"/><circle cx="800" cy="1103.2" r="5.98"/><circle cx="800.5" cy="1103" r="5.98"/><circle cx="800.9" cy="1102.8" r="5.98"/><circle cx="801.3" cy="1102.7" r="5.98"/><circle cx="801.7" cy="1102.5" r="5.98"/><circle cx="802.2" cy="1102.4" r="5.98"/><circle cx="802.6" cy="1102.2" r="5.98"/><circle cx="803" cy="1102" r="5.98"/><circle cx="803.4" cy="1101.9" r="5.98"/><circle cx="803.9" cy="1101.7" r="5.98"/><circle cx="804.3" cy="1101.5" r="5.98"/><circle cx="804.7" cy="1101.4" r="5.98"/><circle cx="805.1" cy="1101.2" r="5.98"/><circle cx="805.6" cy="1101.1" r="5.98"/><circle cx="806" cy="1100.9" r="5.98"/><circle cx="806.4" cy="1100.7" r="5.98"/><circle cx="806.9" cy="1100.6" r="5.98"/><circle cx="807.3" cy="1100.4" r="5.98"/><circle cx="807.7" cy="1100.2" r="5.98"/><circle cx="808.1" cy="1100.1" r="5.98"/><circle cx="808.6" cy="1099.9" r="5.98"/><circle cx="809" cy="1099.7" r="5.98"/><circle cx="809.4" cy="1099.6" r="5.98"/><circle cx="809.9" cy="1099.4" r="5.98"/><circle cx="810.3" cy="1099.3" r="5.98"/><circle cx="810.7" cy="1099.1" r="5.98"/><circle cx="811.2" cy="1098.9" r="5.98"/><circle cx="811.6" cy="1098.8" r="5.98"/><circle cx="812" cy="1098.6" r="5.98"/><circle cx="812.5" cy="1098.4" r="5.98"/><circle cx="812.9" cy="1098.3" r="5.98"/><circle cx="813.3" cy="1098.1" r="5.98"/><circle cx="813.8" cy="1097.9" r="5.98"/><circle cx="814.2" cy="1097.8" r="5.98"/><circle cx="814.6" cy="1097.6" r="5.98"/><circle cx="815.1" cy="1097.4" r="5.98"/><circle cx="815.5" cy="1097.2" r="5.98"/><circle cx="815.9" cy="1097.1" r="5.98"/><circle cx="816.4" cy="1096.9" r="5.98"/><circle cx="816.8" cy="1096.7" r="5.98"/><circle cx="817.3" cy="1096.6" r="5.98"/><circle cx="817.7" cy="1096.4" r="5.98"/><circle cx="818.1" cy="1096.2" r="5.98"/><circle cx="818.6" cy="1096" r="5.98"/><circle cx="819" cy="1095.9" r="5.98"/><circle cx="819.5" cy="1095.7" r="5.98"/><circle cx="819.9" cy="1095.5" r="5.98"/><circle cx="820.3" cy="1095.3" r="5.98"/><circle cx="820.8" cy="1095.2" r="5.98"/><circle cx="821.2" cy="1095" r="5.98"/><circle cx="821.7" cy="1094.8" r="5.98"/><circle cx="822.1" cy="1094.7" r="5.98"/><circle cx="822.5" cy="1094.5" r="5.98"/><circle cx="823" cy="1094.3" r="5.98"/><circle cx="823.4" cy="1094.1" r="5.98"/><circle cx="823.9" cy="1094" r="5.98"/><circle cx="824.3" cy="1093.8" r="5.98"/><circle cx="824.8" cy="1093.6" r="5.98"/><circle cx="825.2" cy="1093.4" r="5.98"/><circle cx="825.7" cy="1093.3" r="5.98"/><circle cx="826.1" cy="1093.1" r="5.98"/><circle cx="826.5" cy="1092.9" r="5.98"/><circle cx="827" cy="1092.7" r="5.98"/><circle cx="827.4" cy="1092.6" r="5.98"/><circle cx="827.9" cy="1092.4" r="5.98"/><circle cx="828.3" cy="1092.2" r="5.98"/><circle cx="828.8" cy="1092" r="5.98"/><circle cx="829.2" cy="1091.9" r="5.98"/><circle cx="829.7" cy="1091.7" r="5.98"/><circle cx="830.1" cy="1091.5" r="5.98"/><circle cx="830.6" cy="1091.3" r="5.98"/><circle cx="831" cy="1091.2" r="5.98"/><circle cx="831.5" cy="1091" r="5.98"/><circle cx="832" cy="1090.8" r="5.98"/><circle cx="832.4" cy="1090.6" r="5.98"/><circle cx="832.9" cy="1090.4" r="5.98"/><circle cx="833.3" cy="1090.3" r="5.98"/><circle cx="833.8" cy="1090.1" r="5.98"/><circle cx="834.2" cy="1089.9" r="5.98"/><circle cx="834.7" cy="1089.7" r="5.98"/><circle cx="835.1" cy="1089.5" r="5.98"/><circle cx="835.6" cy="1089.4" r="5.98"/><circle cx="836.1" cy="1089.2" r="5.98"/><circle cx="836.5" cy="1089" r="5.98"/><circle cx="837" cy="1088.8" r="5.98"/><circle cx="837.4" cy="1088.6" r="5.98"/><circle cx="837.9" cy="1088.5" r="5.98"/><circle cx="838.4" cy="1088.3" r="5.98"/><circle cx="838.8" cy="1088.1" r="5.98"/><circle cx="839.3" cy="1087.9" r="5.98"/><circle cx="839.7" cy="1087.7" r="5.98"/><circle cx="840.2" cy="1087.6" r="5.98"/><circle cx="840.7" cy="1087.4" r="5.98"/><circle cx="841.1" cy="1087.2" r="5.98"/><circle cx="841.6" cy="1087" r="5.98"/><circle cx="842.1" cy="1086.9" r="5.98"/><circle cx="842.5" cy="1086.7" r="5.98"/><circle cx="843" cy="1086.6" r="5.98"/><circle cx="843.5" cy="1086.4" r="5.98"/><circle cx="843.9" cy="1086.3" r="5.98"/><circle cx="844.4" cy="1086.2" r="5.98"/><circle cx="844.9" cy="1086" r="5.98"/><circle cx="845.4" cy="1085.9" r="5.98"/><circle cx="845.8" cy="1085.8" r="5.98"/><circle cx="846.3" cy="1085.6" r="5.98"/><circle cx="846.8" cy="1085.5" r="5.98"/><circle cx="847.2" cy="1085.4" r="5.98"/><circle cx="847.7" cy="1085.2" r="5.98"/><circle cx="848.2" cy="1085.1" r="5.98"/><circle cx="848.7" cy="1085" r="5.98"/><circle cx="849.2" cy="1084.8" r="5.98"/><circle cx="849.6" cy="1084.7" r="5.98"/><circle cx="850.1" cy="1084.6" r="5.98"/><circle cx="850.6" cy="1084.4" r="5.98"/><circle cx="851.1" cy="1084.3" r="5.98"/><circle cx="851.5" cy="1084.1" r="5.98"/><circle cx="852" cy="1084" r="5.98"/><circle cx="852.5" cy="1083.9" r="5.98"/><circle cx="853" cy="1083.7" r="5.98"/><circle cx="853.5" cy="1083.6" r="5.98"/><circle cx="854" cy="1083.5" r="5.98"/><circle cx="854.4" cy="1083.3" r="5.98"/><circle cx="854.9" cy="1083.2" r="5.98"/><circle cx="855.4" cy="1083" r="5.98"/><circle cx="855.9" cy="1082.9" r="5.98"/><circle cx="856.4" cy="1082.8" r="5.98"/><circle cx="856.9" cy="1082.6" r="5.98"/><circle cx="857.4" cy="1082.5" r="5.98"/><circle cx="857.9" cy="1082.3" r="5.98"/><circle cx="858.4" cy="1082.2" r="5.98"/><circle cx="858.8" cy="1082.1" r="5.98"/><circle cx="859.3" cy="1081.9" r="5.98"/><circle cx="859.8" cy="1081.8" r="5.98"/><circle cx="860.3" cy="1081.6" r="5.98"/><circle cx="860.8" cy="1081.5" r="5.98"/><circle cx="861.3" cy="1081.4" r="5.98"/><circle cx="861.8" cy="1081.2" r="5.98"/><circle cx="862.3" cy="1081.1" r="5.98"/><circle cx="862.8" cy="1080.9" r="5.98"/><circle cx="863.3" cy="1080.8" r="5.98"/><circle cx="863.8" cy="1080.6" r="5.98"/><circle cx="864.3" cy="1080.5" r="5.98"/><circle cx="864.8" cy="1080.4" r="5.98"/><circle cx="865.3" cy="1080.2" r="5.98"/><circle cx="865.8" cy="1080.1" r="5.98"/><circle cx="866.3" cy="1079.9" r="5.98"/><circle cx="866.9" cy="1079.8" r="5.98"/><circle cx="867.4" cy="1079.6" r="5.98"/><circle cx="867.9" cy="1079.5" r="5.98"/><circle cx="868.4" cy="1079.3" r="5.98"/><circle cx="868.9" cy="1079.2" r="5.98"/><circle cx="869.4" cy="1079.1" r="5.98"/><circle cx="869.9" cy="1078.9" r="5.98"/><circle cx="870.4" cy="1078.8" r="5.98"/><circle cx="870.9" cy="1078.6" r="5.98"/><circle cx="871.5" cy="1078.4" r="5.98"/><circle cx="872" cy="1078.2" r="5.98"/><circle cx="872.5" cy="1078" r="5.98"/><circle cx="873" cy="1077.7" r="5.98"/><circle cx="873.5" cy="1077.5" r="5.98"/><circle cx="874.1" cy="1077.3" r="5.98"/><circle cx="874.6" cy="1077.1" r="5.98"/><circle cx="875.1" cy="1076.9" r="5.98"/><circle cx="875.6" cy="1076.6" r="5.98"/><circle cx="876.2" cy="1076.4" r="5.98"/><circle cx="876.7" cy="1076.2" r="5.98"/><circle cx="877.2" cy="1076" r="5.98"/><circle cx="877.7" cy="1075.7" r="5.98"/><circle cx="878.3" cy="1075.5" r="5.98"/><circle cx="878.8" cy="1075.3" r="5.98"/><circle cx="879.3" cy="1075.1" r="5.98"/><circle cx="879.9" cy="1074.8" r="5.98"/><circle cx="880.4" cy="1074.6" r="5.98"/><circle cx="880.9" cy="1074.4" r="5.98"/><circle cx="881.5" cy="1074.1" r="5.98"/><circle cx="882" cy="1073.9" r="5.98"/><circle cx="882.6" cy="1073.7" r="5.98"/><circle cx="883.1" cy="1073.5" r="5.98"/><circle cx="883.6" cy="1073.2" r="5.98"/><circle cx="884.2" cy="1073" r="5.98"/><circle cx="884.7" cy="1072.8" r="5.98"/><circle cx="885.3" cy="1072.5" r="5.98"/><circle cx="885.8" cy="1072.3" r="5.98"/><circle cx="886.4" cy="1072" r="5.98"/><circle cx="886.9" cy="1071.8" r="5.98"/><circle cx="887.5" cy="1071.5" r="5.98"/><circle cx="888" cy="1071.3" r="5.98"/><circle cx="888.6" cy="1071" r="5.98"/><circle cx="889.2" cy="1070.7" r="5.98"/><circle cx="889.7" cy="1070.5" r="5.98"/><circle cx="890.3" cy="1070.2" r="5.98"/><circle cx="890.8" cy="1070" r="5.98"/><circle cx="891.4" cy="1069.7" r="5.98"/><circle cx="892" cy="1069.4" r="5.98"/><circle cx="892.5" cy="1069.2" r="5.98"/><circle cx="893.1" cy="1068.9" r="5.98"/><circle cx="893.7" cy="1068.6" r="5.98"/><circle cx="894.2" cy="1068.4" r="5.98"/><circle cx="894.8" cy="1068.1" r="5.98"/><circle cx="895.4" cy="1067.8" r="5.98"/><circle cx="895.9" cy="1067.6" r="5.98"/><circle cx="896.5" cy="1067.3" r="5.98"/><circle cx="897.1" cy="1067" r="5.98"/><circle cx="897.7" cy="1066.7" r="5.98"/><circle cx="898.3" cy="1066.5" r="5.98"/><circle cx="898.8" cy="1066.2" r="5.98"/><circle cx="899.4" cy="1065.9" r="5.98"/><circle cx="900" cy="1065.7" r="5.98"/><circle cx="900.6" cy="1065.4" r="5.98"/><circle cx="901.2" cy="1065.1" r="5.98"/><circle cx="901.8" cy="1064.8" r="5.98"/><circle cx="902.4" cy="1064.6" r="5.98"/><circle cx="903" cy="1064.3" r="5.98"/><circle cx="903.6" cy="1064" r="5.98"/><circle cx="904.2" cy="1063.7" r="5.98"/><circle cx="904.8" cy="1063.4" r="5.98"/><circle cx="905.4" cy="1063.2" r="5.98"/><circle cx="906" cy="1062.9" r="5.98"/><circle cx="906.6" cy="1062.6" r="5.98"/><circle cx="907.2" cy="1062.3" r="5.98"/><circle cx="907.8" cy="1062.1" r="5.98"/><circle cx="908.4" cy="1061.9" r="5.98"/><circle cx="909" cy="1061.8" r="5.98"/><circle cx="909.6" cy="1061.6" r="5.98"/><circle cx="910.2" cy="1061.4" r="5.98"/><circle cx="910.9" cy="1061.3" r="5.98"/><circle cx="911.5" cy="1061.1" r="5.98"/><circle cx="912.1" cy="1061" r="5.98"/><circle cx="912.7" cy="1060.8" r="5.98"/><circle cx="913.4" cy="1060.6" r="5.98"/><circle cx="914" cy="1060.5" r="5.98"/><circle cx="914.6" cy="1060.3" r="5.98"/><circle cx="915.2" cy="1060.1" r="5.98"/><circle cx="915.9" cy="1060" r="5.98"/><circle cx="916.5" cy="1059.8" r="5.98"/><circle cx="917.2" cy="1059.6" r="5.98"/><circle cx="917.8" cy="1059.4" r="5.98"/><circle cx="918.4" cy="1059.3" r="5.98"/><circle cx="919.1" cy="1059.1" r="5.98"/><circle cx="919.7" cy="1058.9" r="5.98"/><circle cx="920.4" cy="1058.8" r="5.98"/><circle cx="921" cy="1058.6" r="5.98"/><circle cx="921.7" cy="1058.4" r="5.98"/><circle cx="922.4" cy="1058.2" r="5.98"/><circle cx="923" cy="1058.1" r="5.98"/><circle cx="923.7" cy="1057.9" r="5.98"/><circle cx="924.4" cy="1057.7" r="5.98"/><circle cx="925" cy="1057.5" r="5.98"/><circle cx="925.7" cy="1057.4" r="5.98"/><circle cx="926.4" cy="1057.2" r="5.98"/><circle cx="927" cy="1057" r="5.98"/><circle cx="927.7" cy="1056.8" r="5.98"/><circle cx="928.4" cy="1056.6" r="5.98"/><circle cx="929.1" cy="1056.5" r="5.98"/><circle cx="929.8" cy="1056.2" r="5.98"/><circle cx="930.5" cy="1055.9" r="5.98"/><circle cx="931.2" cy="1055.6" r="5.98"/><circle cx="931.9" cy="1055.3" r="5.98"/><circle cx="932.6" cy="1055" r="5.98"/><circle cx="933.3" cy="1054.7" r="5.98"/><circle cx="934" cy="1054.4" r="5.98"/><circle cx="934.7" cy="1054.1" r="5.98"/><circle cx="935.4" cy="1053.8" r="5.98"/><circle cx="936.1" cy="1053.5" r="5.98"/><circle cx="936.8" cy="1053.2" r="5.98"/><circle cx="937.5" cy="1052.9" r="5.98"/><circle cx="938.3" cy="1052.6" r="5.98"/><circle cx="939" cy="1052.3" r="5.98"/><circle cx="939.7" cy="1052" r="5.98"/><circle cx="940.4" cy="1051.7" r="5.98"/><circle cx="941.2" cy="1051.4" r="5.98"/><circle cx="941.9" cy="1051.1" r="5.98"/><circle cx="942.7" cy="1050.8" r="5.98"/><circle cx="943.4" cy="1050.5" r="5.98"/><circle cx="944.2" cy="1050.2" r="5.98"/><circle cx="944.9" cy="1049.9" r="5.98"/><circle cx="945.7" cy="1049.5" r="5.98"/><circle cx="946.4" cy="1049.2" r="5.98"/><circle cx="947.2" cy="1048.9" r="5.98"/><circle cx="948" cy="1048.6" r="5.98"/><circle cx="948.7" cy="1048.3" r="5.98"/><circle cx="949.5" cy="1048" r="5.98"/><circle cx="950.3" cy="1047.7" r="5.98"/><circle cx="951.1" cy="1047.4" r="5.98"/><circle cx="951.9" cy="1047.1" r="5.98"/><circle cx="952.7" cy="1046.7" r="5.98"/><circle cx="953.5" cy="1046.4" r="5.98"/><circle cx="954.3" cy="1046.1" r="5.98"/><circle cx="955.1" cy="1045.8" r="5.98"/><circle cx="955.9" cy="1045.4" r="5.98"/><circle cx="956.7" cy="1045.1" r="5.98"/><circle cx="957.5" cy="1044.8" r="5.98"/><circle cx="958.3" cy="1044.5" r="5.98"/><circle cx="959.2" cy="1044.1" r="5.98"/><circle cx="960" cy="1043.8" r="5.98"/><circle cx="960.8" cy="1043.5" r="5.98"/><circle cx="961.7" cy="1043.1" r="5.98"/><circle cx="962.5" cy="1042.8" r="5.98"/><circle cx="963.4" cy="1042.4" r="5.98"/><circle cx="964.2" cy="1042.1" r="5.98"/><circle cx="965.1" cy="1041.7" r="5.98"/><circle cx="966" cy="1041.4" r="5.98"/><circle cx="966.8" cy="1041" r="5.98"/><circle cx="967.7" cy="1040.7" r="5.98"/><circle cx="968.6" cy="1040.3" r="5.98"/><circle cx="969.5" cy="1040" r="5.98"/><circle cx="970.4" cy="1039.6" r="5.98"/><circle cx="971.3" cy="1039.3" r="5.98"/><circle cx="972.2" cy="1038.9" r="5.98"/><circle cx="973.1" cy="1038.5" r="5.98"/><circle cx="974" cy="1038.2" r="5.98"/><circle cx="975" cy="1037.9" r="5.98"/><circle cx="975.9" cy="1037.6" r="5.98"/><circle cx="976.8" cy="1037.3" r="5.98"/><circle cx="977.8" cy="1037" r="5.98"/><circle cx="978.7" cy="1036.7" r="5.98"/><circle cx="979.7" cy="1036.4" r="5.98"/><circle cx="980.6" cy="1036.1" r="5.98"/><circle cx="981.6" cy="1035.7" r="5.98"/><circle cx="982.6" cy="1035.4" r="5.98"/><circle cx="983.6" cy="1035.1" r="5.98"/><circle cx="984.6" cy="1034.8" r="5.98"/><circle cx="985.6" cy="1034.4" r="5.98"/><circle cx="986.6" cy="1034.1" r="5.98"/><circle cx="987.6" cy="1033.7" r="5.98"/><circle cx="988.6" cy="1033.3" r="5.98"/><circle cx="989.7" cy="1032.8" r="5.98"/><circle cx="990.7" cy="1032.4" r="5.98"/><circle cx="991.8" cy="1031.9" r="5.98"/><circle cx="992.8" cy="1031.4" r="5.98"/><circle cx="993.9" cy="1030.9" r="5.98"/><circle cx="995" cy="1030.5" r="5.98"/><circle cx="996.1" cy="1030" r="5.98"/><circle cx="997.2" cy="1029.5" r="5.98"/><circle cx="998.3" cy="1029" r="5.98"/><circle cx="999.4" cy="1028.5" r="5.98"/><circle cx="1000.5" cy="1028" r="5.98"/><circle cx="1001.7" cy="1027.5" r="5.98"/><circle cx="1002.8" cy="1027" r="5.98"/><circle cx="1004" cy="1026.5" r="5.98"/><circle cx="1005.2" cy="1025.9" r="5.98"/><circle cx="1006.3" cy="1025.4" r="5.98"/><circle cx="1007.5" cy="1024.9" r="5.98"/><circle cx="1008.8" cy="1024.3" r="5.98"/><circle cx="1010" cy="1023.9" r="5.98"/><circle cx="1011.2" cy="1023.5" r="5.98"/><circle cx="1012.5" cy="1023" r="5.98"/><circle cx="1013.7" cy="1022.6" r="5.98"/><circle cx="1015" cy="1022.2" r="5.98"/><circle cx="1016.3" cy="1021.8" r="5.98"/><circle cx="1017.6" cy="1021.3" r="5.98"/><circle cx="1018.9" cy="1020.9" r="5.98"/><circle cx="1020.2" cy="1020.5" r="5.98"/><circle cx="1021.6" cy="1020" r="5.98"/><circle cx="1023" cy="1019.5" r="5.98"/><circle cx="1024.3" cy="1019.1" r="5.98"/><circle cx="1025.7" cy="1018.6" r="5.98"/><circle cx="1027.2" cy="1018.1" r="5.98"/><circle cx="1028.6" cy="1017.7" r="5.98"/><circle cx="1030.1" cy="1017.2" r="5.98"/><circle cx="1031.5" cy="1016.7" r="5.98"/><circle cx="1033" cy="1016.5" r="5.98"/><circle cx="1034.6" cy="1016.2" r="5.98"/><circle cx="1036.1" cy="1015.9" r="5.98"/><circle cx="1037.7" cy="1015.6" r="5.98"/><circle cx="1039.3" cy="1015.3" r="5.98"/><circle cx="1040.9" cy="1015" r="5.98"/><circle cx="1042.5" cy="1014.5" r="5.98"/><circle cx="1044.2" cy="1014" r="5.98"/><circle cx="1045.9" cy="1013.6" r="5.98"/><circle cx="1047.6" cy="1013.1" r="5.98"/><circle cx="1049.3" cy="1012.6" r="5.98"/><circle cx="1051.1" cy="1012" r="5.98"/><circle cx="1052.9" cy="1011.4" r="5.98"/><circle cx="1054.8" cy="1010.7" r="5.98"/><circle cx="1056.6" cy="1009.3" r="5.98"/><circle cx="1058.6" cy="1007.9" r="5.98"/><circle cx="1060.5" cy="1006.7" r="5.98"/><circle cx="1062.5" cy="1006.1" r="5.98"/><circle cx="1064.5" cy="1005.5" r="5.98"/><circle cx="1066.6" cy="1004.9" r="5.98"/><circle cx="1068.7" cy="1004.1" r="5.98"/><circle cx="1070.9" cy="1003.4" r="5.98"/><circle cx="1073.1" cy="1002.6" r="5.98"/><circle cx="1075.4" cy="1001.9" r="5.98"/><circle cx="1077.7" cy="1001.1" r="5.98"/><circle cx="1080.1" cy="996.9" r="5.98"/><circle cx="1082.6" cy="994.7" r="5.98"/><circle cx="1085.1" cy="993.7" r="5.98"/><circle cx="1087.7" cy="992.8" r="5.98"/><circle cx="1090.4" cy="991.8" r="5.98"/><circle cx="1093.2" cy="990.8" r="5.98"/><circle cx="1096" cy="989.8" r="5.98"/><circle cx="1099" cy="988.7" r="5.98"/><circle cx="1102" cy="987.7" r="5.98"/><circle cx="1105.2" cy="987.2" r="5.98"/><circle cx="1108.4" cy="986.8" r="5.98"/><circle cx="1111.8" cy="986.4" r="5.98"/><circle cx="1115.4" cy="986" r="5.98"/><circle cx="1119.1" cy="985.5" r="5.98"/><circle cx="1123" cy="985.1" r="5.98"/><circle cx="1127.1" cy="984.6" r="5.98"/><circle cx="1131.4" cy="980" r="5.98"/><circle cx="1135.9" cy="978.5" r="5.98"/><circle cx="1140.8" cy="978" r="5.98"/><circle cx="1145.9" cy="977.4" r="5.98"/><circle cx="1151.4" cy="976.8" r="5.98"/><circle cx="1157.4" cy="976.1" r="5.98"/><circle cx="1163.9" cy="975.9" r="5.98"/><circle cx="1171" cy="969.3" r="5.98"/><circle cx="1178.8" cy="959.6" r="5.98"/><circle cx="1187.7" cy="959.2" r="5.98"/><circle cx="1197.9" cy="958" r="5.98"/><circle cx="1209.8" cy="957.3" r="5.98"/><circle cx="1224.5" cy="947.2" r="5.98"/><circle cx="1243.5" cy="945.3" r="5.98"/><circle cx="1271.3" cy="939.2" r="5.98"/><circle cx="1327.1" cy="916.2" r="5.98"/>
</g>
<rect class="l" x="130.7" y="898.7" width="1242.4" height="474.7"/>
<path class="l" d="M230.4 1373.4L1273.4 1373.4"/>
<path class="l" d="M230.4 1373.4L230.4 1389.3"/>
<text class="t" x="230.4" y="1430.7">-3</text>
<path class="l" d="M404.2 1373.4L404.2 1389.3"/>
<text class="t" x="404.2" y="1430.7">-2</text>
<path class="l" d="M578.1 1373.4L578.1 1389.3"/>
<text class="t" x="578.1" y="1430.7">-1</text>
<path class="l" d="M751.9 1373.4L751.9 1389.3"/>
<text class="t" x="751.9" y="1430.7">0</text>
<path class="l" d="M925.7 1373.4L925.7 1389.3"/>
<text class="t" x="925.7" y="1430.7">1</text>
<path class="l" d="M1099.6 1373.4L1099.6 1389.3"/>
<text class="t" x="1099.6" y="1430.7">2</text>
<path class="l" d="M1273.4 1373.4L1273.4 1389.3"/>
<text class="t" x="1273.4" y="1430.7">3</text>
<path class="l" d="M130.7 1297.9L130.7 956.4"/>
<path class="l" d="M130.7 1297.9L114.8 1297.9"/>
<text class="t" transform="translate(92 1297.9) rotate(-90)">-4</text>
<path class="l" d="M130.7 1212.5L114.8 1212.5"/>
<text class="t" transform="translate(92 1212.5) rotate(-90)">-2</text>
<path class="l" d="M130.7 1127.2L114.8 1127.2"/>
<text class="t" transform="translate(92 1127.2) rotate(-90)">0</text>
<path class="l" d="M130.7 1041.8L114.8 1041.8"/>
<text class="t" transform="translate(92 1041.8) rotate(-90)">2</text>
<path class="l" d="M130.7 956.4L114.8 956.4"/>
<text class="t" transform="translate(92 956.4) rotate(-90)">4</text>
<text class="t" x="751.9" y="1494.6">Theoretical Quantiles</text>
<text class="t" transform="translate(28.4 1136) rotate(-90)">Sample Quantiles</text>
<text class="h" x="751.9" y="844.7">Normal Q-Q Plot</text>
<rect class="b" x="1616.7" y="1136.9" width="67.7" height="218.9"/>
<rect class="b" x="1684.4" y="915.6" width="67.7" height="440.2"/>
<rect class="b" x="1752" y="1330.5" width="67.7" height="25.3"/>
<rect class="b" x="1819.7" y="1234.3" width="67.7" height="121.5"/>
<rect class="b" x="1887.4" y="1314.9" width="67.7" height="40.9"/>
<rect class="b" x="1955.1" y="1302.9" width="67.7" height="52.9"/>
<rect class="b" x="2022.7" y="1289.7" width="67.7" height="66.1"/>
<rect class="b" x="2090.4" y="1313.7" width="67.7" height="42.1"/>
<rect class="b" x="2158.1" y="1264.4" width="67.7" height="91.4"/>
<rect class="b" x="2225.7" y="1293.3" width="67.7" height="62.5"/>
<rect class="b" x="2293.4" y="1300.5" width="67.7" height="55.3"/>
<path class="l" d="M2361.1 1355.8L2428.7 1355.8"/>
<path class="l" d="M2428.7 1355.8L2496.4 1355.8"/>
<rect class="b" x="2496.4" y="1314.9" width="67.7" height="40.9"/>
<path class="l" d="M2564.1 1355.8L2631.8 1355.8"/>
<path class="l" d="M2631.8 1355.8L2699.4 1355.8"/>
<rect class="b" x="2699.4" y="1331.7" width="67.7" height="24.1"/>
<path class="l" d="M1718.2 1373.4L2733.2 1373.4"/>
<path class="l" d="M1718.2 1373.4L1718.2 1389.3"/>
<text class="t" x="1718.2" y="1430.7">0.005</text>
<path class="l" d="M1887.4 1373.4L1887.4 1389.3"/>
<text class="t" x="1887.4" y="1430.7">0.010</text>
<path class="l" d="M2056.5 1373.4L2056.5 1389.3"/>
<text class="t" x="2056.5" y="1430.7">0.015</text>
<path class="l" d="M2225.7 1373.4L2225.7 1389.3"/>
<text class="t" x="2225.7" y="1430.7">0.020</text>
<path class="l" d="M2394.9 1373.4L2394.9 1389.3"/>
<text class="t" x="2394.9" y="1430.7">0.025</text>
<path class="l" d="M2564.1 1373.4L2564.1 1389.3"/>
<text class="t" x="2564.1" y="1430.7">0.030</text>
<path class="l" d="M2733.2 1373.4L2733.2 1389.3"/>
<text class="t" x="2733.2" y="1430.7">0.035</text>
<path class="l" d="M1570.7 1355.8L1570.7 995"/>
<path class="l" d="M1570.7 1355.8L1554.8 1355.8"/>
<text class="t" transform="translate(1532 1355.8) rotate(-90)">0</text>
<path class="l" d="M1570.7 1235.5L1554.8 1235.5"/>
<text class="t" transform="translate(1532 1235.5) rotate(-90)">100</text>
<path class="l" d="M1570.7 1115.3L1554.8 1115.3"/>
<text class="t" transform="translate(1532 1115.3) rotate(-90)">200</text>
<path class="l" d="M1570.7 995L1554.8 995"/>
<text class="t" transform="translate(1532 995) rotate(-90)">300</text>
<text class="t" x="2191.9" y="1494.6">leverage(H1_Full_ME_Sparrows)[, 1]</text>
<text class="t" transform="translate(1468.4 1136) rotate(-90)">Frequency</text>
<text class="h" x="2191.9" y="844.7">Histogram of leverage(H1_Full_ME_Sparrows)[, 1]</text>
</svg>
</body></html>
